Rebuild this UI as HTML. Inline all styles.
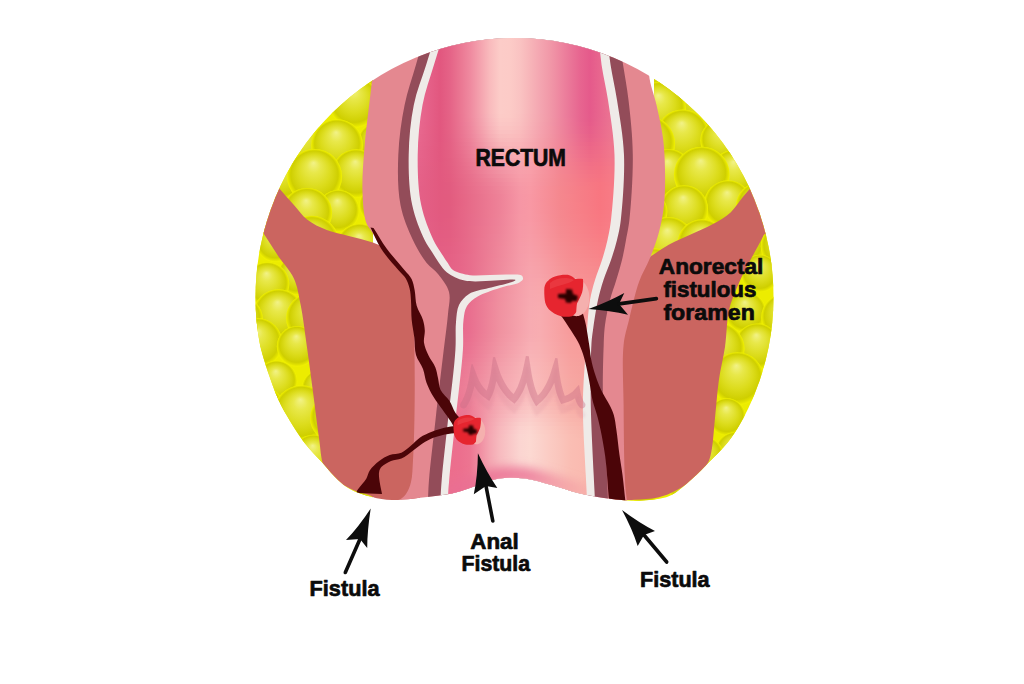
<!DOCTYPE html>
<html><head><meta charset="utf-8">
<style>
html,body{margin:0;padding:0;background:#fff;width:1024px;height:684px;overflow:hidden}
svg{display:block}
text{font-family:"Liberation Sans",sans-serif;font-weight:bold;fill:#0b0b0b;stroke:#0b0b0b;stroke-width:0.7px;stroke-linejoin:round}
</style></head><body>
<svg width="1024" height="684" viewBox="0 0 1024 684">
<defs>
  <clipPath id="circ"><circle cx="514.5" cy="297" r="259"/></clipPath>
  <clipPath id="wave"><path d="M -10,-10 L 1034,-10 L 1034,395 L 765,395 C 758.0,403.3 750.4,411.8 744.0,420.0 C 738.0,427.6 733.4,435.7 727.5,442.7 C 721.8,449.5 715.4,455.6 709.4,461.7 C 703.6,467.6 698.4,473.5 692.0,479.0 C 685.1,484.9 677.7,492.4 669.4,496.0 C 661.3,499.5 650.5,499.8 642.8,500.5 C 636.9,501.0 632.8,500.8 627.0,500.5 C 620.0,500.1 611.9,499.2 604.0,498.0 C 595.6,496.7 586.6,495.1 578.0,493.0 C 569.2,490.8 560.4,487.4 551.6,485.0 C 542.8,482.6 533.9,479.6 525.0,478.5 C 516.3,477.5 507.6,477.2 499.0,478.5 C 490.1,479.9 480.2,484.5 472.6,487.0 C 466.9,488.9 462.2,490.7 457.5,492.0 C 453.4,493.1 450.1,493.8 446.0,494.5 C 441.3,495.3 437.2,495.8 431.0,496.5 C 421.1,497.6 402.8,500.3 392.0,500.0 C 384.2,499.8 378.7,498.7 372.0,497.0 C 364.8,495.2 356.0,492.3 350.0,489.0 C 345.2,486.4 342.0,483.7 338.0,480.0 C 333.0,475.5 328.2,469.2 322.9,463.3 C 317.1,456.8 310.1,450.0 304.6,442.9 C 299.2,435.9 294.4,428.3 290.0,421.0 C 285.8,414.0 282.1,407.6 278.6,400.0 C 274.7,391.5 271.3,381.7 268.0,372.0 C 264.5,361.7 261.3,350.7 258.0,340.0 L -10,340 Z"/></clipPath>
  <radialGradient id="bub" cx="0.5" cy="0.5" r="0.5" fx="0.48" fy="0.25">
    <stop offset="0" stop-color="#f2f288"/>
    <stop offset="0.25" stop-color="#e8e84a"/>
    <stop offset="0.6" stop-color="#dcdc1c"/>
    <stop offset="0.86" stop-color="#cfcf00"/>
    <stop offset="0.95" stop-color="#e4e400"/>
    <stop offset="1" stop-color="#f2f200"/>
  </radialGradient>
  <linearGradient id="lum" gradientUnits="userSpaceOnUse" x1="420" y1="0" x2="615" y2="0">
    <stop offset="0" stop-color="#ea6a92"/>
    <stop offset="0.2" stop-color="#e25886"/>
    <stop offset="0.38" stop-color="#f295ab"/>
    <stop offset="0.52" stop-color="#fcc5c7"/>
    <stop offset="0.66" stop-color="#f5a4b2"/>
    <stop offset="0.82" stop-color="#e35b86"/>
    <stop offset="1" stop-color="#f08aa0"/>
  </linearGradient>
  <radialGradient id="lowlum" gradientUnits="userSpaceOnUse" cx="520" cy="440" r="110">
    <stop offset="0" stop-color="#fde3dc" stop-opacity="1"/>
    <stop offset="0.5" stop-color="#fbd0cc" stop-opacity="0.9"/>
    <stop offset="1" stop-color="#f6b0b4" stop-opacity="0"/>
  </radialGradient>
  <radialGradient id="red" cx="0.4" cy="0.45" r="0.6">
    <stop offset="0" stop-color="#e8303c"/>
    <stop offset="0.7" stop-color="#e42a36"/>
    <stop offset="1" stop-color="#d8202e"/>
  </radialGradient>
  <filter id="blur1" x="-50%" y="-50%" width="200%" height="200%"><feGaussianBlur stdDeviation="1.2"/></filter>
  <filter id="blur3" filterUnits="userSpaceOnUse" x="380" y="380" width="300" height="160"><feGaussianBlur stdDeviation="5"/></filter>
<clipPath id="lumclip"><path d="M 445.0,30.0 C 441.3,41.7 437.5,52.9 433.9,65.0 C 430.0,77.9 425.2,90.8 422.5,105.0 C 419.6,120.6 417.9,138.3 417.7,155.0 C 417.5,171.7 418.1,190.0 421.2,205.0 C 423.9,217.9 429.5,231.5 433.4,240.0 C 435.8,245.2 438.1,248.1 440.5,252.0 C 442.9,255.8 445.5,259.8 447.8,263.0 C 449.6,265.6 450.3,268.1 453.0,270.0 C 456.8,272.7 464.0,274.3 470.0,275.2 C 476.3,276.1 483.5,275.1 490.0,275.0 C 496.2,274.9 502.4,274.5 508.0,274.6 C 512.9,274.7 519.5,273.9 521.6,275.5 C 522.7,276.3 523.2,277.9 523.0,279.0 C 522.7,280.2 521.3,281.3 519.4,282.4 C 515.6,284.6 506.3,285.7 499.6,287.9 C 492.4,290.3 483.5,293.0 477.7,296.5 C 473.2,299.3 469.4,302.1 467.0,306.0 C 464.6,309.9 464.2,314.4 463.5,320.0 C 462.4,328.1 463.7,337.9 462.9,350.0 C 461.7,368.5 457.9,397.6 455.5,420.0 C 453.3,440.8 450.4,465.3 449.2,480.0 C 448.5,488.4 448.4,493.3 448.0,500.0 C 447.6,506.7 447.3,513.3 447.0,520.0 L 588.0,520.0 C 587.7,513.3 587.3,507.0 587.0,500.0 C 586.6,492.1 586.3,485.4 585.8,475.0 C 585.0,457.5 582.8,425.8 582.9,405.0 C 582.9,388.3 584.2,373.5 585.0,360.0 C 585.6,349.0 586.2,340.0 587.0,330.0 C 587.8,320.0 588.4,308.9 590.0,300.0 C 591.3,292.6 593.0,286.6 595.0,280.0 C 597.0,273.3 599.9,266.7 602.0,260.0 C 604.1,253.4 606.0,246.7 607.5,240.0 C 609.0,233.4 610.0,228.6 611.0,220.0 C 612.8,204.6 615.2,175.7 614.5,155.0 C 613.9,135.9 610.4,116.2 608.0,100.0 C 606.0,87.0 603.3,76.7 601.6,65.0 C 599.9,53.4 599.2,41.7 598.0,30.0 Z"/></clipPath>
<linearGradient id="s0" gradientUnits="userSpaceOnUse" x1="420" y1="0" x2="615" y2="0"><stop offset="0.000" stop-color="#e8688f"/><stop offset="0.051" stop-color="#e55f87"/><stop offset="0.103" stop-color="#e2577f"/><stop offset="0.154" stop-color="#e56387"/><stop offset="0.205" stop-color="#ea7692"/><stop offset="0.256" stop-color="#ef899f"/><stop offset="0.308" stop-color="#f4a2ae"/><stop offset="0.359" stop-color="#f9bbbd"/><stop offset="0.410" stop-color="#fcccc8"/><stop offset="0.462" stop-color="#fccbc7"/><stop offset="0.513" stop-color="#fac3c2"/><stop offset="0.564" stop-color="#f7b5b9"/><stop offset="0.615" stop-color="#f4a6b1"/><stop offset="0.667" stop-color="#f198a8"/><stop offset="0.718" stop-color="#ee87a0"/><stop offset="0.769" stop-color="#ea7698"/><stop offset="0.821" stop-color="#e76590"/><stop offset="0.872" stop-color="#e55a8b"/><stop offset="0.923" stop-color="#e8668e"/><stop offset="0.974" stop-color="#eb7292"/></linearGradient>
<linearGradient id="s1" gradientUnits="userSpaceOnUse" x1="420" y1="0" x2="615" y2="0"><stop offset="0.000" stop-color="#e8688f"/><stop offset="0.051" stop-color="#e55f87"/><stop offset="0.103" stop-color="#e2577f"/><stop offset="0.154" stop-color="#e56387"/><stop offset="0.205" stop-color="#ea7692"/><stop offset="0.256" stop-color="#ef899f"/><stop offset="0.308" stop-color="#f4a2ae"/><stop offset="0.359" stop-color="#f9bbbd"/><stop offset="0.410" stop-color="#fcccc8"/><stop offset="0.462" stop-color="#fccbc7"/><stop offset="0.513" stop-color="#fac3c2"/><stop offset="0.564" stop-color="#f7b5b9"/><stop offset="0.615" stop-color="#f4a6b1"/><stop offset="0.667" stop-color="#f198a8"/><stop offset="0.718" stop-color="#ee87a0"/><stop offset="0.769" stop-color="#ea7698"/><stop offset="0.821" stop-color="#e76590"/><stop offset="0.872" stop-color="#e55a8b"/><stop offset="0.923" stop-color="#e8668e"/><stop offset="0.974" stop-color="#eb7292"/></linearGradient>
<linearGradient id="s2" gradientUnits="userSpaceOnUse" x1="420" y1="0" x2="615" y2="0"><stop offset="0.000" stop-color="#e8688f"/><stop offset="0.051" stop-color="#e55f87"/><stop offset="0.103" stop-color="#e2577f"/><stop offset="0.154" stop-color="#e56387"/><stop offset="0.205" stop-color="#ea7692"/><stop offset="0.256" stop-color="#ef899f"/><stop offset="0.308" stop-color="#f4a2ae"/><stop offset="0.359" stop-color="#f9bbbd"/><stop offset="0.410" stop-color="#fcccc8"/><stop offset="0.462" stop-color="#fccbc7"/><stop offset="0.513" stop-color="#fac3c2"/><stop offset="0.564" stop-color="#f7b5b9"/><stop offset="0.615" stop-color="#f4a6b1"/><stop offset="0.667" stop-color="#f198a8"/><stop offset="0.718" stop-color="#ee87a0"/><stop offset="0.769" stop-color="#ea7698"/><stop offset="0.821" stop-color="#e76590"/><stop offset="0.872" stop-color="#e55a8b"/><stop offset="0.923" stop-color="#e8668e"/><stop offset="0.974" stop-color="#eb7292"/></linearGradient>
<linearGradient id="s3" gradientUnits="userSpaceOnUse" x1="420" y1="0" x2="615" y2="0"><stop offset="0.000" stop-color="#e8688f"/><stop offset="0.051" stop-color="#e55f87"/><stop offset="0.103" stop-color="#e2577f"/><stop offset="0.154" stop-color="#e56387"/><stop offset="0.205" stop-color="#ea7692"/><stop offset="0.256" stop-color="#ef899f"/><stop offset="0.308" stop-color="#f4a2ae"/><stop offset="0.359" stop-color="#f9bbbd"/><stop offset="0.410" stop-color="#fcccc8"/><stop offset="0.462" stop-color="#fccbc7"/><stop offset="0.513" stop-color="#fac3c2"/><stop offset="0.564" stop-color="#f7b5b9"/><stop offset="0.615" stop-color="#f4a6b1"/><stop offset="0.667" stop-color="#f198a8"/><stop offset="0.718" stop-color="#ee87a0"/><stop offset="0.769" stop-color="#ea7698"/><stop offset="0.821" stop-color="#e76590"/><stop offset="0.872" stop-color="#e55a8b"/><stop offset="0.923" stop-color="#e8668e"/><stop offset="0.974" stop-color="#eb7292"/></linearGradient>
<linearGradient id="s4" gradientUnits="userSpaceOnUse" x1="420" y1="0" x2="615" y2="0"><stop offset="0.000" stop-color="#e8688f"/><stop offset="0.051" stop-color="#e55f87"/><stop offset="0.103" stop-color="#e2577f"/><stop offset="0.154" stop-color="#e56387"/><stop offset="0.205" stop-color="#ea7692"/><stop offset="0.256" stop-color="#ef899f"/><stop offset="0.308" stop-color="#f4a2ae"/><stop offset="0.359" stop-color="#f9bbbd"/><stop offset="0.410" stop-color="#fcccc8"/><stop offset="0.462" stop-color="#fccbc7"/><stop offset="0.513" stop-color="#fac3c2"/><stop offset="0.564" stop-color="#f7b5b9"/><stop offset="0.615" stop-color="#f4a6b1"/><stop offset="0.667" stop-color="#f198a8"/><stop offset="0.718" stop-color="#ee87a0"/><stop offset="0.769" stop-color="#ea7698"/><stop offset="0.821" stop-color="#e76590"/><stop offset="0.872" stop-color="#e55a8b"/><stop offset="0.923" stop-color="#e8668e"/><stop offset="0.974" stop-color="#eb7292"/></linearGradient>
<linearGradient id="s5" gradientUnits="userSpaceOnUse" x1="420" y1="0" x2="615" y2="0"><stop offset="0.000" stop-color="#e8688f"/><stop offset="0.051" stop-color="#e55f87"/><stop offset="0.103" stop-color="#e2577f"/><stop offset="0.154" stop-color="#e56387"/><stop offset="0.205" stop-color="#ea7692"/><stop offset="0.256" stop-color="#ef899f"/><stop offset="0.308" stop-color="#f4a2ae"/><stop offset="0.359" stop-color="#f9bbbd"/><stop offset="0.410" stop-color="#fcccc8"/><stop offset="0.462" stop-color="#fccbc7"/><stop offset="0.513" stop-color="#fac3c2"/><stop offset="0.564" stop-color="#f7b5b9"/><stop offset="0.615" stop-color="#f4a6b1"/><stop offset="0.667" stop-color="#f198a8"/><stop offset="0.718" stop-color="#ee87a0"/><stop offset="0.769" stop-color="#ea7698"/><stop offset="0.821" stop-color="#e76590"/><stop offset="0.872" stop-color="#e55a8b"/><stop offset="0.923" stop-color="#e8668e"/><stop offset="0.974" stop-color="#eb7292"/></linearGradient>
<linearGradient id="s6" gradientUnits="userSpaceOnUse" x1="420" y1="0" x2="615" y2="0"><stop offset="0.000" stop-color="#e8688f"/><stop offset="0.051" stop-color="#e55f87"/><stop offset="0.103" stop-color="#e2577f"/><stop offset="0.154" stop-color="#e56387"/><stop offset="0.205" stop-color="#ea7692"/><stop offset="0.256" stop-color="#ef899f"/><stop offset="0.308" stop-color="#f4a2ae"/><stop offset="0.359" stop-color="#f9bbbd"/><stop offset="0.410" stop-color="#fcccc8"/><stop offset="0.462" stop-color="#fccbc7"/><stop offset="0.513" stop-color="#fac3c2"/><stop offset="0.564" stop-color="#f7b5b9"/><stop offset="0.615" stop-color="#f4a6b1"/><stop offset="0.667" stop-color="#f198a8"/><stop offset="0.718" stop-color="#ee87a0"/><stop offset="0.769" stop-color="#ea7698"/><stop offset="0.821" stop-color="#e76590"/><stop offset="0.872" stop-color="#e55a8b"/><stop offset="0.923" stop-color="#e8668e"/><stop offset="0.974" stop-color="#eb7292"/></linearGradient>
<linearGradient id="s7" gradientUnits="userSpaceOnUse" x1="420" y1="0" x2="615" y2="0"><stop offset="0.000" stop-color="#e8688f"/><stop offset="0.051" stop-color="#e55f87"/><stop offset="0.103" stop-color="#e2577f"/><stop offset="0.154" stop-color="#e56387"/><stop offset="0.205" stop-color="#ea7692"/><stop offset="0.256" stop-color="#ef899f"/><stop offset="0.308" stop-color="#f4a2ae"/><stop offset="0.359" stop-color="#f9bbbd"/><stop offset="0.410" stop-color="#fcccc8"/><stop offset="0.462" stop-color="#fccbc7"/><stop offset="0.513" stop-color="#fac3c2"/><stop offset="0.564" stop-color="#f7b5b9"/><stop offset="0.615" stop-color="#f4a6b1"/><stop offset="0.667" stop-color="#f198a8"/><stop offset="0.718" stop-color="#ee87a0"/><stop offset="0.769" stop-color="#ea7698"/><stop offset="0.821" stop-color="#e76590"/><stop offset="0.872" stop-color="#e55a8b"/><stop offset="0.923" stop-color="#e8668e"/><stop offset="0.974" stop-color="#eb7292"/></linearGradient>
<linearGradient id="s8" gradientUnits="userSpaceOnUse" x1="420" y1="0" x2="615" y2="0"><stop offset="0.000" stop-color="#e8688f"/><stop offset="0.051" stop-color="#e55f87"/><stop offset="0.103" stop-color="#e2577f"/><stop offset="0.154" stop-color="#e56387"/><stop offset="0.205" stop-color="#ea7692"/><stop offset="0.256" stop-color="#ef899f"/><stop offset="0.308" stop-color="#f4a2ae"/><stop offset="0.359" stop-color="#f9bbbd"/><stop offset="0.410" stop-color="#fcccc8"/><stop offset="0.462" stop-color="#fccbc7"/><stop offset="0.513" stop-color="#fac3c2"/><stop offset="0.564" stop-color="#f7b5b9"/><stop offset="0.615" stop-color="#f4a6b1"/><stop offset="0.667" stop-color="#f198a8"/><stop offset="0.718" stop-color="#ee87a0"/><stop offset="0.769" stop-color="#ea7698"/><stop offset="0.821" stop-color="#e76590"/><stop offset="0.872" stop-color="#e55a8b"/><stop offset="0.923" stop-color="#e8668e"/><stop offset="0.974" stop-color="#eb7292"/></linearGradient>
<linearGradient id="s9" gradientUnits="userSpaceOnUse" x1="420" y1="0" x2="615" y2="0"><stop offset="0.000" stop-color="#e8688f"/><stop offset="0.051" stop-color="#e55f87"/><stop offset="0.103" stop-color="#e2577f"/><stop offset="0.154" stop-color="#e56387"/><stop offset="0.205" stop-color="#ea7692"/><stop offset="0.256" stop-color="#ef899f"/><stop offset="0.308" stop-color="#f4a2ae"/><stop offset="0.359" stop-color="#f9bbbd"/><stop offset="0.410" stop-color="#fcccc8"/><stop offset="0.462" stop-color="#fccbc7"/><stop offset="0.513" stop-color="#fac3c2"/><stop offset="0.564" stop-color="#f7b5b9"/><stop offset="0.615" stop-color="#f4a6b1"/><stop offset="0.667" stop-color="#f198a8"/><stop offset="0.718" stop-color="#ee87a0"/><stop offset="0.769" stop-color="#ea7698"/><stop offset="0.821" stop-color="#e76590"/><stop offset="0.872" stop-color="#e55a8b"/><stop offset="0.923" stop-color="#e8668e"/><stop offset="0.974" stop-color="#eb7292"/></linearGradient>
<linearGradient id="s10" gradientUnits="userSpaceOnUse" x1="420" y1="0" x2="615" y2="0"><stop offset="0.000" stop-color="#e8688f"/><stop offset="0.051" stop-color="#e55f87"/><stop offset="0.103" stop-color="#e2577f"/><stop offset="0.154" stop-color="#e56387"/><stop offset="0.205" stop-color="#ea7692"/><stop offset="0.256" stop-color="#ef899f"/><stop offset="0.308" stop-color="#f4a2ae"/><stop offset="0.359" stop-color="#f9bbbd"/><stop offset="0.410" stop-color="#fcccc8"/><stop offset="0.462" stop-color="#fccbc7"/><stop offset="0.513" stop-color="#fac3c2"/><stop offset="0.564" stop-color="#f7b5b9"/><stop offset="0.615" stop-color="#f4a6b1"/><stop offset="0.667" stop-color="#f198a8"/><stop offset="0.718" stop-color="#ee87a0"/><stop offset="0.769" stop-color="#ea7698"/><stop offset="0.821" stop-color="#e76590"/><stop offset="0.872" stop-color="#e55a8b"/><stop offset="0.923" stop-color="#e8668e"/><stop offset="0.974" stop-color="#eb7292"/></linearGradient>
<linearGradient id="s11" gradientUnits="userSpaceOnUse" x1="420" y1="0" x2="615" y2="0"><stop offset="0.000" stop-color="#e8688f"/><stop offset="0.051" stop-color="#e55f87"/><stop offset="0.103" stop-color="#e2577f"/><stop offset="0.154" stop-color="#e56387"/><stop offset="0.205" stop-color="#ea7692"/><stop offset="0.256" stop-color="#ef899f"/><stop offset="0.308" stop-color="#f4a2ae"/><stop offset="0.359" stop-color="#f9bbbd"/><stop offset="0.410" stop-color="#fcccc8"/><stop offset="0.462" stop-color="#fccbc7"/><stop offset="0.513" stop-color="#fac3c2"/><stop offset="0.564" stop-color="#f7b5b9"/><stop offset="0.615" stop-color="#f4a6b1"/><stop offset="0.667" stop-color="#f198a8"/><stop offset="0.718" stop-color="#ee87a0"/><stop offset="0.769" stop-color="#ea7698"/><stop offset="0.821" stop-color="#e76590"/><stop offset="0.872" stop-color="#e55a8b"/><stop offset="0.923" stop-color="#e8668e"/><stop offset="0.974" stop-color="#eb7292"/></linearGradient>
<linearGradient id="s12" gradientUnits="userSpaceOnUse" x1="420" y1="0" x2="615" y2="0"><stop offset="0.000" stop-color="#e8688f"/><stop offset="0.051" stop-color="#e55f87"/><stop offset="0.103" stop-color="#e2577f"/><stop offset="0.154" stop-color="#e56387"/><stop offset="0.205" stop-color="#ea7692"/><stop offset="0.256" stop-color="#ef899f"/><stop offset="0.308" stop-color="#f4a2ae"/><stop offset="0.359" stop-color="#f9bbbd"/><stop offset="0.410" stop-color="#fcccc8"/><stop offset="0.462" stop-color="#fccbc7"/><stop offset="0.513" stop-color="#fac3c2"/><stop offset="0.564" stop-color="#f7b5b9"/><stop offset="0.615" stop-color="#f4a6b1"/><stop offset="0.667" stop-color="#f198a8"/><stop offset="0.718" stop-color="#ee87a0"/><stop offset="0.769" stop-color="#ea7698"/><stop offset="0.821" stop-color="#e76590"/><stop offset="0.872" stop-color="#e55a8b"/><stop offset="0.923" stop-color="#e8668e"/><stop offset="0.974" stop-color="#eb7292"/></linearGradient>
<linearGradient id="s13" gradientUnits="userSpaceOnUse" x1="420" y1="0" x2="615" y2="0"><stop offset="0.000" stop-color="#e8688f"/><stop offset="0.051" stop-color="#e55f87"/><stop offset="0.103" stop-color="#e2577f"/><stop offset="0.154" stop-color="#e56387"/><stop offset="0.205" stop-color="#ea7692"/><stop offset="0.256" stop-color="#ef899f"/><stop offset="0.308" stop-color="#f4a2ae"/><stop offset="0.359" stop-color="#f9bbbd"/><stop offset="0.410" stop-color="#fcccc8"/><stop offset="0.462" stop-color="#fccbc7"/><stop offset="0.513" stop-color="#fac3c2"/><stop offset="0.564" stop-color="#f7b5b9"/><stop offset="0.615" stop-color="#f4a6b1"/><stop offset="0.667" stop-color="#f198a8"/><stop offset="0.718" stop-color="#ee87a0"/><stop offset="0.769" stop-color="#ea7698"/><stop offset="0.821" stop-color="#e76590"/><stop offset="0.872" stop-color="#e55a8b"/><stop offset="0.923" stop-color="#e8668e"/><stop offset="0.974" stop-color="#eb7292"/></linearGradient>
<linearGradient id="s14" gradientUnits="userSpaceOnUse" x1="420" y1="0" x2="615" y2="0"><stop offset="0.000" stop-color="#e8688f"/><stop offset="0.051" stop-color="#e55f87"/><stop offset="0.103" stop-color="#e2577f"/><stop offset="0.154" stop-color="#e56387"/><stop offset="0.205" stop-color="#ea7692"/><stop offset="0.256" stop-color="#ef899f"/><stop offset="0.308" stop-color="#f4a2ae"/><stop offset="0.359" stop-color="#f9bbbd"/><stop offset="0.410" stop-color="#fcccc8"/><stop offset="0.462" stop-color="#fccbc7"/><stop offset="0.513" stop-color="#fac3c2"/><stop offset="0.564" stop-color="#f7b5b9"/><stop offset="0.615" stop-color="#f4a6b1"/><stop offset="0.667" stop-color="#f198a8"/><stop offset="0.718" stop-color="#ee87a0"/><stop offset="0.769" stop-color="#ea7698"/><stop offset="0.821" stop-color="#e76590"/><stop offset="0.872" stop-color="#e55a8b"/><stop offset="0.923" stop-color="#e8668e"/><stop offset="0.974" stop-color="#eb7292"/></linearGradient>
<linearGradient id="s15" gradientUnits="userSpaceOnUse" x1="420" y1="0" x2="615" y2="0"><stop offset="0.000" stop-color="#e8688f"/><stop offset="0.051" stop-color="#e55f87"/><stop offset="0.103" stop-color="#e2577f"/><stop offset="0.154" stop-color="#e56387"/><stop offset="0.205" stop-color="#ea7692"/><stop offset="0.256" stop-color="#ef899f"/><stop offset="0.308" stop-color="#f4a2ae"/><stop offset="0.359" stop-color="#f9bbbd"/><stop offset="0.410" stop-color="#fcccc8"/><stop offset="0.462" stop-color="#fccbc7"/><stop offset="0.513" stop-color="#fac3c2"/><stop offset="0.564" stop-color="#f7b5b9"/><stop offset="0.615" stop-color="#f4a6b1"/><stop offset="0.667" stop-color="#f198a8"/><stop offset="0.718" stop-color="#ee87a0"/><stop offset="0.769" stop-color="#ea7698"/><stop offset="0.821" stop-color="#e76590"/><stop offset="0.872" stop-color="#e55a8b"/><stop offset="0.923" stop-color="#e8668e"/><stop offset="0.974" stop-color="#eb7292"/></linearGradient>
<linearGradient id="s16" gradientUnits="userSpaceOnUse" x1="420" y1="0" x2="615" y2="0"><stop offset="0.000" stop-color="#e8688f"/><stop offset="0.051" stop-color="#e55f87"/><stop offset="0.103" stop-color="#e2577f"/><stop offset="0.154" stop-color="#e56387"/><stop offset="0.205" stop-color="#ea7692"/><stop offset="0.256" stop-color="#ef899f"/><stop offset="0.308" stop-color="#f4a2ae"/><stop offset="0.359" stop-color="#f9bbbd"/><stop offset="0.410" stop-color="#fcccc8"/><stop offset="0.462" stop-color="#fccbc7"/><stop offset="0.513" stop-color="#fac3c2"/><stop offset="0.564" stop-color="#f7b5b9"/><stop offset="0.615" stop-color="#f4a6b1"/><stop offset="0.667" stop-color="#f198a8"/><stop offset="0.718" stop-color="#ee87a0"/><stop offset="0.769" stop-color="#ea7698"/><stop offset="0.821" stop-color="#e76590"/><stop offset="0.872" stop-color="#e55a8b"/><stop offset="0.923" stop-color="#e8668e"/><stop offset="0.974" stop-color="#eb7292"/></linearGradient>
<linearGradient id="s17" gradientUnits="userSpaceOnUse" x1="420" y1="0" x2="615" y2="0"><stop offset="0.000" stop-color="#e8688f"/><stop offset="0.051" stop-color="#e55f87"/><stop offset="0.103" stop-color="#e2577f"/><stop offset="0.154" stop-color="#e56387"/><stop offset="0.205" stop-color="#ea7692"/><stop offset="0.256" stop-color="#ef899f"/><stop offset="0.308" stop-color="#f4a2ae"/><stop offset="0.359" stop-color="#f9bbbd"/><stop offset="0.410" stop-color="#fcccc8"/><stop offset="0.462" stop-color="#fccbc7"/><stop offset="0.513" stop-color="#fac3c2"/><stop offset="0.564" stop-color="#f7b5b9"/><stop offset="0.615" stop-color="#f4a6b1"/><stop offset="0.667" stop-color="#f198a8"/><stop offset="0.718" stop-color="#ee87a0"/><stop offset="0.769" stop-color="#ea7698"/><stop offset="0.821" stop-color="#e76590"/><stop offset="0.872" stop-color="#e55a8b"/><stop offset="0.923" stop-color="#e8668e"/><stop offset="0.974" stop-color="#eb7292"/></linearGradient>
<linearGradient id="s18" gradientUnits="userSpaceOnUse" x1="420" y1="0" x2="615" y2="0"><stop offset="0.000" stop-color="#e8688f"/><stop offset="0.051" stop-color="#e55f87"/><stop offset="0.103" stop-color="#e2577f"/><stop offset="0.154" stop-color="#e56387"/><stop offset="0.205" stop-color="#ea7692"/><stop offset="0.256" stop-color="#ef899f"/><stop offset="0.308" stop-color="#f4a2ae"/><stop offset="0.359" stop-color="#f9bbbd"/><stop offset="0.410" stop-color="#fcccc8"/><stop offset="0.462" stop-color="#fccbc7"/><stop offset="0.513" stop-color="#fac3c2"/><stop offset="0.564" stop-color="#f7b5b9"/><stop offset="0.615" stop-color="#f4a6b1"/><stop offset="0.667" stop-color="#f198a8"/><stop offset="0.718" stop-color="#ee87a0"/><stop offset="0.769" stop-color="#ea7698"/><stop offset="0.821" stop-color="#e76590"/><stop offset="0.872" stop-color="#e55a8b"/><stop offset="0.923" stop-color="#e8668e"/><stop offset="0.974" stop-color="#eb7292"/></linearGradient>
<linearGradient id="s19" gradientUnits="userSpaceOnUse" x1="420" y1="0" x2="615" y2="0"><stop offset="0.000" stop-color="#e8688f"/><stop offset="0.051" stop-color="#e55f87"/><stop offset="0.103" stop-color="#e2577f"/><stop offset="0.154" stop-color="#e56387"/><stop offset="0.205" stop-color="#ea7692"/><stop offset="0.256" stop-color="#ef899f"/><stop offset="0.308" stop-color="#f4a2ae"/><stop offset="0.359" stop-color="#f9bbbd"/><stop offset="0.410" stop-color="#fcccc8"/><stop offset="0.462" stop-color="#fccbc7"/><stop offset="0.513" stop-color="#fac3c2"/><stop offset="0.564" stop-color="#f7b5b9"/><stop offset="0.615" stop-color="#f4a6b1"/><stop offset="0.667" stop-color="#f198a8"/><stop offset="0.718" stop-color="#ee87a0"/><stop offset="0.769" stop-color="#ea7698"/><stop offset="0.821" stop-color="#e76590"/><stop offset="0.872" stop-color="#e55a8b"/><stop offset="0.923" stop-color="#e8668e"/><stop offset="0.974" stop-color="#eb7292"/></linearGradient>
<linearGradient id="s20" gradientUnits="userSpaceOnUse" x1="420" y1="0" x2="615" y2="0"><stop offset="0.000" stop-color="#e8688f"/><stop offset="0.051" stop-color="#e55f87"/><stop offset="0.103" stop-color="#e2577f"/><stop offset="0.154" stop-color="#e56387"/><stop offset="0.205" stop-color="#ea7692"/><stop offset="0.256" stop-color="#ef899f"/><stop offset="0.308" stop-color="#f4a2ae"/><stop offset="0.359" stop-color="#f9bbbd"/><stop offset="0.410" stop-color="#fcccc8"/><stop offset="0.462" stop-color="#fccac6"/><stop offset="0.513" stop-color="#fac3c2"/><stop offset="0.564" stop-color="#f7b5b9"/><stop offset="0.615" stop-color="#f4a6b1"/><stop offset="0.667" stop-color="#f198a8"/><stop offset="0.718" stop-color="#ee87a0"/><stop offset="0.769" stop-color="#ea7698"/><stop offset="0.821" stop-color="#e76690"/><stop offset="0.872" stop-color="#e55a8b"/><stop offset="0.923" stop-color="#e8668e"/><stop offset="0.974" stop-color="#eb7292"/></linearGradient>
<linearGradient id="s21" gradientUnits="userSpaceOnUse" x1="420" y1="0" x2="615" y2="0"><stop offset="0.000" stop-color="#e8688f"/><stop offset="0.051" stop-color="#e55f87"/><stop offset="0.103" stop-color="#e2577f"/><stop offset="0.154" stop-color="#e56386"/><stop offset="0.205" stop-color="#ea7592"/><stop offset="0.256" stop-color="#ef899f"/><stop offset="0.308" stop-color="#f4a1ae"/><stop offset="0.359" stop-color="#f8babd"/><stop offset="0.410" stop-color="#fccbc7"/><stop offset="0.462" stop-color="#fccac6"/><stop offset="0.513" stop-color="#fac2c1"/><stop offset="0.564" stop-color="#f7b4b9"/><stop offset="0.615" stop-color="#f4a6b0"/><stop offset="0.667" stop-color="#f198a8"/><stop offset="0.718" stop-color="#ee87a0"/><stop offset="0.769" stop-color="#ea7698"/><stop offset="0.821" stop-color="#e76690"/><stop offset="0.872" stop-color="#e55b8b"/><stop offset="0.923" stop-color="#e8668e"/><stop offset="0.974" stop-color="#eb7292"/></linearGradient>
<linearGradient id="s22" gradientUnits="userSpaceOnUse" x1="420" y1="0" x2="615" y2="0"><stop offset="0.000" stop-color="#e8688f"/><stop offset="0.051" stop-color="#e55f87"/><stop offset="0.103" stop-color="#e2577f"/><stop offset="0.154" stop-color="#e56386"/><stop offset="0.205" stop-color="#ea7592"/><stop offset="0.256" stop-color="#ef889e"/><stop offset="0.308" stop-color="#f3a0ad"/><stop offset="0.359" stop-color="#f8b8bc"/><stop offset="0.410" stop-color="#fcc9c6"/><stop offset="0.462" stop-color="#fcc8c5"/><stop offset="0.513" stop-color="#fac1c1"/><stop offset="0.564" stop-color="#f7b4b8"/><stop offset="0.615" stop-color="#f4a6b0"/><stop offset="0.667" stop-color="#f198a7"/><stop offset="0.718" stop-color="#ee879f"/><stop offset="0.769" stop-color="#eb7798"/><stop offset="0.821" stop-color="#e76690"/><stop offset="0.872" stop-color="#e55b8a"/><stop offset="0.923" stop-color="#e8678e"/><stop offset="0.974" stop-color="#eb7292"/></linearGradient>
<linearGradient id="s23" gradientUnits="userSpaceOnUse" x1="420" y1="0" x2="615" y2="0"><stop offset="0.000" stop-color="#e8678e"/><stop offset="0.051" stop-color="#e55f87"/><stop offset="0.103" stop-color="#e2577f"/><stop offset="0.154" stop-color="#e56386"/><stop offset="0.205" stop-color="#ea7492"/><stop offset="0.256" stop-color="#ee879e"/><stop offset="0.308" stop-color="#f39fac"/><stop offset="0.359" stop-color="#f8b6bb"/><stop offset="0.410" stop-color="#fbc7c5"/><stop offset="0.462" stop-color="#fbc6c4"/><stop offset="0.513" stop-color="#fac0c0"/><stop offset="0.564" stop-color="#f7b3b8"/><stop offset="0.615" stop-color="#f4a5af"/><stop offset="0.667" stop-color="#f197a7"/><stop offset="0.718" stop-color="#ee879f"/><stop offset="0.769" stop-color="#eb7797"/><stop offset="0.821" stop-color="#e86790"/><stop offset="0.872" stop-color="#e65c8a"/><stop offset="0.923" stop-color="#e9678e"/><stop offset="0.974" stop-color="#eb7391"/></linearGradient>
<linearGradient id="s24" gradientUnits="userSpaceOnUse" x1="420" y1="0" x2="615" y2="0"><stop offset="0.000" stop-color="#e8678e"/><stop offset="0.051" stop-color="#e55f86"/><stop offset="0.103" stop-color="#e2577f"/><stop offset="0.154" stop-color="#e56386"/><stop offset="0.205" stop-color="#e97491"/><stop offset="0.256" stop-color="#ee869d"/><stop offset="0.308" stop-color="#f39dab"/><stop offset="0.359" stop-color="#f7b4b9"/><stop offset="0.410" stop-color="#fbc4c3"/><stop offset="0.462" stop-color="#fbc4c2"/><stop offset="0.513" stop-color="#fabebf"/><stop offset="0.564" stop-color="#f7b2b7"/><stop offset="0.615" stop-color="#f4a4af"/><stop offset="0.667" stop-color="#f297a6"/><stop offset="0.718" stop-color="#ee879e"/><stop offset="0.769" stop-color="#eb7897"/><stop offset="0.821" stop-color="#e8688f"/><stop offset="0.872" stop-color="#e75e8a"/><stop offset="0.923" stop-color="#e9688d"/><stop offset="0.974" stop-color="#ec7391"/></linearGradient>
<linearGradient id="s25" gradientUnits="userSpaceOnUse" x1="420" y1="0" x2="615" y2="0"><stop offset="0.000" stop-color="#e7678e"/><stop offset="0.051" stop-color="#e55f86"/><stop offset="0.103" stop-color="#e2577f"/><stop offset="0.154" stop-color="#e56285"/><stop offset="0.205" stop-color="#e97390"/><stop offset="0.256" stop-color="#ee849c"/><stop offset="0.308" stop-color="#f29ba9"/><stop offset="0.359" stop-color="#f7b1b7"/><stop offset="0.410" stop-color="#fac1c1"/><stop offset="0.462" stop-color="#fac1c1"/><stop offset="0.513" stop-color="#fabcbd"/><stop offset="0.564" stop-color="#f7b0b6"/><stop offset="0.615" stop-color="#f5a3ae"/><stop offset="0.667" stop-color="#f296a5"/><stop offset="0.718" stop-color="#ef879d"/><stop offset="0.769" stop-color="#ec7896"/><stop offset="0.821" stop-color="#e9698f"/><stop offset="0.872" stop-color="#e75f8a"/><stop offset="0.923" stop-color="#ea698c"/><stop offset="0.974" stop-color="#ed7390"/></linearGradient>
<linearGradient id="s26" gradientUnits="userSpaceOnUse" x1="420" y1="0" x2="615" y2="0"><stop offset="0.000" stop-color="#e7668d"/><stop offset="0.051" stop-color="#e45f86"/><stop offset="0.103" stop-color="#e2577f"/><stop offset="0.154" stop-color="#e46285"/><stop offset="0.205" stop-color="#e97290"/><stop offset="0.256" stop-color="#ed839b"/><stop offset="0.308" stop-color="#f298a8"/><stop offset="0.359" stop-color="#f6aeb5"/><stop offset="0.410" stop-color="#f9bdbe"/><stop offset="0.462" stop-color="#fabebe"/><stop offset="0.513" stop-color="#fababc"/><stop offset="0.564" stop-color="#f7afb5"/><stop offset="0.615" stop-color="#f5a2ad"/><stop offset="0.667" stop-color="#f296a4"/><stop offset="0.718" stop-color="#ef879c"/><stop offset="0.769" stop-color="#ed7995"/><stop offset="0.821" stop-color="#ea6b8e"/><stop offset="0.872" stop-color="#e86189"/><stop offset="0.923" stop-color="#eb698c"/><stop offset="0.974" stop-color="#ed748f"/></linearGradient>
<linearGradient id="s27" gradientUnits="userSpaceOnUse" x1="420" y1="0" x2="615" y2="0"><stop offset="0.000" stop-color="#e7668d"/><stop offset="0.051" stop-color="#e45f86"/><stop offset="0.103" stop-color="#e2577f"/><stop offset="0.154" stop-color="#e46185"/><stop offset="0.205" stop-color="#e9718f"/><stop offset="0.256" stop-color="#ed8199"/><stop offset="0.308" stop-color="#f196a6"/><stop offset="0.359" stop-color="#f5aab2"/><stop offset="0.410" stop-color="#f8b9bb"/><stop offset="0.462" stop-color="#f9babc"/><stop offset="0.513" stop-color="#f9b7ba"/><stop offset="0.564" stop-color="#f7adb4"/><stop offset="0.615" stop-color="#f5a1ab"/><stop offset="0.667" stop-color="#f295a3"/><stop offset="0.718" stop-color="#f0879b"/><stop offset="0.769" stop-color="#ed7a95"/><stop offset="0.821" stop-color="#eb6c8e"/><stop offset="0.872" stop-color="#e96389"/><stop offset="0.923" stop-color="#ec6a8b"/><stop offset="0.974" stop-color="#ee748e"/></linearGradient>
<linearGradient id="s28" gradientUnits="userSpaceOnUse" x1="420" y1="0" x2="615" y2="0"><stop offset="0.000" stop-color="#e7658c"/><stop offset="0.051" stop-color="#e45f86"/><stop offset="0.103" stop-color="#e2587f"/><stop offset="0.154" stop-color="#e46184"/><stop offset="0.205" stop-color="#e8708e"/><stop offset="0.256" stop-color="#ec7f98"/><stop offset="0.308" stop-color="#f093a4"/><stop offset="0.359" stop-color="#f4a6b0"/><stop offset="0.410" stop-color="#f8b4b8"/><stop offset="0.462" stop-color="#f9b7ba"/><stop offset="0.513" stop-color="#f9b4b8"/><stop offset="0.564" stop-color="#f7abb2"/><stop offset="0.615" stop-color="#f5a0aa"/><stop offset="0.667" stop-color="#f394a2"/><stop offset="0.718" stop-color="#f0879a"/><stop offset="0.769" stop-color="#ee7a94"/><stop offset="0.821" stop-color="#ec6d8d"/><stop offset="0.872" stop-color="#eb6588"/><stop offset="0.923" stop-color="#ed6b8a"/><stop offset="0.974" stop-color="#ef758e"/></linearGradient>
<linearGradient id="s29" gradientUnits="userSpaceOnUse" x1="420" y1="0" x2="615" y2="0"><stop offset="0.000" stop-color="#e6658c"/><stop offset="0.051" stop-color="#e45e85"/><stop offset="0.103" stop-color="#e2587f"/><stop offset="0.154" stop-color="#e46184"/><stop offset="0.205" stop-color="#e86f8d"/><stop offset="0.256" stop-color="#ec7d97"/><stop offset="0.308" stop-color="#f090a2"/><stop offset="0.359" stop-color="#f4a2ad"/><stop offset="0.410" stop-color="#f7afb5"/><stop offset="0.462" stop-color="#f8b3b7"/><stop offset="0.513" stop-color="#f9b2b7"/><stop offset="0.564" stop-color="#f7aab1"/><stop offset="0.615" stop-color="#f59fa9"/><stop offset="0.667" stop-color="#f394a1"/><stop offset="0.718" stop-color="#f08799"/><stop offset="0.769" stop-color="#ef7b93"/><stop offset="0.821" stop-color="#ed6f8d"/><stop offset="0.872" stop-color="#ec6788"/><stop offset="0.923" stop-color="#ee6c89"/><stop offset="0.974" stop-color="#f0758d"/></linearGradient>
<linearGradient id="s30" gradientUnits="userSpaceOnUse" x1="420" y1="0" x2="615" y2="0"><stop offset="0.000" stop-color="#e6648b"/><stop offset="0.051" stop-color="#e45e85"/><stop offset="0.103" stop-color="#e2587f"/><stop offset="0.154" stop-color="#e46083"/><stop offset="0.205" stop-color="#e86d8c"/><stop offset="0.256" stop-color="#eb7c95"/><stop offset="0.308" stop-color="#ef8da0"/><stop offset="0.359" stop-color="#f39eaa"/><stop offset="0.410" stop-color="#f6abb2"/><stop offset="0.462" stop-color="#f7aeb4"/><stop offset="0.513" stop-color="#f8afb5"/><stop offset="0.564" stop-color="#f7a8b0"/><stop offset="0.615" stop-color="#f59da8"/><stop offset="0.667" stop-color="#f393a0"/><stop offset="0.718" stop-color="#f18798"/><stop offset="0.769" stop-color="#ef7c92"/><stop offset="0.821" stop-color="#ee718c"/><stop offset="0.872" stop-color="#ed6987"/><stop offset="0.923" stop-color="#ef6d88"/><stop offset="0.974" stop-color="#f1768c"/></linearGradient>
<linearGradient id="s31" gradientUnits="userSpaceOnUse" x1="420" y1="0" x2="615" y2="0"><stop offset="0.000" stop-color="#e6648b"/><stop offset="0.051" stop-color="#e45e85"/><stop offset="0.103" stop-color="#e2587f"/><stop offset="0.154" stop-color="#e46083"/><stop offset="0.205" stop-color="#e76c8b"/><stop offset="0.256" stop-color="#eb7a94"/><stop offset="0.308" stop-color="#ee899e"/><stop offset="0.359" stop-color="#f299a8"/><stop offset="0.410" stop-color="#f5a6af"/><stop offset="0.462" stop-color="#f7aab2"/><stop offset="0.513" stop-color="#f8acb3"/><stop offset="0.564" stop-color="#f7a6ae"/><stop offset="0.615" stop-color="#f59ca6"/><stop offset="0.667" stop-color="#f4929e"/><stop offset="0.718" stop-color="#f18797"/><stop offset="0.769" stop-color="#f07d91"/><stop offset="0.821" stop-color="#ef728c"/><stop offset="0.872" stop-color="#ee6b87"/><stop offset="0.923" stop-color="#f06e87"/><stop offset="0.974" stop-color="#f1768b"/></linearGradient>
<linearGradient id="s32" gradientUnits="userSpaceOnUse" x1="420" y1="0" x2="615" y2="0"><stop offset="0.000" stop-color="#e6638a"/><stop offset="0.051" stop-color="#e45e85"/><stop offset="0.103" stop-color="#e2587f"/><stop offset="0.154" stop-color="#e35f82"/><stop offset="0.205" stop-color="#e76b8a"/><stop offset="0.256" stop-color="#ea7892"/><stop offset="0.308" stop-color="#ee869c"/><stop offset="0.359" stop-color="#f195a5"/><stop offset="0.410" stop-color="#f4a1ac"/><stop offset="0.462" stop-color="#f6a6af"/><stop offset="0.513" stop-color="#f8a9b1"/><stop offset="0.564" stop-color="#f7a4ad"/><stop offset="0.615" stop-color="#f69ba5"/><stop offset="0.667" stop-color="#f4919d"/><stop offset="0.718" stop-color="#f28796"/><stop offset="0.769" stop-color="#f17e90"/><stop offset="0.821" stop-color="#f0748b"/><stop offset="0.872" stop-color="#ef6d87"/><stop offset="0.923" stop-color="#f16f86"/><stop offset="0.974" stop-color="#f2778a"/></linearGradient>
<linearGradient id="s33" gradientUnits="userSpaceOnUse" x1="420" y1="0" x2="615" y2="0"><stop offset="0.000" stop-color="#e5638a"/><stop offset="0.051" stop-color="#e45e84"/><stop offset="0.103" stop-color="#e2597f"/><stop offset="0.154" stop-color="#e35f82"/><stop offset="0.205" stop-color="#e66a89"/><stop offset="0.256" stop-color="#ea7691"/><stop offset="0.308" stop-color="#ed8399"/><stop offset="0.359" stop-color="#f091a2"/><stop offset="0.410" stop-color="#f39ca9"/><stop offset="0.462" stop-color="#f6a2ad"/><stop offset="0.513" stop-color="#f8a6af"/><stop offset="0.564" stop-color="#f7a2ac"/><stop offset="0.615" stop-color="#f699a4"/><stop offset="0.667" stop-color="#f4919c"/><stop offset="0.718" stop-color="#f28794"/><stop offset="0.769" stop-color="#f27e8f"/><stop offset="0.821" stop-color="#f1768a"/><stop offset="0.872" stop-color="#f16f86"/><stop offset="0.923" stop-color="#f27085"/><stop offset="0.974" stop-color="#f37789"/></linearGradient>
<linearGradient id="s34" gradientUnits="userSpaceOnUse" x1="420" y1="0" x2="615" y2="0"><stop offset="0.000" stop-color="#e56289"/><stop offset="0.051" stop-color="#e35e84"/><stop offset="0.103" stop-color="#e2597f"/><stop offset="0.154" stop-color="#e35e82"/><stop offset="0.205" stop-color="#e66988"/><stop offset="0.256" stop-color="#e97490"/><stop offset="0.308" stop-color="#ec8097"/><stop offset="0.359" stop-color="#ef8d9f"/><stop offset="0.410" stop-color="#f297a6"/><stop offset="0.462" stop-color="#f59eaa"/><stop offset="0.513" stop-color="#f7a3ad"/><stop offset="0.564" stop-color="#f7a0aa"/><stop offset="0.615" stop-color="#f698a3"/><stop offset="0.667" stop-color="#f4909b"/><stop offset="0.718" stop-color="#f38793"/><stop offset="0.769" stop-color="#f27f8e"/><stop offset="0.821" stop-color="#f2778a"/><stop offset="0.872" stop-color="#f27186"/><stop offset="0.923" stop-color="#f37184"/><stop offset="0.974" stop-color="#f47888"/></linearGradient>
<linearGradient id="s35" gradientUnits="userSpaceOnUse" x1="420" y1="0" x2="615" y2="0"><stop offset="0.000" stop-color="#e56289"/><stop offset="0.051" stop-color="#e35d84"/><stop offset="0.103" stop-color="#e2597f"/><stop offset="0.154" stop-color="#e35e81"/><stop offset="0.205" stop-color="#e66888"/><stop offset="0.256" stop-color="#e9728e"/><stop offset="0.308" stop-color="#ec7e96"/><stop offset="0.359" stop-color="#ef899d"/><stop offset="0.410" stop-color="#f193a3"/><stop offset="0.462" stop-color="#f49aa8"/><stop offset="0.513" stop-color="#f7a0ab"/><stop offset="0.564" stop-color="#f89fa9"/><stop offset="0.615" stop-color="#f697a1"/><stop offset="0.667" stop-color="#f58f9a"/><stop offset="0.718" stop-color="#f38792"/><stop offset="0.769" stop-color="#f3808e"/><stop offset="0.821" stop-color="#f37989"/><stop offset="0.872" stop-color="#f37385"/><stop offset="0.923" stop-color="#f47283"/><stop offset="0.974" stop-color="#f57887"/></linearGradient>
<linearGradient id="s36" gradientUnits="userSpaceOnUse" x1="420" y1="0" x2="615" y2="0"><stop offset="0.000" stop-color="#e56188"/><stop offset="0.051" stop-color="#e35d84"/><stop offset="0.103" stop-color="#e2597f"/><stop offset="0.154" stop-color="#e35d81"/><stop offset="0.205" stop-color="#e66787"/><stop offset="0.256" stop-color="#e8708d"/><stop offset="0.308" stop-color="#eb7b94"/><stop offset="0.359" stop-color="#ee869b"/><stop offset="0.410" stop-color="#f08fa0"/><stop offset="0.462" stop-color="#f497a5"/><stop offset="0.513" stop-color="#f79eaa"/><stop offset="0.564" stop-color="#f89da8"/><stop offset="0.615" stop-color="#f696a0"/><stop offset="0.667" stop-color="#f58f99"/><stop offset="0.718" stop-color="#f48791"/><stop offset="0.769" stop-color="#f4818d"/><stop offset="0.821" stop-color="#f47a89"/><stop offset="0.872" stop-color="#f47585"/><stop offset="0.923" stop-color="#f57383"/><stop offset="0.974" stop-color="#f67986"/></linearGradient>
<linearGradient id="s37" gradientUnits="userSpaceOnUse" x1="420" y1="0" x2="615" y2="0"><stop offset="0.000" stop-color="#e56188"/><stop offset="0.051" stop-color="#e35d83"/><stop offset="0.103" stop-color="#e2597f"/><stop offset="0.154" stop-color="#e35d80"/><stop offset="0.205" stop-color="#e56686"/><stop offset="0.256" stop-color="#e86f8c"/><stop offset="0.308" stop-color="#eb7992"/><stop offset="0.359" stop-color="#ed8298"/><stop offset="0.410" stop-color="#f08b9e"/><stop offset="0.462" stop-color="#f394a3"/><stop offset="0.513" stop-color="#f79ca8"/><stop offset="0.564" stop-color="#f89ca7"/><stop offset="0.615" stop-color="#f6959f"/><stop offset="0.667" stop-color="#f58e98"/><stop offset="0.718" stop-color="#f48790"/><stop offset="0.769" stop-color="#f4818c"/><stop offset="0.821" stop-color="#f57b88"/><stop offset="0.872" stop-color="#f57684"/><stop offset="0.923" stop-color="#f67482"/><stop offset="0.974" stop-color="#f67986"/></linearGradient>
<linearGradient id="s38" gradientUnits="userSpaceOnUse" x1="420" y1="0" x2="615" y2="0"><stop offset="0.000" stop-color="#e46188"/><stop offset="0.051" stop-color="#e35d83"/><stop offset="0.103" stop-color="#e2597f"/><stop offset="0.154" stop-color="#e25c80"/><stop offset="0.205" stop-color="#e56586"/><stop offset="0.256" stop-color="#e86e8b"/><stop offset="0.308" stop-color="#ea7791"/><stop offset="0.359" stop-color="#ed8097"/><stop offset="0.410" stop-color="#ef889c"/><stop offset="0.462" stop-color="#f391a2"/><stop offset="0.513" stop-color="#f69aa7"/><stop offset="0.564" stop-color="#f89ba6"/><stop offset="0.615" stop-color="#f6949f"/><stop offset="0.667" stop-color="#f58e97"/><stop offset="0.718" stop-color="#f48790"/><stop offset="0.769" stop-color="#f5828c"/><stop offset="0.821" stop-color="#f57c88"/><stop offset="0.872" stop-color="#f67884"/><stop offset="0.923" stop-color="#f77581"/><stop offset="0.974" stop-color="#f77985"/></linearGradient>
<linearGradient id="s39" gradientUnits="userSpaceOnUse" x1="420" y1="0" x2="615" y2="0"><stop offset="0.000" stop-color="#e46087"/><stop offset="0.051" stop-color="#e35d83"/><stop offset="0.103" stop-color="#e2597f"/><stop offset="0.154" stop-color="#e25c80"/><stop offset="0.205" stop-color="#e56485"/><stop offset="0.256" stop-color="#e76d8a"/><stop offset="0.308" stop-color="#ea7590"/><stop offset="0.359" stop-color="#ec7d95"/><stop offset="0.410" stop-color="#ef869a"/><stop offset="0.462" stop-color="#f28fa0"/><stop offset="0.513" stop-color="#f698a6"/><stop offset="0.564" stop-color="#f89aa5"/><stop offset="0.615" stop-color="#f7939e"/><stop offset="0.667" stop-color="#f68d96"/><stop offset="0.718" stop-color="#f5878f"/><stop offset="0.769" stop-color="#f5828b"/><stop offset="0.821" stop-color="#f67d87"/><stop offset="0.872" stop-color="#f67984"/><stop offset="0.923" stop-color="#f77581"/><stop offset="0.974" stop-color="#f77a85"/></linearGradient>
<linearGradient id="s40" gradientUnits="userSpaceOnUse" x1="420" y1="0" x2="615" y2="0"><stop offset="0.000" stop-color="#e46087"/><stop offset="0.051" stop-color="#e35d83"/><stop offset="0.103" stop-color="#e25a7f"/><stop offset="0.154" stop-color="#e25c80"/><stop offset="0.205" stop-color="#e56485"/><stop offset="0.256" stop-color="#e76c8a"/><stop offset="0.308" stop-color="#ea748f"/><stop offset="0.359" stop-color="#ec7c94"/><stop offset="0.410" stop-color="#ee8499"/><stop offset="0.462" stop-color="#f28d9f"/><stop offset="0.513" stop-color="#f697a5"/><stop offset="0.564" stop-color="#f899a5"/><stop offset="0.615" stop-color="#f7939d"/><stop offset="0.667" stop-color="#f68d96"/><stop offset="0.718" stop-color="#f5878e"/><stop offset="0.769" stop-color="#f5828b"/><stop offset="0.821" stop-color="#f67e87"/><stop offset="0.872" stop-color="#f77a84"/><stop offset="0.923" stop-color="#f87680"/><stop offset="0.974" stop-color="#f87a84"/></linearGradient>
<linearGradient id="s41" gradientUnits="userSpaceOnUse" x1="420" y1="0" x2="615" y2="0"><stop offset="0.000" stop-color="#e46087"/><stop offset="0.051" stop-color="#e35d83"/><stop offset="0.103" stop-color="#e25a7f"/><stop offset="0.154" stop-color="#e25c7f"/><stop offset="0.205" stop-color="#e56484"/><stop offset="0.256" stop-color="#e76b89"/><stop offset="0.308" stop-color="#e9738e"/><stop offset="0.359" stop-color="#ec7b93"/><stop offset="0.410" stop-color="#ee8298"/><stop offset="0.462" stop-color="#f28c9f"/><stop offset="0.513" stop-color="#f696a5"/><stop offset="0.564" stop-color="#f898a4"/><stop offset="0.615" stop-color="#f7939d"/><stop offset="0.667" stop-color="#f68d96"/><stop offset="0.718" stop-color="#f5878e"/><stop offset="0.769" stop-color="#f6838b"/><stop offset="0.821" stop-color="#f67e87"/><stop offset="0.872" stop-color="#f77a84"/><stop offset="0.923" stop-color="#f87680"/><stop offset="0.974" stop-color="#f87a84"/></linearGradient>
<linearGradient id="s42" gradientUnits="userSpaceOnUse" x1="420" y1="0" x2="615" y2="0"><stop offset="0.000" stop-color="#e46087"/><stop offset="0.051" stop-color="#e35d83"/><stop offset="0.103" stop-color="#e25a7f"/><stop offset="0.154" stop-color="#e25c7f"/><stop offset="0.205" stop-color="#e56384"/><stop offset="0.256" stop-color="#e76b89"/><stop offset="0.308" stop-color="#e9738e"/><stop offset="0.359" stop-color="#ec7a93"/><stop offset="0.410" stop-color="#ee8298"/><stop offset="0.462" stop-color="#f28c9e"/><stop offset="0.513" stop-color="#f696a5"/><stop offset="0.564" stop-color="#f898a4"/><stop offset="0.615" stop-color="#f7929d"/><stop offset="0.667" stop-color="#f68d95"/><stop offset="0.718" stop-color="#f5878e"/><stop offset="0.769" stop-color="#f6838a"/><stop offset="0.821" stop-color="#f67e87"/><stop offset="0.872" stop-color="#f77a84"/><stop offset="0.923" stop-color="#f87680"/><stop offset="0.974" stop-color="#f87a84"/></linearGradient>
<linearGradient id="s43" gradientUnits="userSpaceOnUse" x1="420" y1="0" x2="615" y2="0"><stop offset="0.000" stop-color="#e46087"/><stop offset="0.051" stop-color="#e35d83"/><stop offset="0.103" stop-color="#e25a7f"/><stop offset="0.154" stop-color="#e25c7f"/><stop offset="0.205" stop-color="#e56384"/><stop offset="0.256" stop-color="#e76b89"/><stop offset="0.308" stop-color="#e9738e"/><stop offset="0.359" stop-color="#ec7a93"/><stop offset="0.410" stop-color="#ee8298"/><stop offset="0.462" stop-color="#f28c9e"/><stop offset="0.513" stop-color="#f696a5"/><stop offset="0.564" stop-color="#f898a4"/><stop offset="0.615" stop-color="#f7939d"/><stop offset="0.667" stop-color="#f68d95"/><stop offset="0.718" stop-color="#f5878e"/><stop offset="0.769" stop-color="#f6838b"/><stop offset="0.821" stop-color="#f77f87"/><stop offset="0.872" stop-color="#f77a84"/><stop offset="0.923" stop-color="#f87680"/><stop offset="0.974" stop-color="#f87a84"/></linearGradient>
<linearGradient id="s44" gradientUnits="userSpaceOnUse" x1="420" y1="0" x2="615" y2="0"><stop offset="0.000" stop-color="#e46087"/><stop offset="0.051" stop-color="#e35d83"/><stop offset="0.103" stop-color="#e25a7f"/><stop offset="0.154" stop-color="#e25c80"/><stop offset="0.205" stop-color="#e56484"/><stop offset="0.256" stop-color="#e76b89"/><stop offset="0.308" stop-color="#e9738e"/><stop offset="0.359" stop-color="#ec7a93"/><stop offset="0.410" stop-color="#ee8298"/><stop offset="0.462" stop-color="#f28c9e"/><stop offset="0.513" stop-color="#f696a5"/><stop offset="0.564" stop-color="#f898a4"/><stop offset="0.615" stop-color="#f7939d"/><stop offset="0.667" stop-color="#f68d96"/><stop offset="0.718" stop-color="#f5878e"/><stop offset="0.769" stop-color="#f6838b"/><stop offset="0.821" stop-color="#f77f87"/><stop offset="0.872" stop-color="#f77b84"/><stop offset="0.923" stop-color="#f87680"/><stop offset="0.974" stop-color="#f87a84"/></linearGradient>
<linearGradient id="s45" gradientUnits="userSpaceOnUse" x1="420" y1="0" x2="615" y2="0"><stop offset="0.000" stop-color="#e46087"/><stop offset="0.051" stop-color="#e35d83"/><stop offset="0.103" stop-color="#e25a7f"/><stop offset="0.154" stop-color="#e25c80"/><stop offset="0.205" stop-color="#e56485"/><stop offset="0.256" stop-color="#e76b89"/><stop offset="0.308" stop-color="#e9738e"/><stop offset="0.359" stop-color="#ec7b93"/><stop offset="0.410" stop-color="#ee8298"/><stop offset="0.462" stop-color="#f28c9f"/><stop offset="0.513" stop-color="#f696a5"/><stop offset="0.564" stop-color="#f899a5"/><stop offset="0.615" stop-color="#f7939d"/><stop offset="0.667" stop-color="#f68d96"/><stop offset="0.718" stop-color="#f5888f"/><stop offset="0.769" stop-color="#f6838b"/><stop offset="0.821" stop-color="#f77f87"/><stop offset="0.872" stop-color="#f77b84"/><stop offset="0.923" stop-color="#f87781"/><stop offset="0.974" stop-color="#f87b84"/></linearGradient>
<linearGradient id="s46" gradientUnits="userSpaceOnUse" x1="420" y1="0" x2="615" y2="0"><stop offset="0.000" stop-color="#e46087"/><stop offset="0.051" stop-color="#e35d83"/><stop offset="0.103" stop-color="#e25a80"/><stop offset="0.154" stop-color="#e25c80"/><stop offset="0.205" stop-color="#e56485"/><stop offset="0.256" stop-color="#e76b8a"/><stop offset="0.308" stop-color="#e9738e"/><stop offset="0.359" stop-color="#ec7b93"/><stop offset="0.410" stop-color="#ee8398"/><stop offset="0.462" stop-color="#f28d9f"/><stop offset="0.513" stop-color="#f697a5"/><stop offset="0.564" stop-color="#f899a5"/><stop offset="0.615" stop-color="#f7949e"/><stop offset="0.667" stop-color="#f68e96"/><stop offset="0.718" stop-color="#f5888f"/><stop offset="0.769" stop-color="#f6848b"/><stop offset="0.821" stop-color="#f78088"/><stop offset="0.872" stop-color="#f77c84"/><stop offset="0.923" stop-color="#f87881"/><stop offset="0.974" stop-color="#f87b85"/></linearGradient>
<linearGradient id="s47" gradientUnits="userSpaceOnUse" x1="420" y1="0" x2="615" y2="0"><stop offset="0.000" stop-color="#e46087"/><stop offset="0.051" stop-color="#e35d84"/><stop offset="0.103" stop-color="#e25a80"/><stop offset="0.154" stop-color="#e35d80"/><stop offset="0.205" stop-color="#e56485"/><stop offset="0.256" stop-color="#e76b8a"/><stop offset="0.308" stop-color="#e9738f"/><stop offset="0.359" stop-color="#ec7b94"/><stop offset="0.410" stop-color="#ee8399"/><stop offset="0.462" stop-color="#f28d9f"/><stop offset="0.513" stop-color="#f697a5"/><stop offset="0.564" stop-color="#f899a5"/><stop offset="0.615" stop-color="#f7949e"/><stop offset="0.667" stop-color="#f68e97"/><stop offset="0.718" stop-color="#f5898f"/><stop offset="0.769" stop-color="#f6848c"/><stop offset="0.821" stop-color="#f78088"/><stop offset="0.872" stop-color="#f77c85"/><stop offset="0.923" stop-color="#f87882"/><stop offset="0.974" stop-color="#f87c85"/></linearGradient>
<linearGradient id="s48" gradientUnits="userSpaceOnUse" x1="420" y1="0" x2="615" y2="0"><stop offset="0.000" stop-color="#e46087"/><stop offset="0.051" stop-color="#e35e84"/><stop offset="0.103" stop-color="#e25b80"/><stop offset="0.154" stop-color="#e35d81"/><stop offset="0.205" stop-color="#e56485"/><stop offset="0.256" stop-color="#e76b8a"/><stop offset="0.308" stop-color="#e9738f"/><stop offset="0.359" stop-color="#ec7b94"/><stop offset="0.410" stop-color="#ee8399"/><stop offset="0.462" stop-color="#f28d9f"/><stop offset="0.513" stop-color="#f697a5"/><stop offset="0.564" stop-color="#f89aa6"/><stop offset="0.615" stop-color="#f7959f"/><stop offset="0.667" stop-color="#f68f97"/><stop offset="0.718" stop-color="#f58990"/><stop offset="0.769" stop-color="#f6858c"/><stop offset="0.821" stop-color="#f78189"/><stop offset="0.872" stop-color="#f77d85"/><stop offset="0.923" stop-color="#f87982"/><stop offset="0.974" stop-color="#f87d86"/></linearGradient>
<linearGradient id="s49" gradientUnits="userSpaceOnUse" x1="420" y1="0" x2="615" y2="0"><stop offset="0.000" stop-color="#e56188"/><stop offset="0.051" stop-color="#e35e84"/><stop offset="0.103" stop-color="#e25b81"/><stop offset="0.154" stop-color="#e35d81"/><stop offset="0.205" stop-color="#e56485"/><stop offset="0.256" stop-color="#e76c8a"/><stop offset="0.308" stop-color="#ea748f"/><stop offset="0.359" stop-color="#ec7c94"/><stop offset="0.410" stop-color="#ee8499"/><stop offset="0.462" stop-color="#f28e9f"/><stop offset="0.513" stop-color="#f698a6"/><stop offset="0.564" stop-color="#f79ba6"/><stop offset="0.615" stop-color="#f7969f"/><stop offset="0.667" stop-color="#f69098"/><stop offset="0.718" stop-color="#f58a91"/><stop offset="0.769" stop-color="#f6868d"/><stop offset="0.821" stop-color="#f78289"/><stop offset="0.872" stop-color="#f77e86"/><stop offset="0.923" stop-color="#f87a83"/><stop offset="0.974" stop-color="#f87e86"/></linearGradient>
<linearGradient id="s50" gradientUnits="userSpaceOnUse" x1="420" y1="0" x2="615" y2="0"><stop offset="0.000" stop-color="#e56188"/><stop offset="0.051" stop-color="#e45e84"/><stop offset="0.103" stop-color="#e35c81"/><stop offset="0.154" stop-color="#e35e82"/><stop offset="0.205" stop-color="#e56486"/><stop offset="0.256" stop-color="#e76c8a"/><stop offset="0.308" stop-color="#ea748f"/><stop offset="0.359" stop-color="#ec7c94"/><stop offset="0.410" stop-color="#ee8499"/><stop offset="0.462" stop-color="#f28ea0"/><stop offset="0.513" stop-color="#f698a6"/><stop offset="0.564" stop-color="#f79ba6"/><stop offset="0.615" stop-color="#f797a0"/><stop offset="0.667" stop-color="#f69199"/><stop offset="0.718" stop-color="#f58b91"/><stop offset="0.769" stop-color="#f6878d"/><stop offset="0.821" stop-color="#f7838a"/><stop offset="0.872" stop-color="#f77f87"/><stop offset="0.923" stop-color="#f87b84"/><stop offset="0.974" stop-color="#f87f87"/></linearGradient>
<linearGradient id="s51" gradientUnits="userSpaceOnUse" x1="420" y1="0" x2="615" y2="0"><stop offset="0.000" stop-color="#e56188"/><stop offset="0.051" stop-color="#e45e85"/><stop offset="0.103" stop-color="#e35c82"/><stop offset="0.154" stop-color="#e35e82"/><stop offset="0.205" stop-color="#e56486"/><stop offset="0.256" stop-color="#e76c8a"/><stop offset="0.308" stop-color="#ea748f"/><stop offset="0.359" stop-color="#ec7d95"/><stop offset="0.410" stop-color="#ee859a"/><stop offset="0.462" stop-color="#f28fa0"/><stop offset="0.513" stop-color="#f698a6"/><stop offset="0.564" stop-color="#f79ca7"/><stop offset="0.615" stop-color="#f798a1"/><stop offset="0.667" stop-color="#f69299"/><stop offset="0.718" stop-color="#f58c92"/><stop offset="0.769" stop-color="#f6888e"/><stop offset="0.821" stop-color="#f7848b"/><stop offset="0.872" stop-color="#f78088"/><stop offset="0.923" stop-color="#f87d84"/><stop offset="0.974" stop-color="#f88087"/></linearGradient>
<linearGradient id="s52" gradientUnits="userSpaceOnUse" x1="420" y1="0" x2="615" y2="0"><stop offset="0.000" stop-color="#e56188"/><stop offset="0.051" stop-color="#e45f85"/><stop offset="0.103" stop-color="#e35d82"/><stop offset="0.154" stop-color="#e45f82"/><stop offset="0.205" stop-color="#e56586"/><stop offset="0.256" stop-color="#e76c8b"/><stop offset="0.308" stop-color="#ea7590"/><stop offset="0.359" stop-color="#ec7d95"/><stop offset="0.410" stop-color="#ee869a"/><stop offset="0.462" stop-color="#f28fa0"/><stop offset="0.513" stop-color="#f699a6"/><stop offset="0.564" stop-color="#f79da7"/><stop offset="0.615" stop-color="#f799a2"/><stop offset="0.667" stop-color="#f6939a"/><stop offset="0.718" stop-color="#f68d93"/><stop offset="0.769" stop-color="#f6898e"/><stop offset="0.821" stop-color="#f7858b"/><stop offset="0.872" stop-color="#f78288"/><stop offset="0.923" stop-color="#f87e85"/><stop offset="0.974" stop-color="#f88188"/></linearGradient>
<linearGradient id="s53" gradientUnits="userSpaceOnUse" x1="420" y1="0" x2="615" y2="0"><stop offset="0.000" stop-color="#e56188"/><stop offset="0.051" stop-color="#e45f86"/><stop offset="0.103" stop-color="#e35d83"/><stop offset="0.154" stop-color="#e45f83"/><stop offset="0.205" stop-color="#e66587"/><stop offset="0.256" stop-color="#e86c8b"/><stop offset="0.308" stop-color="#ea7590"/><stop offset="0.359" stop-color="#ec7e95"/><stop offset="0.410" stop-color="#ef869a"/><stop offset="0.462" stop-color="#f290a0"/><stop offset="0.513" stop-color="#f699a7"/><stop offset="0.564" stop-color="#f79da8"/><stop offset="0.615" stop-color="#f79aa2"/><stop offset="0.667" stop-color="#f6949b"/><stop offset="0.718" stop-color="#f68e94"/><stop offset="0.769" stop-color="#f68a8f"/><stop offset="0.821" stop-color="#f7868c"/><stop offset="0.872" stop-color="#f78389"/><stop offset="0.923" stop-color="#f88086"/><stop offset="0.974" stop-color="#f88289"/></linearGradient>
<linearGradient id="s54" gradientUnits="userSpaceOnUse" x1="420" y1="0" x2="615" y2="0"><stop offset="0.000" stop-color="#e56189"/><stop offset="0.051" stop-color="#e56086"/><stop offset="0.103" stop-color="#e45e83"/><stop offset="0.154" stop-color="#e46084"/><stop offset="0.205" stop-color="#e66587"/><stop offset="0.256" stop-color="#e86c8b"/><stop offset="0.308" stop-color="#ea7590"/><stop offset="0.359" stop-color="#ec7e95"/><stop offset="0.410" stop-color="#ef879b"/><stop offset="0.462" stop-color="#f290a1"/><stop offset="0.513" stop-color="#f69aa7"/><stop offset="0.564" stop-color="#f79ea9"/><stop offset="0.615" stop-color="#f79ba3"/><stop offset="0.667" stop-color="#f6959c"/><stop offset="0.718" stop-color="#f68f95"/><stop offset="0.769" stop-color="#f68b90"/><stop offset="0.821" stop-color="#f7888d"/><stop offset="0.872" stop-color="#f7848a"/><stop offset="0.923" stop-color="#f88187"/><stop offset="0.974" stop-color="#f8838a"/></linearGradient>
<linearGradient id="s55" gradientUnits="userSpaceOnUse" x1="420" y1="0" x2="615" y2="0"><stop offset="0.000" stop-color="#e66289"/><stop offset="0.051" stop-color="#e56086"/><stop offset="0.103" stop-color="#e45e84"/><stop offset="0.154" stop-color="#e46084"/><stop offset="0.205" stop-color="#e66587"/><stop offset="0.256" stop-color="#e86c8b"/><stop offset="0.308" stop-color="#ea7691"/><stop offset="0.359" stop-color="#ec7f96"/><stop offset="0.410" stop-color="#ef889b"/><stop offset="0.462" stop-color="#f291a1"/><stop offset="0.513" stop-color="#f59ba7"/><stop offset="0.564" stop-color="#f79fa9"/><stop offset="0.615" stop-color="#f79ca4"/><stop offset="0.667" stop-color="#f7969d"/><stop offset="0.718" stop-color="#f69196"/><stop offset="0.769" stop-color="#f68c91"/><stop offset="0.821" stop-color="#f7898e"/><stop offset="0.872" stop-color="#f7868b"/><stop offset="0.923" stop-color="#f88388"/><stop offset="0.974" stop-color="#f8858a"/></linearGradient>
<linearGradient id="s56" gradientUnits="userSpaceOnUse" x1="420" y1="0" x2="615" y2="0"><stop offset="0.000" stop-color="#e66289"/><stop offset="0.051" stop-color="#e56087"/><stop offset="0.103" stop-color="#e45f84"/><stop offset="0.154" stop-color="#e56185"/><stop offset="0.205" stop-color="#e66688"/><stop offset="0.256" stop-color="#e86d8c"/><stop offset="0.308" stop-color="#ea7691"/><stop offset="0.359" stop-color="#ed7f96"/><stop offset="0.410" stop-color="#ef889b"/><stop offset="0.462" stop-color="#f292a1"/><stop offset="0.513" stop-color="#f59ba8"/><stop offset="0.564" stop-color="#f7a0aa"/><stop offset="0.615" stop-color="#f79da5"/><stop offset="0.667" stop-color="#f7989e"/><stop offset="0.718" stop-color="#f69297"/><stop offset="0.769" stop-color="#f68d91"/><stop offset="0.821" stop-color="#f78a8f"/><stop offset="0.872" stop-color="#f7878c"/><stop offset="0.923" stop-color="#f88489"/><stop offset="0.974" stop-color="#f8868b"/></linearGradient>
<linearGradient id="s57" gradientUnits="userSpaceOnUse" x1="420" y1="0" x2="615" y2="0"><stop offset="0.000" stop-color="#e66289"/><stop offset="0.051" stop-color="#e56187"/><stop offset="0.103" stop-color="#e56085"/><stop offset="0.154" stop-color="#e56185"/><stop offset="0.205" stop-color="#e66688"/><stop offset="0.256" stop-color="#e86d8c"/><stop offset="0.308" stop-color="#ea7691"/><stop offset="0.359" stop-color="#ed8096"/><stop offset="0.410" stop-color="#ef899c"/><stop offset="0.462" stop-color="#f292a2"/><stop offset="0.513" stop-color="#f59ca8"/><stop offset="0.564" stop-color="#f7a1aa"/><stop offset="0.615" stop-color="#f79fa6"/><stop offset="0.667" stop-color="#f7999f"/><stop offset="0.718" stop-color="#f69397"/><stop offset="0.769" stop-color="#f68e92"/><stop offset="0.821" stop-color="#f78b90"/><stop offset="0.872" stop-color="#f7898d"/><stop offset="0.923" stop-color="#f8868a"/><stop offset="0.974" stop-color="#f8878c"/></linearGradient>
<linearGradient id="s58" gradientUnits="userSpaceOnUse" x1="420" y1="0" x2="615" y2="0"><stop offset="0.000" stop-color="#e6628a"/><stop offset="0.051" stop-color="#e56188"/><stop offset="0.103" stop-color="#e56086"/><stop offset="0.154" stop-color="#e56286"/><stop offset="0.205" stop-color="#e66688"/><stop offset="0.256" stop-color="#e86d8c"/><stop offset="0.308" stop-color="#ea7791"/><stop offset="0.359" stop-color="#ed8097"/><stop offset="0.410" stop-color="#ef8a9c"/><stop offset="0.462" stop-color="#f293a2"/><stop offset="0.513" stop-color="#f59ca8"/><stop offset="0.564" stop-color="#f7a2ab"/><stop offset="0.615" stop-color="#f7a0a7"/><stop offset="0.667" stop-color="#f79aa0"/><stop offset="0.718" stop-color="#f69498"/><stop offset="0.769" stop-color="#f68f93"/><stop offset="0.821" stop-color="#f78d91"/><stop offset="0.872" stop-color="#f78a8e"/><stop offset="0.923" stop-color="#f7878c"/><stop offset="0.974" stop-color="#f7898d"/></linearGradient>
<linearGradient id="s59" gradientUnits="userSpaceOnUse" x1="420" y1="0" x2="615" y2="0"><stop offset="0.000" stop-color="#e6628a"/><stop offset="0.051" stop-color="#e66288"/><stop offset="0.103" stop-color="#e56186"/><stop offset="0.154" stop-color="#e56287"/><stop offset="0.205" stop-color="#e76689"/><stop offset="0.256" stop-color="#e86d8c"/><stop offset="0.308" stop-color="#ea7792"/><stop offset="0.359" stop-color="#ed8197"/><stop offset="0.410" stop-color="#ef8a9d"/><stop offset="0.462" stop-color="#f294a3"/><stop offset="0.513" stop-color="#f59da9"/><stop offset="0.564" stop-color="#f7a3ac"/><stop offset="0.615" stop-color="#f7a1a8"/><stop offset="0.667" stop-color="#f79ba1"/><stop offset="0.718" stop-color="#f69699"/><stop offset="0.769" stop-color="#f69094"/><stop offset="0.821" stop-color="#f78e91"/><stop offset="0.872" stop-color="#f78c8f"/><stop offset="0.923" stop-color="#f7898d"/><stop offset="0.974" stop-color="#f78a8d"/></linearGradient>
<linearGradient id="s60" gradientUnits="userSpaceOnUse" x1="420" y1="0" x2="615" y2="0"><stop offset="0.000" stop-color="#e6628a"/><stop offset="0.051" stop-color="#e66289"/><stop offset="0.103" stop-color="#e66187"/><stop offset="0.154" stop-color="#e66387"/><stop offset="0.205" stop-color="#e76789"/><stop offset="0.256" stop-color="#e86d8d"/><stop offset="0.308" stop-color="#eb7792"/><stop offset="0.359" stop-color="#ed8198"/><stop offset="0.410" stop-color="#ef8b9d"/><stop offset="0.462" stop-color="#f294a3"/><stop offset="0.513" stop-color="#f59da9"/><stop offset="0.564" stop-color="#f7a4ac"/><stop offset="0.615" stop-color="#f7a2a9"/><stop offset="0.667" stop-color="#f79ca2"/><stop offset="0.718" stop-color="#f6979a"/><stop offset="0.769" stop-color="#f79295"/><stop offset="0.821" stop-color="#f78f92"/><stop offset="0.872" stop-color="#f78d90"/><stop offset="0.923" stop-color="#f78b8e"/><stop offset="0.974" stop-color="#f78c8e"/></linearGradient>
<linearGradient id="s61" gradientUnits="userSpaceOnUse" x1="420" y1="0" x2="615" y2="0"><stop offset="0.000" stop-color="#e7638a"/><stop offset="0.051" stop-color="#e66289"/><stop offset="0.103" stop-color="#e66288"/><stop offset="0.154" stop-color="#e66388"/><stop offset="0.205" stop-color="#e76789"/><stop offset="0.256" stop-color="#e86d8d"/><stop offset="0.308" stop-color="#eb7892"/><stop offset="0.359" stop-color="#ed8298"/><stop offset="0.410" stop-color="#ef8c9d"/><stop offset="0.462" stop-color="#f295a3"/><stop offset="0.513" stop-color="#f59ea9"/><stop offset="0.564" stop-color="#f7a4ad"/><stop offset="0.615" stop-color="#f7a3aa"/><stop offset="0.667" stop-color="#f79ea3"/><stop offset="0.718" stop-color="#f7989b"/><stop offset="0.769" stop-color="#f79395"/><stop offset="0.821" stop-color="#f79193"/><stop offset="0.872" stop-color="#f78e91"/><stop offset="0.923" stop-color="#f78c8f"/><stop offset="0.974" stop-color="#f78d8f"/></linearGradient>
<linearGradient id="s62" gradientUnits="userSpaceOnUse" x1="420" y1="0" x2="615" y2="0"><stop offset="0.000" stop-color="#e7638b"/><stop offset="0.051" stop-color="#e66389"/><stop offset="0.103" stop-color="#e66288"/><stop offset="0.154" stop-color="#e66488"/><stop offset="0.205" stop-color="#e7678a"/><stop offset="0.256" stop-color="#e86e8d"/><stop offset="0.308" stop-color="#eb7893"/><stop offset="0.359" stop-color="#ed8298"/><stop offset="0.410" stop-color="#ef8d9e"/><stop offset="0.462" stop-color="#f296a4"/><stop offset="0.513" stop-color="#f59fa9"/><stop offset="0.564" stop-color="#f7a5ad"/><stop offset="0.615" stop-color="#f8a5ab"/><stop offset="0.667" stop-color="#f79fa3"/><stop offset="0.718" stop-color="#f7999c"/><stop offset="0.769" stop-color="#f79496"/><stop offset="0.821" stop-color="#f79294"/><stop offset="0.872" stop-color="#f79092"/><stop offset="0.923" stop-color="#f78e90"/><stop offset="0.974" stop-color="#f78e90"/></linearGradient>
<linearGradient id="s63" gradientUnits="userSpaceOnUse" x1="420" y1="0" x2="615" y2="0"><stop offset="0.000" stop-color="#e7638b"/><stop offset="0.051" stop-color="#e7638a"/><stop offset="0.103" stop-color="#e66389"/><stop offset="0.154" stop-color="#e76489"/><stop offset="0.205" stop-color="#e7678a"/><stop offset="0.256" stop-color="#e96e8d"/><stop offset="0.308" stop-color="#eb7893"/><stop offset="0.359" stop-color="#ed8398"/><stop offset="0.410" stop-color="#ef8d9e"/><stop offset="0.462" stop-color="#f296a4"/><stop offset="0.513" stop-color="#f59faa"/><stop offset="0.564" stop-color="#f7a6ae"/><stop offset="0.615" stop-color="#f8a6ab"/><stop offset="0.667" stop-color="#f7a0a4"/><stop offset="0.718" stop-color="#f79a9d"/><stop offset="0.769" stop-color="#f79597"/><stop offset="0.821" stop-color="#f79395"/><stop offset="0.872" stop-color="#f79193"/><stop offset="0.923" stop-color="#f78f91"/><stop offset="0.974" stop-color="#f78f91"/></linearGradient>
<linearGradient id="s64" gradientUnits="userSpaceOnUse" x1="420" y1="0" x2="615" y2="0"><stop offset="0.000" stop-color="#e7638b"/><stop offset="0.051" stop-color="#e7638a"/><stop offset="0.103" stop-color="#e76489"/><stop offset="0.154" stop-color="#e76589"/><stop offset="0.205" stop-color="#e7678a"/><stop offset="0.256" stop-color="#e96e8e"/><stop offset="0.308" stop-color="#eb7993"/><stop offset="0.359" stop-color="#ed8399"/><stop offset="0.410" stop-color="#f08e9e"/><stop offset="0.462" stop-color="#f297a4"/><stop offset="0.513" stop-color="#f5a0aa"/><stop offset="0.564" stop-color="#f7a7ae"/><stop offset="0.615" stop-color="#f8a7ac"/><stop offset="0.667" stop-color="#f7a1a5"/><stop offset="0.718" stop-color="#f79b9e"/><stop offset="0.769" stop-color="#f79698"/><stop offset="0.821" stop-color="#f79496"/><stop offset="0.872" stop-color="#f79294"/><stop offset="0.923" stop-color="#f79192"/><stop offset="0.974" stop-color="#f79191"/></linearGradient>
<linearGradient id="s65" gradientUnits="userSpaceOnUse" x1="420" y1="0" x2="615" y2="0"><stop offset="0.000" stop-color="#e7638b"/><stop offset="0.051" stop-color="#e7648a"/><stop offset="0.103" stop-color="#e7648a"/><stop offset="0.154" stop-color="#e7658a"/><stop offset="0.205" stop-color="#e7688b"/><stop offset="0.256" stop-color="#e96e8e"/><stop offset="0.308" stop-color="#eb7993"/><stop offset="0.359" stop-color="#ed8499"/><stop offset="0.410" stop-color="#f08e9f"/><stop offset="0.462" stop-color="#f297a4"/><stop offset="0.513" stop-color="#f5a0aa"/><stop offset="0.564" stop-color="#f7a8af"/><stop offset="0.615" stop-color="#f8a8ad"/><stop offset="0.667" stop-color="#f7a2a6"/><stop offset="0.718" stop-color="#f79c9f"/><stop offset="0.769" stop-color="#f79798"/><stop offset="0.821" stop-color="#f79596"/><stop offset="0.872" stop-color="#f79494"/><stop offset="0.923" stop-color="#f79292"/><stop offset="0.974" stop-color="#f79292"/></linearGradient>
<linearGradient id="s66" gradientUnits="userSpaceOnUse" x1="420" y1="0" x2="615" y2="0"><stop offset="0.000" stop-color="#e7638b"/><stop offset="0.051" stop-color="#e7648b"/><stop offset="0.103" stop-color="#e7648a"/><stop offset="0.154" stop-color="#e7668a"/><stop offset="0.205" stop-color="#e8688b"/><stop offset="0.256" stop-color="#e96e8e"/><stop offset="0.308" stop-color="#eb7994"/><stop offset="0.359" stop-color="#ed8499"/><stop offset="0.410" stop-color="#f08f9f"/><stop offset="0.462" stop-color="#f298a5"/><stop offset="0.513" stop-color="#f5a0ab"/><stop offset="0.564" stop-color="#f7a8af"/><stop offset="0.615" stop-color="#f8a9ae"/><stop offset="0.667" stop-color="#f7a3a7"/><stop offset="0.718" stop-color="#f79d9f"/><stop offset="0.769" stop-color="#f79899"/><stop offset="0.821" stop-color="#f79697"/><stop offset="0.872" stop-color="#f79595"/><stop offset="0.923" stop-color="#f79393"/><stop offset="0.974" stop-color="#f79392"/></linearGradient>
<linearGradient id="s67" gradientUnits="userSpaceOnUse" x1="420" y1="0" x2="615" y2="0"><stop offset="0.000" stop-color="#e8648b"/><stop offset="0.051" stop-color="#e7648b"/><stop offset="0.103" stop-color="#e7658b"/><stop offset="0.154" stop-color="#e7668b"/><stop offset="0.205" stop-color="#e8688b"/><stop offset="0.256" stop-color="#e96e8e"/><stop offset="0.308" stop-color="#eb7994"/><stop offset="0.359" stop-color="#ed849a"/><stop offset="0.410" stop-color="#f08f9f"/><stop offset="0.462" stop-color="#f298a5"/><stop offset="0.513" stop-color="#f5a1ab"/><stop offset="0.564" stop-color="#f7a9b0"/><stop offset="0.615" stop-color="#f8a9ae"/><stop offset="0.667" stop-color="#f7a4a7"/><stop offset="0.718" stop-color="#f79ea0"/><stop offset="0.769" stop-color="#f79899"/><stop offset="0.821" stop-color="#f79798"/><stop offset="0.872" stop-color="#f79696"/><stop offset="0.923" stop-color="#f79494"/><stop offset="0.974" stop-color="#f79493"/></linearGradient>
<linearGradient id="s68" gradientUnits="userSpaceOnUse" x1="420" y1="0" x2="615" y2="0"><stop offset="0.000" stop-color="#e8648c"/><stop offset="0.051" stop-color="#e8648b"/><stop offset="0.103" stop-color="#e8658b"/><stop offset="0.154" stop-color="#e8668b"/><stop offset="0.205" stop-color="#e8688b"/><stop offset="0.256" stop-color="#e96e8e"/><stop offset="0.308" stop-color="#eb7a94"/><stop offset="0.359" stop-color="#ee859a"/><stop offset="0.410" stop-color="#f0909f"/><stop offset="0.462" stop-color="#f299a5"/><stop offset="0.513" stop-color="#f5a1ab"/><stop offset="0.564" stop-color="#f7a9b0"/><stop offset="0.615" stop-color="#f8aaaf"/><stop offset="0.667" stop-color="#f7a4a8"/><stop offset="0.718" stop-color="#f79fa1"/><stop offset="0.769" stop-color="#f7999a"/><stop offset="0.821" stop-color="#f79898"/><stop offset="0.872" stop-color="#f79696"/><stop offset="0.923" stop-color="#f79595"/><stop offset="0.974" stop-color="#f79494"/></linearGradient>
<linearGradient id="s69" gradientUnits="userSpaceOnUse" x1="420" y1="0" x2="615" y2="0"><stop offset="0.000" stop-color="#e8648c"/><stop offset="0.051" stop-color="#e8658c"/><stop offset="0.103" stop-color="#e8668b"/><stop offset="0.154" stop-color="#e8678b"/><stop offset="0.205" stop-color="#e8688c"/><stop offset="0.256" stop-color="#e96f8f"/><stop offset="0.308" stop-color="#eb7a94"/><stop offset="0.359" stop-color="#ee859a"/><stop offset="0.410" stop-color="#f090a0"/><stop offset="0.462" stop-color="#f299a5"/><stop offset="0.513" stop-color="#f5a2ab"/><stop offset="0.564" stop-color="#f7aab0"/><stop offset="0.615" stop-color="#f8abaf"/><stop offset="0.667" stop-color="#f7a5a8"/><stop offset="0.718" stop-color="#f79fa1"/><stop offset="0.769" stop-color="#f79a9a"/><stop offset="0.821" stop-color="#f79999"/><stop offset="0.872" stop-color="#f79797"/><stop offset="0.923" stop-color="#f79695"/><stop offset="0.974" stop-color="#f79594"/></linearGradient>
<linearGradient id="s70" gradientUnits="userSpaceOnUse" x1="420" y1="0" x2="615" y2="0"><stop offset="0.000" stop-color="#e8648c"/><stop offset="0.051" stop-color="#e8658c"/><stop offset="0.103" stop-color="#e8668c"/><stop offset="0.154" stop-color="#e8678c"/><stop offset="0.205" stop-color="#e8688c"/><stop offset="0.256" stop-color="#e96f8f"/><stop offset="0.308" stop-color="#eb7a94"/><stop offset="0.359" stop-color="#ee859a"/><stop offset="0.410" stop-color="#f091a0"/><stop offset="0.462" stop-color="#f299a5"/><stop offset="0.513" stop-color="#f5a2ab"/><stop offset="0.564" stop-color="#f7aab1"/><stop offset="0.615" stop-color="#f8abb0"/><stop offset="0.667" stop-color="#f8a6a9"/><stop offset="0.718" stop-color="#f7a0a2"/><stop offset="0.769" stop-color="#f79a9b"/><stop offset="0.821" stop-color="#f79999"/><stop offset="0.872" stop-color="#f79897"/><stop offset="0.923" stop-color="#f79796"/><stop offset="0.974" stop-color="#f79694"/></linearGradient>
<linearGradient id="s71" gradientUnits="userSpaceOnUse" x1="420" y1="0" x2="615" y2="0"><stop offset="0.000" stop-color="#e8648c"/><stop offset="0.051" stop-color="#e8658c"/><stop offset="0.103" stop-color="#e8668c"/><stop offset="0.154" stop-color="#e8678c"/><stop offset="0.205" stop-color="#e8688c"/><stop offset="0.256" stop-color="#e96f8f"/><stop offset="0.308" stop-color="#eb7a94"/><stop offset="0.359" stop-color="#ee859a"/><stop offset="0.410" stop-color="#f091a0"/><stop offset="0.462" stop-color="#f299a6"/><stop offset="0.513" stop-color="#f5a2ab"/><stop offset="0.564" stop-color="#f7aab1"/><stop offset="0.615" stop-color="#f8acb0"/><stop offset="0.667" stop-color="#f8a6a9"/><stop offset="0.718" stop-color="#f7a0a2"/><stop offset="0.769" stop-color="#f79b9b"/><stop offset="0.821" stop-color="#f79999"/><stop offset="0.872" stop-color="#f79898"/><stop offset="0.923" stop-color="#f79796"/><stop offset="0.974" stop-color="#f79695"/></linearGradient>
<linearGradient id="s72" gradientUnits="userSpaceOnUse" x1="420" y1="0" x2="615" y2="0"><stop offset="0.000" stop-color="#e8648c"/><stop offset="0.051" stop-color="#e8658c"/><stop offset="0.103" stop-color="#e8668c"/><stop offset="0.154" stop-color="#e8678c"/><stop offset="0.205" stop-color="#e8688c"/><stop offset="0.256" stop-color="#e96f8f"/><stop offset="0.308" stop-color="#eb7a95"/><stop offset="0.359" stop-color="#ee869a"/><stop offset="0.410" stop-color="#f091a0"/><stop offset="0.462" stop-color="#f29aa6"/><stop offset="0.513" stop-color="#f5a2ab"/><stop offset="0.564" stop-color="#f7abb1"/><stop offset="0.615" stop-color="#f8acb0"/><stop offset="0.667" stop-color="#f8a6a9"/><stop offset="0.718" stop-color="#f7a1a2"/><stop offset="0.769" stop-color="#f79b9b"/><stop offset="0.821" stop-color="#f79a99"/><stop offset="0.872" stop-color="#f79998"/><stop offset="0.923" stop-color="#f79896"/><stop offset="0.974" stop-color="#f79695"/></linearGradient>
<linearGradient id="s73" gradientUnits="userSpaceOnUse" x1="420" y1="0" x2="615" y2="0"><stop offset="0.000" stop-color="#e8648c"/><stop offset="0.051" stop-color="#e8658c"/><stop offset="0.103" stop-color="#e8668c"/><stop offset="0.154" stop-color="#e8678c"/><stop offset="0.205" stop-color="#e8688c"/><stop offset="0.256" stop-color="#e96f8f"/><stop offset="0.308" stop-color="#eb7a95"/><stop offset="0.359" stop-color="#ee869a"/><stop offset="0.410" stop-color="#f091a0"/><stop offset="0.462" stop-color="#f29aa6"/><stop offset="0.513" stop-color="#f5a2ab"/><stop offset="0.564" stop-color="#f7abb1"/><stop offset="0.615" stop-color="#f8acb0"/><stop offset="0.667" stop-color="#f8a6a9"/><stop offset="0.718" stop-color="#f7a1a2"/><stop offset="0.769" stop-color="#f79b9b"/><stop offset="0.821" stop-color="#f79a99"/><stop offset="0.872" stop-color="#f79998"/><stop offset="0.923" stop-color="#f79896"/><stop offset="0.974" stop-color="#f79795"/></linearGradient>
<linearGradient id="s74" gradientUnits="userSpaceOnUse" x1="420" y1="0" x2="615" y2="0"><stop offset="0.000" stop-color="#e8648c"/><stop offset="0.051" stop-color="#e8658c"/><stop offset="0.103" stop-color="#e8668c"/><stop offset="0.154" stop-color="#e8678c"/><stop offset="0.205" stop-color="#e8698c"/><stop offset="0.256" stop-color="#e96f8f"/><stop offset="0.308" stop-color="#eb7a95"/><stop offset="0.359" stop-color="#ee869a"/><stop offset="0.410" stop-color="#f091a0"/><stop offset="0.462" stop-color="#f29aa6"/><stop offset="0.513" stop-color="#f5a2ac"/><stop offset="0.564" stop-color="#f7abb1"/><stop offset="0.615" stop-color="#f8acb0"/><stop offset="0.667" stop-color="#f8a7a9"/><stop offset="0.718" stop-color="#f7a1a2"/><stop offset="0.769" stop-color="#f79b9b"/><stop offset="0.821" stop-color="#f79a99"/><stop offset="0.872" stop-color="#f79998"/><stop offset="0.923" stop-color="#f79896"/><stop offset="0.974" stop-color="#f79795"/></linearGradient>
<linearGradient id="s75" gradientUnits="userSpaceOnUse" x1="420" y1="0" x2="615" y2="0"><stop offset="0.000" stop-color="#e8648c"/><stop offset="0.051" stop-color="#e8658c"/><stop offset="0.103" stop-color="#e8678c"/><stop offset="0.154" stop-color="#e8688c"/><stop offset="0.205" stop-color="#e8698c"/><stop offset="0.256" stop-color="#e96f8f"/><stop offset="0.308" stop-color="#ec7b95"/><stop offset="0.359" stop-color="#ee869b"/><stop offset="0.410" stop-color="#f092a0"/><stop offset="0.462" stop-color="#f29aa6"/><stop offset="0.513" stop-color="#f5a3ac"/><stop offset="0.564" stop-color="#f7abb2"/><stop offset="0.615" stop-color="#f8adb1"/><stop offset="0.667" stop-color="#f8a7aa"/><stop offset="0.718" stop-color="#f7a1a2"/><stop offset="0.769" stop-color="#f79b9b"/><stop offset="0.821" stop-color="#f79a9a"/><stop offset="0.872" stop-color="#f79998"/><stop offset="0.923" stop-color="#f79897"/><stop offset="0.974" stop-color="#f79795"/></linearGradient>
<linearGradient id="s76" gradientUnits="userSpaceOnUse" x1="420" y1="0" x2="615" y2="0"><stop offset="0.000" stop-color="#e8648c"/><stop offset="0.051" stop-color="#e8668c"/><stop offset="0.103" stop-color="#e8678c"/><stop offset="0.154" stop-color="#e8688d"/><stop offset="0.205" stop-color="#e86a8d"/><stop offset="0.256" stop-color="#e97090"/><stop offset="0.308" stop-color="#ec7c95"/><stop offset="0.359" stop-color="#ee879b"/><stop offset="0.410" stop-color="#f093a1"/><stop offset="0.462" stop-color="#f39ba7"/><stop offset="0.513" stop-color="#f5a4ac"/><stop offset="0.564" stop-color="#f7acb2"/><stop offset="0.615" stop-color="#f8adb1"/><stop offset="0.667" stop-color="#f8a7aa"/><stop offset="0.718" stop-color="#f7a2a3"/><stop offset="0.769" stop-color="#f79c9c"/><stop offset="0.821" stop-color="#f79b9a"/><stop offset="0.872" stop-color="#f79a98"/><stop offset="0.923" stop-color="#f79897"/><stop offset="0.974" stop-color="#f79795"/></linearGradient>
<linearGradient id="s77" gradientUnits="userSpaceOnUse" x1="420" y1="0" x2="615" y2="0"><stop offset="0.000" stop-color="#e8658c"/><stop offset="0.051" stop-color="#e8668c"/><stop offset="0.103" stop-color="#e8688d"/><stop offset="0.154" stop-color="#e8698d"/><stop offset="0.205" stop-color="#e86b8d"/><stop offset="0.256" stop-color="#ea7190"/><stop offset="0.308" stop-color="#ec7d96"/><stop offset="0.359" stop-color="#ee889c"/><stop offset="0.410" stop-color="#f194a2"/><stop offset="0.462" stop-color="#f39ca8"/><stop offset="0.513" stop-color="#f5a5ad"/><stop offset="0.564" stop-color="#f7adb3"/><stop offset="0.615" stop-color="#f8aeb1"/><stop offset="0.667" stop-color="#f8a8aa"/><stop offset="0.718" stop-color="#f7a2a3"/><stop offset="0.769" stop-color="#f79d9c"/><stop offset="0.821" stop-color="#f79b9a"/><stop offset="0.872" stop-color="#f79a99"/><stop offset="0.923" stop-color="#f79997"/><stop offset="0.974" stop-color="#f79896"/></linearGradient>
<linearGradient id="s78" gradientUnits="userSpaceOnUse" x1="420" y1="0" x2="615" y2="0"><stop offset="0.000" stop-color="#e8658c"/><stop offset="0.051" stop-color="#e8678c"/><stop offset="0.103" stop-color="#e8698d"/><stop offset="0.154" stop-color="#e96a8d"/><stop offset="0.205" stop-color="#e96c8e"/><stop offset="0.256" stop-color="#ea7391"/><stop offset="0.308" stop-color="#ec7e97"/><stop offset="0.359" stop-color="#ef8a9d"/><stop offset="0.410" stop-color="#f195a3"/><stop offset="0.462" stop-color="#f39ea9"/><stop offset="0.513" stop-color="#f5a6ae"/><stop offset="0.564" stop-color="#f8afb4"/><stop offset="0.615" stop-color="#f8afb2"/><stop offset="0.667" stop-color="#f8a9ab"/><stop offset="0.718" stop-color="#f7a3a4"/><stop offset="0.769" stop-color="#f79e9d"/><stop offset="0.821" stop-color="#f79c9b"/><stop offset="0.872" stop-color="#f79b99"/><stop offset="0.923" stop-color="#f79a98"/><stop offset="0.974" stop-color="#f79996"/></linearGradient>
<linearGradient id="s79" gradientUnits="userSpaceOnUse" x1="420" y1="0" x2="615" y2="0"><stop offset="0.000" stop-color="#e8658c"/><stop offset="0.051" stop-color="#e8678d"/><stop offset="0.103" stop-color="#e9698d"/><stop offset="0.154" stop-color="#e96c8e"/><stop offset="0.205" stop-color="#e96e8f"/><stop offset="0.256" stop-color="#ea7492"/><stop offset="0.308" stop-color="#ed8098"/><stop offset="0.359" stop-color="#ef8b9e"/><stop offset="0.410" stop-color="#f197a4"/><stop offset="0.462" stop-color="#f39faa"/><stop offset="0.513" stop-color="#f6a8af"/><stop offset="0.564" stop-color="#f8b0b5"/><stop offset="0.615" stop-color="#f8b0b2"/><stop offset="0.667" stop-color="#f8aaab"/><stop offset="0.718" stop-color="#f7a4a4"/><stop offset="0.769" stop-color="#f79f9d"/><stop offset="0.821" stop-color="#f79d9b"/><stop offset="0.872" stop-color="#f79c9a"/><stop offset="0.923" stop-color="#f79b98"/><stop offset="0.974" stop-color="#f79997"/></linearGradient>
<linearGradient id="s80" gradientUnits="userSpaceOnUse" x1="420" y1="0" x2="615" y2="0"><stop offset="0.000" stop-color="#e8658c"/><stop offset="0.051" stop-color="#e8688d"/><stop offset="0.103" stop-color="#e96a8e"/><stop offset="0.154" stop-color="#e96d8e"/><stop offset="0.205" stop-color="#e96f8f"/><stop offset="0.256" stop-color="#eb7693"/><stop offset="0.308" stop-color="#ed8299"/><stop offset="0.359" stop-color="#ef8d9f"/><stop offset="0.410" stop-color="#f198a6"/><stop offset="0.462" stop-color="#f4a1ab"/><stop offset="0.513" stop-color="#f6a9b1"/><stop offset="0.564" stop-color="#f8b2b6"/><stop offset="0.615" stop-color="#f8b1b3"/><stop offset="0.667" stop-color="#f8abac"/><stop offset="0.718" stop-color="#f7a5a5"/><stop offset="0.769" stop-color="#f7a09e"/><stop offset="0.821" stop-color="#f79e9c"/><stop offset="0.872" stop-color="#f79d9a"/><stop offset="0.923" stop-color="#f79b99"/><stop offset="0.974" stop-color="#f79a97"/></linearGradient>
<linearGradient id="s81" gradientUnits="userSpaceOnUse" x1="420" y1="0" x2="615" y2="0"><stop offset="0.000" stop-color="#e8668c"/><stop offset="0.051" stop-color="#e8698d"/><stop offset="0.103" stop-color="#e96b8e"/><stop offset="0.154" stop-color="#e96e8f"/><stop offset="0.205" stop-color="#ea7190"/><stop offset="0.256" stop-color="#eb7894"/><stop offset="0.308" stop-color="#ed839a"/><stop offset="0.359" stop-color="#f08fa1"/><stop offset="0.410" stop-color="#f29aa7"/><stop offset="0.462" stop-color="#f4a3ac"/><stop offset="0.513" stop-color="#f6abb2"/><stop offset="0.564" stop-color="#f8b4b7"/><stop offset="0.615" stop-color="#f8b2b4"/><stop offset="0.667" stop-color="#f8acad"/><stop offset="0.718" stop-color="#f7a7a6"/><stop offset="0.769" stop-color="#f7a19f"/><stop offset="0.821" stop-color="#f79f9c"/><stop offset="0.872" stop-color="#f79e9b"/><stop offset="0.923" stop-color="#f79c99"/><stop offset="0.974" stop-color="#f79b98"/></linearGradient>
<linearGradient id="s82" gradientUnits="userSpaceOnUse" x1="420" y1="0" x2="615" y2="0"><stop offset="0.000" stop-color="#e8668c"/><stop offset="0.051" stop-color="#e8698d"/><stop offset="0.103" stop-color="#e96c8e"/><stop offset="0.154" stop-color="#e97090"/><stop offset="0.205" stop-color="#ea7391"/><stop offset="0.256" stop-color="#eb7a95"/><stop offset="0.308" stop-color="#ee859b"/><stop offset="0.359" stop-color="#f091a2"/><stop offset="0.410" stop-color="#f29ca8"/><stop offset="0.462" stop-color="#f4a5ae"/><stop offset="0.513" stop-color="#f6adb3"/><stop offset="0.564" stop-color="#f9b5b8"/><stop offset="0.615" stop-color="#f9b3b4"/><stop offset="0.667" stop-color="#f8adad"/><stop offset="0.718" stop-color="#f7a8a7"/><stop offset="0.769" stop-color="#f7a2a0"/><stop offset="0.821" stop-color="#f6a09d"/><stop offset="0.872" stop-color="#f69f9b"/><stop offset="0.923" stop-color="#f69d9a"/><stop offset="0.974" stop-color="#f69c99"/></linearGradient>
<linearGradient id="s83" gradientUnits="userSpaceOnUse" x1="420" y1="0" x2="615" y2="0"><stop offset="0.000" stop-color="#e8678c"/><stop offset="0.051" stop-color="#e96a8d"/><stop offset="0.103" stop-color="#e96d8f"/><stop offset="0.154" stop-color="#ea7190"/><stop offset="0.205" stop-color="#ea7492"/><stop offset="0.256" stop-color="#ec7c96"/><stop offset="0.308" stop-color="#ee879c"/><stop offset="0.359" stop-color="#f093a3"/><stop offset="0.410" stop-color="#f39eaa"/><stop offset="0.462" stop-color="#f5a6af"/><stop offset="0.513" stop-color="#f7afb4"/><stop offset="0.564" stop-color="#f9b7b9"/><stop offset="0.615" stop-color="#f9b4b5"/><stop offset="0.667" stop-color="#f8afae"/><stop offset="0.718" stop-color="#f7a9a7"/><stop offset="0.769" stop-color="#f7a3a0"/><stop offset="0.821" stop-color="#f6a19d"/><stop offset="0.872" stop-color="#f69f9c"/><stop offset="0.923" stop-color="#f69e9b"/><stop offset="0.974" stop-color="#f69d99"/></linearGradient>
<linearGradient id="s84" gradientUnits="userSpaceOnUse" x1="420" y1="0" x2="615" y2="0"><stop offset="0.000" stop-color="#e8678c"/><stop offset="0.051" stop-color="#e96b8e"/><stop offset="0.103" stop-color="#e96e8f"/><stop offset="0.154" stop-color="#ea7291"/><stop offset="0.205" stop-color="#eb7693"/><stop offset="0.256" stop-color="#ec7d97"/><stop offset="0.308" stop-color="#ee899d"/><stop offset="0.359" stop-color="#f194a4"/><stop offset="0.410" stop-color="#f3a0ab"/><stop offset="0.462" stop-color="#f5a8b0"/><stop offset="0.513" stop-color="#f7b0b5"/><stop offset="0.564" stop-color="#f9b9bb"/><stop offset="0.615" stop-color="#f9b5b5"/><stop offset="0.667" stop-color="#f8b0af"/><stop offset="0.718" stop-color="#f7aaa8"/><stop offset="0.769" stop-color="#f7a4a1"/><stop offset="0.821" stop-color="#f6a29e"/><stop offset="0.872" stop-color="#f6a09c"/><stop offset="0.923" stop-color="#f69f9b"/><stop offset="0.974" stop-color="#f69e9a"/></linearGradient>
<linearGradient id="s85" gradientUnits="userSpaceOnUse" x1="420" y1="0" x2="615" y2="0"><stop offset="0.000" stop-color="#e8678c"/><stop offset="0.051" stop-color="#e96b8e"/><stop offset="0.103" stop-color="#e96f90"/><stop offset="0.154" stop-color="#ea7391"/><stop offset="0.205" stop-color="#eb7793"/><stop offset="0.256" stop-color="#ec7f98"/><stop offset="0.308" stop-color="#ef8a9e"/><stop offset="0.359" stop-color="#f196a5"/><stop offset="0.410" stop-color="#f3a1ac"/><stop offset="0.462" stop-color="#f5aab1"/><stop offset="0.513" stop-color="#f7b2b6"/><stop offset="0.564" stop-color="#f9babc"/><stop offset="0.615" stop-color="#f9b6b6"/><stop offset="0.667" stop-color="#f8b1af"/><stop offset="0.718" stop-color="#f7aba9"/><stop offset="0.769" stop-color="#f7a5a2"/><stop offset="0.821" stop-color="#f6a29e"/><stop offset="0.872" stop-color="#f6a19d"/><stop offset="0.923" stop-color="#f6a09c"/><stop offset="0.974" stop-color="#f69f9a"/></linearGradient>
<linearGradient id="s86" gradientUnits="userSpaceOnUse" x1="420" y1="0" x2="615" y2="0"><stop offset="0.000" stop-color="#e8688c"/><stop offset="0.051" stop-color="#e96c8e"/><stop offset="0.103" stop-color="#ea7090"/><stop offset="0.154" stop-color="#ea7492"/><stop offset="0.205" stop-color="#eb7894"/><stop offset="0.256" stop-color="#ed8098"/><stop offset="0.308" stop-color="#ef8c9f"/><stop offset="0.359" stop-color="#f197a6"/><stop offset="0.410" stop-color="#f4a3ad"/><stop offset="0.462" stop-color="#f6abb2"/><stop offset="0.513" stop-color="#f8b3b7"/><stop offset="0.564" stop-color="#fabcbc"/><stop offset="0.615" stop-color="#f9b7b7"/><stop offset="0.667" stop-color="#f8b1b0"/><stop offset="0.718" stop-color="#f7aca9"/><stop offset="0.769" stop-color="#f7a6a2"/><stop offset="0.821" stop-color="#f6a39f"/><stop offset="0.872" stop-color="#f6a29d"/><stop offset="0.923" stop-color="#f6a19c"/><stop offset="0.974" stop-color="#f69f9b"/></linearGradient>
<linearGradient id="s87" gradientUnits="userSpaceOnUse" x1="420" y1="0" x2="615" y2="0"><stop offset="0.000" stop-color="#e8688c"/><stop offset="0.051" stop-color="#e96c8e"/><stop offset="0.103" stop-color="#ea7190"/><stop offset="0.154" stop-color="#ea7592"/><stop offset="0.205" stop-color="#eb7a94"/><stop offset="0.256" stop-color="#ed8199"/><stop offset="0.308" stop-color="#ef8da0"/><stop offset="0.359" stop-color="#f198a7"/><stop offset="0.410" stop-color="#f4a4ae"/><stop offset="0.462" stop-color="#f6acb3"/><stop offset="0.513" stop-color="#f8b4b8"/><stop offset="0.564" stop-color="#fabdbd"/><stop offset="0.615" stop-color="#f9b8b7"/><stop offset="0.667" stop-color="#f8b2b0"/><stop offset="0.718" stop-color="#f7ada9"/><stop offset="0.769" stop-color="#f6a7a3"/><stop offset="0.821" stop-color="#f6a49f"/><stop offset="0.872" stop-color="#f6a29e"/><stop offset="0.923" stop-color="#f6a19c"/><stop offset="0.974" stop-color="#f6a09b"/></linearGradient>
<linearGradient id="s88" gradientUnits="userSpaceOnUse" x1="420" y1="0" x2="615" y2="0"><stop offset="0.000" stop-color="#e8688c"/><stop offset="0.051" stop-color="#e96c8e"/><stop offset="0.103" stop-color="#ea7190"/><stop offset="0.154" stop-color="#eb7693"/><stop offset="0.205" stop-color="#eb7a95"/><stop offset="0.256" stop-color="#ed8299"/><stop offset="0.308" stop-color="#ef8ea0"/><stop offset="0.359" stop-color="#f299a8"/><stop offset="0.410" stop-color="#f4a5af"/><stop offset="0.462" stop-color="#f6adb4"/><stop offset="0.513" stop-color="#f8b5b9"/><stop offset="0.564" stop-color="#fabebe"/><stop offset="0.615" stop-color="#f9b8b7"/><stop offset="0.667" stop-color="#f8b3b0"/><stop offset="0.718" stop-color="#f7adaa"/><stop offset="0.769" stop-color="#f6a7a3"/><stop offset="0.821" stop-color="#f6a49f"/><stop offset="0.872" stop-color="#f6a39e"/><stop offset="0.923" stop-color="#f6a29d"/><stop offset="0.974" stop-color="#f6a09b"/></linearGradient>
<linearGradient id="s89" gradientUnits="userSpaceOnUse" x1="420" y1="0" x2="615" y2="0"><stop offset="0.000" stop-color="#e8688c"/><stop offset="0.051" stop-color="#e96d8e"/><stop offset="0.103" stop-color="#ea7190"/><stop offset="0.154" stop-color="#eb7693"/><stop offset="0.205" stop-color="#ec7b95"/><stop offset="0.256" stop-color="#ed839a"/><stop offset="0.308" stop-color="#ef8ea1"/><stop offset="0.359" stop-color="#f29aa8"/><stop offset="0.410" stop-color="#f4a5af"/><stop offset="0.462" stop-color="#f6adb4"/><stop offset="0.513" stop-color="#f8b6b9"/><stop offset="0.564" stop-color="#fabebe"/><stop offset="0.615" stop-color="#f9b8b7"/><stop offset="0.667" stop-color="#f8b3b1"/><stop offset="0.718" stop-color="#f7adaa"/><stop offset="0.769" stop-color="#f6a8a3"/><stop offset="0.821" stop-color="#f6a49f"/><stop offset="0.872" stop-color="#f6a39e"/><stop offset="0.923" stop-color="#f6a29d"/><stop offset="0.974" stop-color="#f6a19c"/></linearGradient>
<linearGradient id="s90" gradientUnits="userSpaceOnUse" x1="420" y1="0" x2="615" y2="0"><stop offset="0.000" stop-color="#e8688c"/><stop offset="0.051" stop-color="#e96d8e"/><stop offset="0.103" stop-color="#ea7190"/><stop offset="0.154" stop-color="#eb7693"/><stop offset="0.205" stop-color="#ec7b95"/><stop offset="0.256" stop-color="#ed839a"/><stop offset="0.308" stop-color="#ef8ea1"/><stop offset="0.359" stop-color="#f29aa8"/><stop offset="0.410" stop-color="#f4a5af"/><stop offset="0.462" stop-color="#f6adb4"/><stop offset="0.513" stop-color="#f8b6b9"/><stop offset="0.564" stop-color="#fabebe"/><stop offset="0.615" stop-color="#f9b9b7"/><stop offset="0.667" stop-color="#f8b3b1"/><stop offset="0.718" stop-color="#f7adaa"/><stop offset="0.769" stop-color="#f6a8a3"/><stop offset="0.821" stop-color="#f6a49f"/><stop offset="0.872" stop-color="#f6a39e"/><stop offset="0.923" stop-color="#f6a29d"/><stop offset="0.974" stop-color="#f6a19c"/></linearGradient>
<linearGradient id="s91" gradientUnits="userSpaceOnUse" x1="420" y1="0" x2="615" y2="0"><stop offset="0.000" stop-color="#e8688c"/><stop offset="0.051" stop-color="#e96d8e"/><stop offset="0.103" stop-color="#ea7190"/><stop offset="0.154" stop-color="#eb7692"/><stop offset="0.205" stop-color="#ec7a95"/><stop offset="0.256" stop-color="#ed8299"/><stop offset="0.308" stop-color="#ef8ea1"/><stop offset="0.359" stop-color="#f29aa8"/><stop offset="0.410" stop-color="#f4a6b0"/><stop offset="0.462" stop-color="#f6aeb5"/><stop offset="0.513" stop-color="#f8b7ba"/><stop offset="0.564" stop-color="#fabfbf"/><stop offset="0.615" stop-color="#f9b9b8"/><stop offset="0.667" stop-color="#f8b4b1"/><stop offset="0.718" stop-color="#f7aeab"/><stop offset="0.769" stop-color="#f7a9a4"/><stop offset="0.821" stop-color="#f6a5a0"/><stop offset="0.872" stop-color="#f6a49f"/><stop offset="0.923" stop-color="#f6a39d"/><stop offset="0.974" stop-color="#f6a19c"/></linearGradient>
<linearGradient id="s92" gradientUnits="userSpaceOnUse" x1="420" y1="0" x2="615" y2="0"><stop offset="0.000" stop-color="#e8688c"/><stop offset="0.051" stop-color="#e96d8e"/><stop offset="0.103" stop-color="#ea7190"/><stop offset="0.154" stop-color="#eb7592"/><stop offset="0.205" stop-color="#ec7994"/><stop offset="0.256" stop-color="#ed8199"/><stop offset="0.308" stop-color="#f08ea1"/><stop offset="0.359" stop-color="#f29ba9"/><stop offset="0.410" stop-color="#f4a7b1"/><stop offset="0.462" stop-color="#f6b0b6"/><stop offset="0.513" stop-color="#f8b9bc"/><stop offset="0.564" stop-color="#fac1c0"/><stop offset="0.615" stop-color="#f9bbb9"/><stop offset="0.667" stop-color="#f8b5b3"/><stop offset="0.718" stop-color="#f8b0ac"/><stop offset="0.769" stop-color="#f7aaa5"/><stop offset="0.821" stop-color="#f6a7a1"/><stop offset="0.872" stop-color="#f6a5a0"/><stop offset="0.923" stop-color="#f6a49e"/><stop offset="0.974" stop-color="#f6a29d"/></linearGradient>
<linearGradient id="s93" gradientUnits="userSpaceOnUse" x1="420" y1="0" x2="615" y2="0"><stop offset="0.000" stop-color="#e9698c"/><stop offset="0.051" stop-color="#e96d8e"/><stop offset="0.103" stop-color="#ea7190"/><stop offset="0.154" stop-color="#eb7592"/><stop offset="0.205" stop-color="#ec7894"/><stop offset="0.256" stop-color="#ed8098"/><stop offset="0.308" stop-color="#f08ea1"/><stop offset="0.359" stop-color="#f29caa"/><stop offset="0.410" stop-color="#f5a9b2"/><stop offset="0.462" stop-color="#f7b2b8"/><stop offset="0.513" stop-color="#f9bcbe"/><stop offset="0.564" stop-color="#fac3c2"/><stop offset="0.615" stop-color="#fabdbb"/><stop offset="0.667" stop-color="#f9b8b4"/><stop offset="0.718" stop-color="#f8b2ad"/><stop offset="0.769" stop-color="#f7aca7"/><stop offset="0.821" stop-color="#f7a9a3"/><stop offset="0.872" stop-color="#f7a7a1"/><stop offset="0.923" stop-color="#f7a59f"/><stop offset="0.974" stop-color="#f6a49e"/></linearGradient>
<linearGradient id="s94" gradientUnits="userSpaceOnUse" x1="420" y1="0" x2="615" y2="0"><stop offset="0.000" stop-color="#e9698c"/><stop offset="0.051" stop-color="#ea6d8e"/><stop offset="0.103" stop-color="#ea708f"/><stop offset="0.154" stop-color="#eb7491"/><stop offset="0.205" stop-color="#ec7793"/><stop offset="0.256" stop-color="#ed7f97"/><stop offset="0.308" stop-color="#f08ea1"/><stop offset="0.359" stop-color="#f29eab"/><stop offset="0.410" stop-color="#f5abb4"/><stop offset="0.462" stop-color="#f7b5ba"/><stop offset="0.513" stop-color="#f9bfc0"/><stop offset="0.564" stop-color="#fbc6c4"/><stop offset="0.615" stop-color="#fac0bd"/><stop offset="0.667" stop-color="#f9bab6"/><stop offset="0.718" stop-color="#f8b4af"/><stop offset="0.769" stop-color="#f7aea8"/><stop offset="0.821" stop-color="#f7aba4"/><stop offset="0.872" stop-color="#f7a9a3"/><stop offset="0.923" stop-color="#f7a7a1"/><stop offset="0.974" stop-color="#f7a59f"/></linearGradient>
<linearGradient id="s95" gradientUnits="userSpaceOnUse" x1="420" y1="0" x2="615" y2="0"><stop offset="0.000" stop-color="#e96a8c"/><stop offset="0.051" stop-color="#ea6d8d"/><stop offset="0.103" stop-color="#ea708f"/><stop offset="0.154" stop-color="#eb7390"/><stop offset="0.205" stop-color="#ec7692"/><stop offset="0.256" stop-color="#ed7d96"/><stop offset="0.308" stop-color="#f08ea1"/><stop offset="0.359" stop-color="#f39fac"/><stop offset="0.410" stop-color="#f5aeb5"/><stop offset="0.462" stop-color="#f7b8bc"/><stop offset="0.513" stop-color="#f9c3c3"/><stop offset="0.564" stop-color="#fbc9c6"/><stop offset="0.615" stop-color="#fac3bf"/><stop offset="0.667" stop-color="#f9bdb8"/><stop offset="0.718" stop-color="#f9b7b1"/><stop offset="0.769" stop-color="#f8b1aa"/><stop offset="0.821" stop-color="#f7aea6"/><stop offset="0.872" stop-color="#f7aba4"/><stop offset="0.923" stop-color="#f7a9a2"/><stop offset="0.974" stop-color="#f7a7a0"/></linearGradient>
<linearGradient id="s96" gradientUnits="userSpaceOnUse" x1="420" y1="0" x2="615" y2="0"><stop offset="0.000" stop-color="#ea6a8c"/><stop offset="0.051" stop-color="#ea6d8d"/><stop offset="0.103" stop-color="#eb6f8f"/><stop offset="0.154" stop-color="#eb7290"/><stop offset="0.205" stop-color="#ec7591"/><stop offset="0.256" stop-color="#ed7b95"/><stop offset="0.308" stop-color="#f08ea1"/><stop offset="0.359" stop-color="#f3a1ad"/><stop offset="0.410" stop-color="#f6b0b7"/><stop offset="0.462" stop-color="#f8bbbf"/><stop offset="0.513" stop-color="#fac6c6"/><stop offset="0.564" stop-color="#fbccc9"/><stop offset="0.615" stop-color="#fac6c2"/><stop offset="0.667" stop-color="#fac0ba"/><stop offset="0.718" stop-color="#f9bab3"/><stop offset="0.769" stop-color="#f8b4ac"/><stop offset="0.821" stop-color="#f8b0a9"/><stop offset="0.872" stop-color="#f8aea6"/><stop offset="0.923" stop-color="#f7aba4"/><stop offset="0.974" stop-color="#f7a9a1"/></linearGradient>
<linearGradient id="s97" gradientUnits="userSpaceOnUse" x1="420" y1="0" x2="615" y2="0"><stop offset="0.000" stop-color="#ea6b8c"/><stop offset="0.051" stop-color="#ea6d8d"/><stop offset="0.103" stop-color="#eb6f8e"/><stop offset="0.154" stop-color="#eb718f"/><stop offset="0.205" stop-color="#ec7390"/><stop offset="0.256" stop-color="#ed7a94"/><stop offset="0.308" stop-color="#f08ea1"/><stop offset="0.359" stop-color="#f3a3ae"/><stop offset="0.410" stop-color="#f6b3b9"/><stop offset="0.462" stop-color="#f8bfc1"/><stop offset="0.513" stop-color="#facac9"/><stop offset="0.564" stop-color="#fbcfcb"/><stop offset="0.615" stop-color="#fbc9c4"/><stop offset="0.667" stop-color="#fac3bd"/><stop offset="0.718" stop-color="#f9bcb5"/><stop offset="0.769" stop-color="#f9b6ae"/><stop offset="0.821" stop-color="#f8b3ab"/><stop offset="0.872" stop-color="#f8b0a8"/><stop offset="0.923" stop-color="#f8aea5"/><stop offset="0.974" stop-color="#f7aba3"/></linearGradient>
<linearGradient id="s98" gradientUnits="userSpaceOnUse" x1="420" y1="0" x2="615" y2="0"><stop offset="0.000" stop-color="#ea6b8c"/><stop offset="0.051" stop-color="#eb6d8d"/><stop offset="0.103" stop-color="#eb6f8e"/><stop offset="0.154" stop-color="#eb708f"/><stop offset="0.205" stop-color="#ec728f"/><stop offset="0.256" stop-color="#ed7893"/><stop offset="0.308" stop-color="#f08ea1"/><stop offset="0.359" stop-color="#f4a4af"/><stop offset="0.410" stop-color="#f6b5bb"/><stop offset="0.462" stop-color="#f8c2c3"/><stop offset="0.513" stop-color="#facecb"/><stop offset="0.564" stop-color="#fbd2cd"/><stop offset="0.615" stop-color="#fbccc6"/><stop offset="0.667" stop-color="#fac5bf"/><stop offset="0.718" stop-color="#fabfb7"/><stop offset="0.769" stop-color="#f9b9b0"/><stop offset="0.821" stop-color="#f9b5ac"/><stop offset="0.872" stop-color="#f8b2aa"/><stop offset="0.923" stop-color="#f8b0a7"/><stop offset="0.974" stop-color="#f8ada4"/></linearGradient>
<linearGradient id="s99" gradientUnits="userSpaceOnUse" x1="420" y1="0" x2="615" y2="0"><stop offset="0.000" stop-color="#eb6b8c"/><stop offset="0.051" stop-color="#eb6d8d"/><stop offset="0.103" stop-color="#eb6e8d"/><stop offset="0.154" stop-color="#eb708e"/><stop offset="0.205" stop-color="#ec718f"/><stop offset="0.256" stop-color="#ed7792"/><stop offset="0.308" stop-color="#f08ea1"/><stop offset="0.359" stop-color="#f4a5b0"/><stop offset="0.410" stop-color="#f7b8bc"/><stop offset="0.462" stop-color="#f9c4c5"/><stop offset="0.513" stop-color="#fbd1ce"/><stop offset="0.564" stop-color="#fcd5cf"/><stop offset="0.615" stop-color="#fbcec8"/><stop offset="0.667" stop-color="#fbc8c0"/><stop offset="0.718" stop-color="#fac1b9"/><stop offset="0.769" stop-color="#f9bbb2"/><stop offset="0.821" stop-color="#f9b7ae"/><stop offset="0.872" stop-color="#f9b4ab"/><stop offset="0.923" stop-color="#f8b1a8"/><stop offset="0.974" stop-color="#f8aea5"/></linearGradient>
<linearGradient id="s100" gradientUnits="userSpaceOnUse" x1="420" y1="0" x2="615" y2="0"><stop offset="0.000" stop-color="#eb6c8c"/><stop offset="0.051" stop-color="#eb6d8d"/><stop offset="0.103" stop-color="#eb6e8d"/><stop offset="0.154" stop-color="#ec6f8e"/><stop offset="0.205" stop-color="#ec708e"/><stop offset="0.256" stop-color="#ed7692"/><stop offset="0.308" stop-color="#f08ea1"/><stop offset="0.359" stop-color="#f4a6b1"/><stop offset="0.410" stop-color="#f7b9be"/><stop offset="0.462" stop-color="#f9c6c7"/><stop offset="0.513" stop-color="#fbd3d0"/><stop offset="0.564" stop-color="#fcd7d1"/><stop offset="0.615" stop-color="#fbd0c9"/><stop offset="0.667" stop-color="#fbcac2"/><stop offset="0.718" stop-color="#fac3ba"/><stop offset="0.769" stop-color="#fabcb3"/><stop offset="0.821" stop-color="#f9b9af"/><stop offset="0.872" stop-color="#f9b6ac"/><stop offset="0.923" stop-color="#f8b3a9"/><stop offset="0.974" stop-color="#f8b0a6"/></linearGradient>
<linearGradient id="s101" gradientUnits="userSpaceOnUse" x1="420" y1="0" x2="615" y2="0"><stop offset="0.000" stop-color="#eb6c8c"/><stop offset="0.051" stop-color="#eb6d8c"/><stop offset="0.103" stop-color="#eb6e8d"/><stop offset="0.154" stop-color="#ec6f8d"/><stop offset="0.205" stop-color="#ec708e"/><stop offset="0.256" stop-color="#ed7591"/><stop offset="0.308" stop-color="#f08ea2"/><stop offset="0.359" stop-color="#f4a7b2"/><stop offset="0.410" stop-color="#f7babe"/><stop offset="0.462" stop-color="#f9c8c8"/><stop offset="0.513" stop-color="#fbd5d1"/><stop offset="0.564" stop-color="#fcd8d2"/><stop offset="0.615" stop-color="#fbd2ca"/><stop offset="0.667" stop-color="#fbcbc3"/><stop offset="0.718" stop-color="#fac4bb"/><stop offset="0.769" stop-color="#fabeb4"/><stop offset="0.821" stop-color="#f9bab0"/><stop offset="0.872" stop-color="#f9b7ad"/><stop offset="0.923" stop-color="#f9b4aa"/><stop offset="0.974" stop-color="#f8b0a6"/></linearGradient>
<linearGradient id="s102" gradientUnits="userSpaceOnUse" x1="420" y1="0" x2="615" y2="0"><stop offset="0.000" stop-color="#eb6c8c"/><stop offset="0.051" stop-color="#eb6d8c"/><stop offset="0.103" stop-color="#eb6e8d"/><stop offset="0.154" stop-color="#ec6e8d"/><stop offset="0.205" stop-color="#ec6f8e"/><stop offset="0.256" stop-color="#ed7591"/><stop offset="0.308" stop-color="#f08ea2"/><stop offset="0.359" stop-color="#f4a7b2"/><stop offset="0.410" stop-color="#f7bbbf"/><stop offset="0.462" stop-color="#f9c8c8"/><stop offset="0.513" stop-color="#fbd5d1"/><stop offset="0.564" stop-color="#fcd9d2"/><stop offset="0.615" stop-color="#fbd2cb"/><stop offset="0.667" stop-color="#fbcbc3"/><stop offset="0.718" stop-color="#fac5bc"/><stop offset="0.769" stop-color="#fabeb4"/><stop offset="0.821" stop-color="#fabbb1"/><stop offset="0.872" stop-color="#f9b7ad"/><stop offset="0.923" stop-color="#f9b4aa"/><stop offset="0.974" stop-color="#f8b1a7"/></linearGradient>
<linearGradient id="s103" gradientUnits="userSpaceOnUse" x1="420" y1="0" x2="615" y2="0"><stop offset="0.000" stop-color="#eb6c8c"/><stop offset="0.051" stop-color="#eb6d8c"/><stop offset="0.103" stop-color="#eb6e8d"/><stop offset="0.154" stop-color="#ec6e8d"/><stop offset="0.205" stop-color="#ec6f8e"/><stop offset="0.256" stop-color="#ed7591"/><stop offset="0.308" stop-color="#f08ea2"/><stop offset="0.359" stop-color="#f4a7b2"/><stop offset="0.410" stop-color="#f7bbbf"/><stop offset="0.462" stop-color="#f9c8c8"/><stop offset="0.513" stop-color="#fbd5d1"/><stop offset="0.564" stop-color="#fcd9d2"/><stop offset="0.615" stop-color="#fbd2cb"/><stop offset="0.667" stop-color="#fbcbc3"/><stop offset="0.718" stop-color="#fac5bc"/><stop offset="0.769" stop-color="#fabeb4"/><stop offset="0.821" stop-color="#fabbb1"/><stop offset="0.872" stop-color="#f9b7ad"/><stop offset="0.923" stop-color="#f9b4aa"/><stop offset="0.974" stop-color="#f8b1a7"/></linearGradient>
<linearGradient id="s104" gradientUnits="userSpaceOnUse" x1="420" y1="0" x2="615" y2="0"><stop offset="0.000" stop-color="#eb6c8c"/><stop offset="0.051" stop-color="#eb6d8c"/><stop offset="0.103" stop-color="#eb6e8d"/><stop offset="0.154" stop-color="#ec6e8d"/><stop offset="0.205" stop-color="#ec6f8e"/><stop offset="0.256" stop-color="#ed7591"/><stop offset="0.308" stop-color="#f08ea2"/><stop offset="0.359" stop-color="#f4a7b2"/><stop offset="0.410" stop-color="#f7bbbf"/><stop offset="0.462" stop-color="#f9c8c8"/><stop offset="0.513" stop-color="#fbd5d1"/><stop offset="0.564" stop-color="#fcd9d2"/><stop offset="0.615" stop-color="#fbd2cb"/><stop offset="0.667" stop-color="#fbcbc3"/><stop offset="0.718" stop-color="#fac5bc"/><stop offset="0.769" stop-color="#fabeb4"/><stop offset="0.821" stop-color="#fabbb1"/><stop offset="0.872" stop-color="#f9b7ad"/><stop offset="0.923" stop-color="#f9b4aa"/><stop offset="0.974" stop-color="#f8b1a7"/></linearGradient>
<linearGradient id="s105" gradientUnits="userSpaceOnUse" x1="420" y1="0" x2="615" y2="0"><stop offset="0.000" stop-color="#eb6c8c"/><stop offset="0.051" stop-color="#eb6d8c"/><stop offset="0.103" stop-color="#eb6e8d"/><stop offset="0.154" stop-color="#ec6e8d"/><stop offset="0.205" stop-color="#ec6f8e"/><stop offset="0.256" stop-color="#ed7591"/><stop offset="0.308" stop-color="#f08ea2"/><stop offset="0.359" stop-color="#f4a7b2"/><stop offset="0.410" stop-color="#f7bbbf"/><stop offset="0.462" stop-color="#f9c8c8"/><stop offset="0.513" stop-color="#fbd5d1"/><stop offset="0.564" stop-color="#fcd9d2"/><stop offset="0.615" stop-color="#fbd2cb"/><stop offset="0.667" stop-color="#fbcbc3"/><stop offset="0.718" stop-color="#fac5bc"/><stop offset="0.769" stop-color="#fabeb4"/><stop offset="0.821" stop-color="#fabbb1"/><stop offset="0.872" stop-color="#f9b7ad"/><stop offset="0.923" stop-color="#f9b4aa"/><stop offset="0.974" stop-color="#f8b1a7"/></linearGradient>
<linearGradient id="s106" gradientUnits="userSpaceOnUse" x1="420" y1="0" x2="615" y2="0"><stop offset="0.000" stop-color="#eb6c8c"/><stop offset="0.051" stop-color="#eb6d8c"/><stop offset="0.103" stop-color="#eb6e8d"/><stop offset="0.154" stop-color="#ec6e8d"/><stop offset="0.205" stop-color="#ec6f8e"/><stop offset="0.256" stop-color="#ed7591"/><stop offset="0.308" stop-color="#f08ea2"/><stop offset="0.359" stop-color="#f4a7b2"/><stop offset="0.410" stop-color="#f7bbbf"/><stop offset="0.462" stop-color="#f9c8c8"/><stop offset="0.513" stop-color="#fbd5d1"/><stop offset="0.564" stop-color="#fcd9d2"/><stop offset="0.615" stop-color="#fbd2cb"/><stop offset="0.667" stop-color="#fbcbc3"/><stop offset="0.718" stop-color="#fac5bc"/><stop offset="0.769" stop-color="#fabeb4"/><stop offset="0.821" stop-color="#fabbb1"/><stop offset="0.872" stop-color="#f9b7ad"/><stop offset="0.923" stop-color="#f9b4aa"/><stop offset="0.974" stop-color="#f8b1a7"/></linearGradient>
<linearGradient id="s107" gradientUnits="userSpaceOnUse" x1="420" y1="0" x2="615" y2="0"><stop offset="0.000" stop-color="#eb6c8c"/><stop offset="0.051" stop-color="#eb6d8c"/><stop offset="0.103" stop-color="#eb6e8d"/><stop offset="0.154" stop-color="#ec6e8d"/><stop offset="0.205" stop-color="#ec6f8e"/><stop offset="0.256" stop-color="#ed7591"/><stop offset="0.308" stop-color="#f08ea2"/><stop offset="0.359" stop-color="#f4a7b2"/><stop offset="0.410" stop-color="#f7bbbf"/><stop offset="0.462" stop-color="#f9c8c8"/><stop offset="0.513" stop-color="#fbd5d1"/><stop offset="0.564" stop-color="#fcd9d2"/><stop offset="0.615" stop-color="#fbd2cb"/><stop offset="0.667" stop-color="#fbcbc3"/><stop offset="0.718" stop-color="#fac5bc"/><stop offset="0.769" stop-color="#fabeb4"/><stop offset="0.821" stop-color="#fabbb1"/><stop offset="0.872" stop-color="#f9b7ad"/><stop offset="0.923" stop-color="#f9b4aa"/><stop offset="0.974" stop-color="#f8b1a7"/></linearGradient>
<linearGradient id="s108" gradientUnits="userSpaceOnUse" x1="420" y1="0" x2="615" y2="0"><stop offset="0.000" stop-color="#eb6c8c"/><stop offset="0.051" stop-color="#eb6d8c"/><stop offset="0.103" stop-color="#eb6e8d"/><stop offset="0.154" stop-color="#ec6e8d"/><stop offset="0.205" stop-color="#ec6f8e"/><stop offset="0.256" stop-color="#ed7591"/><stop offset="0.308" stop-color="#f08ea2"/><stop offset="0.359" stop-color="#f4a7b2"/><stop offset="0.410" stop-color="#f7bbbf"/><stop offset="0.462" stop-color="#f9c8c8"/><stop offset="0.513" stop-color="#fbd5d1"/><stop offset="0.564" stop-color="#fcd9d2"/><stop offset="0.615" stop-color="#fbd2cb"/><stop offset="0.667" stop-color="#fbcbc3"/><stop offset="0.718" stop-color="#fac5bc"/><stop offset="0.769" stop-color="#fabeb4"/><stop offset="0.821" stop-color="#fabbb1"/><stop offset="0.872" stop-color="#f9b7ad"/><stop offset="0.923" stop-color="#f9b4aa"/><stop offset="0.974" stop-color="#f8b1a7"/></linearGradient>
<linearGradient id="s109" gradientUnits="userSpaceOnUse" x1="420" y1="0" x2="615" y2="0"><stop offset="0.000" stop-color="#eb6c8c"/><stop offset="0.051" stop-color="#eb6d8c"/><stop offset="0.103" stop-color="#eb6e8d"/><stop offset="0.154" stop-color="#ec6e8d"/><stop offset="0.205" stop-color="#ec6f8e"/><stop offset="0.256" stop-color="#ed7591"/><stop offset="0.308" stop-color="#f08ea2"/><stop offset="0.359" stop-color="#f4a7b2"/><stop offset="0.410" stop-color="#f7bbbf"/><stop offset="0.462" stop-color="#f9c8c8"/><stop offset="0.513" stop-color="#fbd5d1"/><stop offset="0.564" stop-color="#fcd9d2"/><stop offset="0.615" stop-color="#fbd2cb"/><stop offset="0.667" stop-color="#fbcbc3"/><stop offset="0.718" stop-color="#fac5bc"/><stop offset="0.769" stop-color="#fabeb4"/><stop offset="0.821" stop-color="#fabbb1"/><stop offset="0.872" stop-color="#f9b7ad"/><stop offset="0.923" stop-color="#f9b4aa"/><stop offset="0.974" stop-color="#f8b1a7"/></linearGradient>
<linearGradient id="s110" gradientUnits="userSpaceOnUse" x1="420" y1="0" x2="615" y2="0"><stop offset="0.000" stop-color="#eb6c8c"/><stop offset="0.051" stop-color="#eb6d8c"/><stop offset="0.103" stop-color="#eb6e8d"/><stop offset="0.154" stop-color="#ec6e8d"/><stop offset="0.205" stop-color="#ec6f8e"/><stop offset="0.256" stop-color="#ed7591"/><stop offset="0.308" stop-color="#f08ea2"/><stop offset="0.359" stop-color="#f4a7b2"/><stop offset="0.410" stop-color="#f7bbbf"/><stop offset="0.462" stop-color="#f9c8c8"/><stop offset="0.513" stop-color="#fbd5d1"/><stop offset="0.564" stop-color="#fcd9d2"/><stop offset="0.615" stop-color="#fbd2cb"/><stop offset="0.667" stop-color="#fbcbc3"/><stop offset="0.718" stop-color="#fac5bc"/><stop offset="0.769" stop-color="#fabeb4"/><stop offset="0.821" stop-color="#fabbb1"/><stop offset="0.872" stop-color="#f9b7ad"/><stop offset="0.923" stop-color="#f9b4aa"/><stop offset="0.974" stop-color="#f8b1a7"/></linearGradient>
<linearGradient id="s111" gradientUnits="userSpaceOnUse" x1="420" y1="0" x2="615" y2="0"><stop offset="0.000" stop-color="#eb6c8c"/><stop offset="0.051" stop-color="#eb6d8c"/><stop offset="0.103" stop-color="#eb6e8d"/><stop offset="0.154" stop-color="#ec6e8d"/><stop offset="0.205" stop-color="#ec6f8e"/><stop offset="0.256" stop-color="#ed7591"/><stop offset="0.308" stop-color="#f08ea2"/><stop offset="0.359" stop-color="#f4a7b2"/><stop offset="0.410" stop-color="#f7bbbf"/><stop offset="0.462" stop-color="#f9c8c8"/><stop offset="0.513" stop-color="#fbd5d1"/><stop offset="0.564" stop-color="#fcd9d2"/><stop offset="0.615" stop-color="#fbd2cb"/><stop offset="0.667" stop-color="#fbcbc3"/><stop offset="0.718" stop-color="#fac5bc"/><stop offset="0.769" stop-color="#fabeb4"/><stop offset="0.821" stop-color="#fabbb1"/><stop offset="0.872" stop-color="#f9b7ad"/><stop offset="0.923" stop-color="#f9b4aa"/><stop offset="0.974" stop-color="#f8b1a7"/></linearGradient>
<linearGradient id="s112" gradientUnits="userSpaceOnUse" x1="420" y1="0" x2="615" y2="0"><stop offset="0.000" stop-color="#eb6c8c"/><stop offset="0.051" stop-color="#eb6d8c"/><stop offset="0.103" stop-color="#eb6e8d"/><stop offset="0.154" stop-color="#ec6e8d"/><stop offset="0.205" stop-color="#ec6f8e"/><stop offset="0.256" stop-color="#ed7591"/><stop offset="0.308" stop-color="#f08ea2"/><stop offset="0.359" stop-color="#f4a7b2"/><stop offset="0.410" stop-color="#f7bbbf"/><stop offset="0.462" stop-color="#f9c8c8"/><stop offset="0.513" stop-color="#fbd5d1"/><stop offset="0.564" stop-color="#fcd9d2"/><stop offset="0.615" stop-color="#fbd2cb"/><stop offset="0.667" stop-color="#fbcbc3"/><stop offset="0.718" stop-color="#fac5bc"/><stop offset="0.769" stop-color="#fabeb4"/><stop offset="0.821" stop-color="#fabbb1"/><stop offset="0.872" stop-color="#f9b7ad"/><stop offset="0.923" stop-color="#f9b4aa"/><stop offset="0.974" stop-color="#f8b1a7"/></linearGradient>
<linearGradient id="s113" gradientUnits="userSpaceOnUse" x1="420" y1="0" x2="615" y2="0"><stop offset="0.000" stop-color="#eb6c8c"/><stop offset="0.051" stop-color="#eb6d8c"/><stop offset="0.103" stop-color="#eb6e8d"/><stop offset="0.154" stop-color="#ec6e8d"/><stop offset="0.205" stop-color="#ec6f8e"/><stop offset="0.256" stop-color="#ed7591"/><stop offset="0.308" stop-color="#f08ea2"/><stop offset="0.359" stop-color="#f4a7b2"/><stop offset="0.410" stop-color="#f7bbbf"/><stop offset="0.462" stop-color="#f9c8c8"/><stop offset="0.513" stop-color="#fbd5d1"/><stop offset="0.564" stop-color="#fcd9d2"/><stop offset="0.615" stop-color="#fbd2cb"/><stop offset="0.667" stop-color="#fbcbc3"/><stop offset="0.718" stop-color="#fac5bc"/><stop offset="0.769" stop-color="#fabeb4"/><stop offset="0.821" stop-color="#fabbb1"/><stop offset="0.872" stop-color="#f9b7ad"/><stop offset="0.923" stop-color="#f9b4aa"/><stop offset="0.974" stop-color="#f8b1a7"/></linearGradient>
<linearGradient id="s114" gradientUnits="userSpaceOnUse" x1="420" y1="0" x2="615" y2="0"><stop offset="0.000" stop-color="#eb6c8c"/><stop offset="0.051" stop-color="#eb6d8c"/><stop offset="0.103" stop-color="#eb6e8d"/><stop offset="0.154" stop-color="#ec6e8d"/><stop offset="0.205" stop-color="#ec6f8e"/><stop offset="0.256" stop-color="#ed7591"/><stop offset="0.308" stop-color="#f08ea2"/><stop offset="0.359" stop-color="#f4a7b2"/><stop offset="0.410" stop-color="#f7bbbf"/><stop offset="0.462" stop-color="#f9c8c8"/><stop offset="0.513" stop-color="#fbd5d1"/><stop offset="0.564" stop-color="#fcd9d2"/><stop offset="0.615" stop-color="#fbd2cb"/><stop offset="0.667" stop-color="#fbcbc3"/><stop offset="0.718" stop-color="#fac5bc"/><stop offset="0.769" stop-color="#fabeb4"/><stop offset="0.821" stop-color="#fabbb1"/><stop offset="0.872" stop-color="#f9b7ad"/><stop offset="0.923" stop-color="#f9b4aa"/><stop offset="0.974" stop-color="#f8b1a7"/></linearGradient>
<linearGradient id="s115" gradientUnits="userSpaceOnUse" x1="420" y1="0" x2="615" y2="0"><stop offset="0.000" stop-color="#eb6c8c"/><stop offset="0.051" stop-color="#eb6d8c"/><stop offset="0.103" stop-color="#eb6e8d"/><stop offset="0.154" stop-color="#ec6e8d"/><stop offset="0.205" stop-color="#ec6f8e"/><stop offset="0.256" stop-color="#ed7591"/><stop offset="0.308" stop-color="#f08ea2"/><stop offset="0.359" stop-color="#f4a7b2"/><stop offset="0.410" stop-color="#f7bbbf"/><stop offset="0.462" stop-color="#f9c8c8"/><stop offset="0.513" stop-color="#fbd5d1"/><stop offset="0.564" stop-color="#fcd9d2"/><stop offset="0.615" stop-color="#fbd2cb"/><stop offset="0.667" stop-color="#fbcbc3"/><stop offset="0.718" stop-color="#fac5bc"/><stop offset="0.769" stop-color="#fabeb4"/><stop offset="0.821" stop-color="#fabbb1"/><stop offset="0.872" stop-color="#f9b7ad"/><stop offset="0.923" stop-color="#f9b4aa"/><stop offset="0.974" stop-color="#f8b1a7"/></linearGradient>
<linearGradient id="s116" gradientUnits="userSpaceOnUse" x1="420" y1="0" x2="615" y2="0"><stop offset="0.000" stop-color="#eb6c8c"/><stop offset="0.051" stop-color="#eb6d8c"/><stop offset="0.103" stop-color="#eb6e8d"/><stop offset="0.154" stop-color="#ec6e8d"/><stop offset="0.205" stop-color="#ec6f8e"/><stop offset="0.256" stop-color="#ed7591"/><stop offset="0.308" stop-color="#f08ea2"/><stop offset="0.359" stop-color="#f4a7b2"/><stop offset="0.410" stop-color="#f7bbbf"/><stop offset="0.462" stop-color="#f9c8c8"/><stop offset="0.513" stop-color="#fbd5d1"/><stop offset="0.564" stop-color="#fcd9d2"/><stop offset="0.615" stop-color="#fbd2cb"/><stop offset="0.667" stop-color="#fbcbc3"/><stop offset="0.718" stop-color="#fac5bc"/><stop offset="0.769" stop-color="#fabeb4"/><stop offset="0.821" stop-color="#fabbb1"/><stop offset="0.872" stop-color="#f9b7ad"/><stop offset="0.923" stop-color="#f9b4aa"/><stop offset="0.974" stop-color="#f8b1a7"/></linearGradient>
<linearGradient id="s117" gradientUnits="userSpaceOnUse" x1="420" y1="0" x2="615" y2="0"><stop offset="0.000" stop-color="#eb6c8c"/><stop offset="0.051" stop-color="#eb6d8c"/><stop offset="0.103" stop-color="#eb6e8d"/><stop offset="0.154" stop-color="#ec6e8d"/><stop offset="0.205" stop-color="#ec6f8e"/><stop offset="0.256" stop-color="#ed7591"/><stop offset="0.308" stop-color="#f08ea2"/><stop offset="0.359" stop-color="#f4a7b2"/><stop offset="0.410" stop-color="#f7bbbf"/><stop offset="0.462" stop-color="#f9c8c8"/><stop offset="0.513" stop-color="#fbd5d1"/><stop offset="0.564" stop-color="#fcd9d2"/><stop offset="0.615" stop-color="#fbd2cb"/><stop offset="0.667" stop-color="#fbcbc3"/><stop offset="0.718" stop-color="#fac5bc"/><stop offset="0.769" stop-color="#fabeb4"/><stop offset="0.821" stop-color="#fabbb1"/><stop offset="0.872" stop-color="#f9b7ad"/><stop offset="0.923" stop-color="#f9b4aa"/><stop offset="0.974" stop-color="#f8b1a7"/></linearGradient>
<linearGradient id="s118" gradientUnits="userSpaceOnUse" x1="420" y1="0" x2="615" y2="0"><stop offset="0.000" stop-color="#eb6c8c"/><stop offset="0.051" stop-color="#eb6d8c"/><stop offset="0.103" stop-color="#eb6e8d"/><stop offset="0.154" stop-color="#ec6e8d"/><stop offset="0.205" stop-color="#ec6f8e"/><stop offset="0.256" stop-color="#ed7591"/><stop offset="0.308" stop-color="#f08ea2"/><stop offset="0.359" stop-color="#f4a7b2"/><stop offset="0.410" stop-color="#f7bbbf"/><stop offset="0.462" stop-color="#f9c8c8"/><stop offset="0.513" stop-color="#fbd5d1"/><stop offset="0.564" stop-color="#fcd9d2"/><stop offset="0.615" stop-color="#fbd2cb"/><stop offset="0.667" stop-color="#fbcbc3"/><stop offset="0.718" stop-color="#fac5bc"/><stop offset="0.769" stop-color="#fabeb4"/><stop offset="0.821" stop-color="#fabbb1"/><stop offset="0.872" stop-color="#f9b7ad"/><stop offset="0.923" stop-color="#f9b4aa"/><stop offset="0.974" stop-color="#f8b1a7"/></linearGradient>
<linearGradient id="s119" gradientUnits="userSpaceOnUse" x1="420" y1="0" x2="615" y2="0"><stop offset="0.000" stop-color="#eb6c8c"/><stop offset="0.051" stop-color="#eb6d8c"/><stop offset="0.103" stop-color="#eb6e8d"/><stop offset="0.154" stop-color="#ec6e8d"/><stop offset="0.205" stop-color="#ec6f8e"/><stop offset="0.256" stop-color="#ed7591"/><stop offset="0.308" stop-color="#f08ea2"/><stop offset="0.359" stop-color="#f4a7b2"/><stop offset="0.410" stop-color="#f7bbbf"/><stop offset="0.462" stop-color="#f9c8c8"/><stop offset="0.513" stop-color="#fbd5d1"/><stop offset="0.564" stop-color="#fcd9d2"/><stop offset="0.615" stop-color="#fbd2cb"/><stop offset="0.667" stop-color="#fbcbc3"/><stop offset="0.718" stop-color="#fac5bc"/><stop offset="0.769" stop-color="#fabeb4"/><stop offset="0.821" stop-color="#fabbb1"/><stop offset="0.872" stop-color="#f9b7ad"/><stop offset="0.923" stop-color="#f9b4aa"/><stop offset="0.974" stop-color="#f8b1a7"/></linearGradient>
<linearGradient id="s120" gradientUnits="userSpaceOnUse" x1="420" y1="0" x2="615" y2="0"><stop offset="0.000" stop-color="#eb6c8c"/><stop offset="0.051" stop-color="#eb6d8c"/><stop offset="0.103" stop-color="#eb6e8d"/><stop offset="0.154" stop-color="#ec6e8d"/><stop offset="0.205" stop-color="#ec6f8e"/><stop offset="0.256" stop-color="#ed7591"/><stop offset="0.308" stop-color="#f08ea2"/><stop offset="0.359" stop-color="#f4a7b2"/><stop offset="0.410" stop-color="#f7bbbf"/><stop offset="0.462" stop-color="#f9c8c8"/><stop offset="0.513" stop-color="#fbd5d1"/><stop offset="0.564" stop-color="#fcd9d2"/><stop offset="0.615" stop-color="#fbd2cb"/><stop offset="0.667" stop-color="#fbcbc3"/><stop offset="0.718" stop-color="#fac5bc"/><stop offset="0.769" stop-color="#fabeb4"/><stop offset="0.821" stop-color="#fabbb1"/><stop offset="0.872" stop-color="#f9b7ad"/><stop offset="0.923" stop-color="#f9b4aa"/><stop offset="0.974" stop-color="#f8b1a7"/></linearGradient>
<linearGradient id="s121" gradientUnits="userSpaceOnUse" x1="420" y1="0" x2="615" y2="0"><stop offset="0.000" stop-color="#eb6c8c"/><stop offset="0.051" stop-color="#eb6d8c"/><stop offset="0.103" stop-color="#eb6e8d"/><stop offset="0.154" stop-color="#ec6e8d"/><stop offset="0.205" stop-color="#ec6f8e"/><stop offset="0.256" stop-color="#ed7591"/><stop offset="0.308" stop-color="#f08ea2"/><stop offset="0.359" stop-color="#f4a7b2"/><stop offset="0.410" stop-color="#f7bbbf"/><stop offset="0.462" stop-color="#f9c8c8"/><stop offset="0.513" stop-color="#fbd5d1"/><stop offset="0.564" stop-color="#fcd9d2"/><stop offset="0.615" stop-color="#fbd2cb"/><stop offset="0.667" stop-color="#fbcbc3"/><stop offset="0.718" stop-color="#fac5bc"/><stop offset="0.769" stop-color="#fabeb4"/><stop offset="0.821" stop-color="#fabbb1"/><stop offset="0.872" stop-color="#f9b7ad"/><stop offset="0.923" stop-color="#f9b4aa"/><stop offset="0.974" stop-color="#f8b1a7"/></linearGradient>
<linearGradient id="s122" gradientUnits="userSpaceOnUse" x1="420" y1="0" x2="615" y2="0"><stop offset="0.000" stop-color="#eb6c8c"/><stop offset="0.051" stop-color="#eb6d8c"/><stop offset="0.103" stop-color="#eb6e8d"/><stop offset="0.154" stop-color="#ec6e8d"/><stop offset="0.205" stop-color="#ec6f8e"/><stop offset="0.256" stop-color="#ed7591"/><stop offset="0.308" stop-color="#f08ea2"/><stop offset="0.359" stop-color="#f4a7b2"/><stop offset="0.410" stop-color="#f7bbbf"/><stop offset="0.462" stop-color="#f9c8c8"/><stop offset="0.513" stop-color="#fbd5d1"/><stop offset="0.564" stop-color="#fcd9d2"/><stop offset="0.615" stop-color="#fbd2cb"/><stop offset="0.667" stop-color="#fbcbc3"/><stop offset="0.718" stop-color="#fac5bc"/><stop offset="0.769" stop-color="#fabeb4"/><stop offset="0.821" stop-color="#fabbb1"/><stop offset="0.872" stop-color="#f9b7ad"/><stop offset="0.923" stop-color="#f9b4aa"/><stop offset="0.974" stop-color="#f8b1a7"/></linearGradient>
<linearGradient id="bband" gradientUnits="userSpaceOnUse" x1="450" y1="0" x2="595" y2="0">
    <stop offset="0" stop-color="#ea6e92" stop-opacity="0.9"/>
    <stop offset="0.55" stop-color="#ec7898" stop-opacity="0.85"/>
    <stop offset="1" stop-color="#f29a9c" stop-opacity="0.2"/>
  </linearGradient>
<clipPath id="yclip"><rect x="0" y="0" width="373" height="684"/><path d="M 654,0 L 1024,0 L 1024,684 L 615,684 L 615,300 L 638,262 L 654,215 Z"/></clipPath>
</defs>

<g clip-path="url(#circ)"><g clip-path="url(#wave)">
  <g clip-path="url(#yclip)"><rect x="0" y="0" width="1024" height="684" fill="#ecec00"/>
  <g><circle cx="316.9" cy="29.4" r="18.6" fill="url(#bub)"/>
<circle cx="743.8" cy="30.0" r="25.1" fill="url(#bub)"/>
<circle cx="350.0" cy="30.1" r="22.7" fill="url(#bub)"/>
<circle cx="397.5" cy="30.5" r="22.6" fill="url(#bub)"/>
<circle cx="621.6" cy="31.7" r="21.9" fill="url(#bub)"/>
<circle cx="278.8" cy="33.4" r="18.8" fill="url(#bub)"/>
<circle cx="705.9" cy="34.8" r="27.7" fill="url(#bub)"/>
<circle cx="659.9" cy="36.5" r="20.1" fill="url(#bub)"/>
<circle cx="235.8" cy="36.8" r="21.5" fill="url(#bub)"/>
<circle cx="783.5" cy="38.4" r="25.1" fill="url(#bub)"/>
<circle cx="765.7" cy="65.8" r="28.2" fill="url(#bub)"/>
<circle cx="647.5" cy="65.9" r="26.1" fill="url(#bub)"/>
<circle cx="343.9" cy="67.3" r="18.5" fill="url(#bub)"/>
<circle cx="373.4" cy="67.5" r="19.6" fill="url(#bub)"/>
<circle cx="723.4" cy="68.6" r="28.5" fill="url(#bub)"/>
<circle cx="684.2" cy="73.4" r="26.5" fill="url(#bub)"/>
<circle cx="264.3" cy="75.2" r="20.4" fill="url(#bub)"/>
<circle cx="300.0" cy="75.5" r="24.2" fill="url(#bub)"/>
<circle cx="735.8" cy="98.8" r="23.9" fill="url(#bub)"/>
<circle cx="311.5" cy="101.1" r="18.7" fill="url(#bub)"/>
<circle cx="393.0" cy="102.2" r="24.3" fill="url(#bub)"/>
<circle cx="354.3" cy="102.4" r="25.3" fill="url(#bub)"/>
<circle cx="703.7" cy="102.8" r="28.6" fill="url(#bub)"/>
<circle cx="780.4" cy="104.9" r="28.5" fill="url(#bub)"/>
<circle cx="276.9" cy="105.2" r="24.9" fill="url(#bub)"/>
<circle cx="236.2" cy="105.6" r="26.8" fill="url(#bub)"/>
<circle cx="659.2" cy="108.5" r="26.7" fill="url(#bub)"/>
<circle cx="620.8" cy="109.5" r="19.4" fill="url(#bub)"/>
<circle cx="762.0" cy="135.0" r="20.8" fill="url(#bub)"/>
<circle cx="265.2" cy="136.3" r="26.6" fill="url(#bub)"/>
<circle cx="682.7" cy="136.4" r="26.9" fill="url(#bub)"/>
<circle cx="721.5" cy="140.4" r="21.2" fill="url(#bub)"/>
<circle cx="377.0" cy="142.5" r="19.3" fill="url(#bub)"/>
<circle cx="647.0" cy="143.9" r="28.1" fill="url(#bub)"/>
<circle cx="301.5" cy="143.9" r="24.2" fill="url(#bub)"/>
<circle cx="337.1" cy="145.2" r="25.9" fill="url(#bub)"/>
<circle cx="239.9" cy="168.7" r="19.6" fill="url(#bub)"/>
<circle cx="668.3" cy="173.2" r="24.3" fill="url(#bub)"/>
<circle cx="734.4" cy="173.5" r="23.7" fill="url(#bub)"/>
<circle cx="356.2" cy="173.7" r="24.4" fill="url(#bub)"/>
<circle cx="623.2" cy="173.7" r="27.8" fill="url(#bub)"/>
<circle cx="398.9" cy="173.9" r="27.1" fill="url(#bub)"/>
<circle cx="701.8" cy="174.6" r="27.9" fill="url(#bub)"/>
<circle cx="281.6" cy="175.1" r="25.2" fill="url(#bub)"/>
<circle cx="314.6" cy="176.5" r="27.5" fill="url(#bub)"/>
<circle cx="772.6" cy="177.8" r="20.0" fill="url(#bub)"/>
<circle cx="728.0" cy="204.3" r="24.0" fill="url(#bub)"/>
<circle cx="377.5" cy="205.0" r="18.2" fill="url(#bub)"/>
<circle cx="760.0" cy="206.3" r="24.1" fill="url(#bub)"/>
<circle cx="684.1" cy="209.2" r="24.0" fill="url(#bub)"/>
<circle cx="338.2" cy="211.0" r="21.1" fill="url(#bub)"/>
<circle cx="257.5" cy="211.4" r="25.2" fill="url(#bub)"/>
<circle cx="647.5" cy="211.7" r="19.9" fill="url(#bub)"/>
<circle cx="307.1" cy="212.9" r="25.0" fill="url(#bub)"/>
<circle cx="275.4" cy="242.5" r="19.4" fill="url(#bub)"/>
<circle cx="390.9" cy="242.8" r="27.3" fill="url(#bub)"/>
<circle cx="668.3" cy="243.1" r="26.2" fill="url(#bub)"/>
<circle cx="311.8" cy="243.2" r="27.4" fill="url(#bub)"/>
<circle cx="701.9" cy="243.9" r="24.6" fill="url(#bub)"/>
<circle cx="739.6" cy="244.2" r="25.5" fill="url(#bub)"/>
<circle cx="625.1" cy="244.5" r="26.3" fill="url(#bub)"/>
<circle cx="783.9" cy="246.2" r="23.2" fill="url(#bub)"/>
<circle cx="234.7" cy="247.0" r="19.3" fill="url(#bub)"/>
<circle cx="359.8" cy="247.6" r="23.9" fill="url(#bub)"/>
<circle cx="759.9" cy="273.5" r="18.8" fill="url(#bub)"/>
<circle cx="297.3" cy="275.4" r="19.6" fill="url(#bub)"/>
<circle cx="653.1" cy="275.7" r="27.5" fill="url(#bub)"/>
<circle cx="372.0" cy="277.6" r="20.8" fill="url(#bub)"/>
<circle cx="720.1" cy="277.9" r="19.5" fill="url(#bub)"/>
<circle cx="339.4" cy="279.7" r="20.5" fill="url(#bub)"/>
<circle cx="691.5" cy="282.7" r="24.0" fill="url(#bub)"/>
<circle cx="267.4" cy="284.1" r="21.9" fill="url(#bub)"/>
<circle cx="392.4" cy="308.6" r="22.2" fill="url(#bub)"/>
<circle cx="745.6" cy="312.2" r="20.4" fill="url(#bub)"/>
<circle cx="278.6" cy="314.8" r="25.5" fill="url(#bub)"/>
<circle cx="666.0" cy="315.3" r="19.7" fill="url(#bub)"/>
<circle cx="359.7" cy="317.0" r="26.4" fill="url(#bub)"/>
<circle cx="784.5" cy="317.4" r="23.3" fill="url(#bub)"/>
<circle cx="628.4" cy="318.2" r="25.2" fill="url(#bub)"/>
<circle cx="311.4" cy="318.2" r="25.3" fill="url(#bub)"/>
<circle cx="240.8" cy="318.8" r="22.0" fill="url(#bub)"/>
<circle cx="706.4" cy="319.0" r="19.5" fill="url(#bub)"/>
<circle cx="376.4" cy="342.5" r="19.1" fill="url(#bub)"/>
<circle cx="257.5" cy="343.0" r="24.9" fill="url(#bub)"/>
<circle cx="333.6" cy="344.0" r="18.6" fill="url(#bub)"/>
<circle cx="682.5" cy="346.0" r="21.7" fill="url(#bub)"/>
<circle cx="757.2" cy="346.2" r="22.8" fill="url(#bub)"/>
<circle cx="297.1" cy="346.3" r="20.3" fill="url(#bub)"/>
<circle cx="647.0" cy="348.4" r="19.7" fill="url(#bub)"/>
<circle cx="718.8" cy="348.8" r="25.8" fill="url(#bub)"/>
<circle cx="699.0" cy="377.5" r="19.1" fill="url(#bub)"/>
<circle cx="625.1" cy="377.8" r="24.7" fill="url(#bub)"/>
<circle cx="355.0" cy="378.0" r="23.0" fill="url(#bub)"/>
<circle cx="737.4" cy="378.6" r="26.4" fill="url(#bub)"/>
<circle cx="241.4" cy="378.8" r="27.4" fill="url(#bub)"/>
<circle cx="391.7" cy="380.2" r="19.1" fill="url(#bub)"/>
<circle cx="276.6" cy="381.4" r="20.7" fill="url(#bub)"/>
<circle cx="783.5" cy="386.8" r="22.6" fill="url(#bub)"/>
<circle cx="666.9" cy="388.7" r="28.6" fill="url(#bub)"/>
<circle cx="321.0" cy="388.9" r="19.3" fill="url(#bub)"/>
<circle cx="258.7" cy="412.1" r="27.0" fill="url(#bub)"/>
<circle cx="688.6" cy="412.9" r="24.2" fill="url(#bub)"/>
<circle cx="301.5" cy="413.6" r="28.3" fill="url(#bub)"/>
<circle cx="726.9" cy="416.9" r="18.6" fill="url(#bub)"/>
<circle cx="333.9" cy="418.1" r="23.9" fill="url(#bub)"/>
<circle cx="768.3" cy="419.4" r="18.8" fill="url(#bub)"/>
<circle cx="382.4" cy="420.2" r="28.6" fill="url(#bub)"/>
<circle cx="643.6" cy="422.8" r="20.8" fill="url(#bub)"/>
<circle cx="773.9" cy="448.5" r="20.6" fill="url(#bub)"/>
<circle cx="238.4" cy="448.6" r="20.8" fill="url(#bub)"/>
<circle cx="396.5" cy="449.3" r="26.8" fill="url(#bub)"/>
<circle cx="667.8" cy="452.0" r="18.7" fill="url(#bub)"/>
<circle cx="735.8" cy="452.9" r="20.9" fill="url(#bub)"/>
<circle cx="278.8" cy="455.9" r="26.3" fill="url(#bub)"/>
<circle cx="359.4" cy="456.3" r="28.6" fill="url(#bub)"/>
<circle cx="313.5" cy="456.3" r="21.6" fill="url(#bub)"/>
<circle cx="620.0" cy="456.9" r="26.7" fill="url(#bub)"/>
<circle cx="702.4" cy="457.7" r="21.7" fill="url(#bub)"/>
<circle cx="760.0" cy="481.6" r="18.2" fill="url(#bub)"/>
<circle cx="261.1" cy="481.7" r="23.6" fill="url(#bub)"/>
<circle cx="298.6" cy="484.5" r="18.3" fill="url(#bub)"/>
<circle cx="689.3" cy="484.9" r="21.3" fill="url(#bub)"/>
<circle cx="644.2" cy="485.1" r="18.5" fill="url(#bub)"/>
<circle cx="720.7" cy="485.6" r="23.4" fill="url(#bub)"/>
<circle cx="345.1" cy="486.8" r="25.5" fill="url(#bub)"/>
<circle cx="383.9" cy="492.9" r="28.1" fill="url(#bub)"/></g></g>

  <!-- left salmon muscle -->
  <path fill="#cb6560" d="M 235,160 L 278.5,187.4 C 283.6,193.3 289.0,199.4 293.9,205.0 C 298.4,210.1 301.8,215.4 307.0,219.5 C 312.6,223.9 319.9,227.3 326.8,230.0 C 333.8,232.8 341.2,234.0 348.7,236.0 C 356.5,238.1 365.0,239.8 372.8,242.5 C 380.4,245.2 387.6,248.8 395.0,252.0 L 420,260 L 420,520 L 380,505 C 377.6,502.3 376.2,499.3 372.8,497.0 C 367.8,493.6 357.8,492.3 351.0,489.0 C 344.5,485.9 337.7,482.3 333.0,478.0 C 329.0,474.4 326.0,471.0 323.7,465.8 C 320.6,458.7 320.6,448.4 319.0,438.0 C 317.0,424.6 315.0,407.3 313.0,392.0 C 311.0,376.7 308.9,360.9 306.8,346.0 C 304.8,331.9 303.1,317.1 300.7,305.0 C 298.7,295.1 297.6,286.5 293.9,278.4 C 290.2,270.4 283.6,264.0 278.5,256.5 C 273.3,248.7 268.2,240.4 263.0,232.4 L 230,200 Z"/>
  <!-- right salmon muscle -->
  <path fill="#cb6560" d="M 610,262 L 648.8,257.7 C 655.6,253.3 662.1,248.4 669.2,244.5 C 676.3,240.6 683.9,237.7 691.2,234.3 C 698.5,230.9 706.2,227.8 713.0,224.0 C 719.3,220.5 725.6,216.9 730.6,212.4 C 735.3,208.1 738.7,202.2 742.3,197.8 C 745.4,194.0 748.1,190.9 751.0,187.5 L 800,160 L 800,234 L 764.2,234.3 C 760.3,241.6 756.0,249.7 752.5,256.2 C 749.7,261.3 747.5,264.9 745.0,270.0 C 742.0,276.0 738.7,283.3 736.0,290.0 C 733.4,296.6 730.8,302.2 729.0,310.0 C 726.7,320.3 726.7,335.1 725.0,347.0 C 723.3,358.3 720.5,368.6 718.9,380.0 C 717.2,392.2 716.3,405.7 715.0,418.0 C 713.8,429.7 713.1,443.7 711.3,452.0 C 710.2,457.0 709.6,459.8 707.5,463.6 C 704.9,468.2 700.6,472.8 696.0,477.0 C 690.7,481.7 683.5,486.5 677.0,490.0 C 670.8,493.3 664.8,495.9 658.0,497.5 C 650.8,499.2 641.6,499.3 635.0,499.8 C 630.1,500.1 626.3,500.1 622.0,500.3 L 610,510 Z"/>

  <!-- pink wall -->
  <path fill="#e48890" d="M 376.0,30.0 C 374.7,46.7 373.7,62.1 372.0,80.0 C 370.0,100.7 366.1,126.9 364.5,147.0 C 363.2,163.5 362.0,178.5 362.5,192.0 C 362.9,203.0 363.6,214.9 366.0,222.0 C 367.5,226.4 369.6,228.3 372.0,232.0 C 375.2,237.0 379.5,243.4 384.0,249.0 C 388.8,255.0 395.8,261.3 400.0,267.0 C 403.4,271.5 406.0,275.0 408.0,280.0 C 410.3,285.8 411.0,291.8 412.0,300.0 C 413.6,312.9 414.0,331.9 414.4,350.0 C 414.9,371.4 414.8,399.9 414.4,420.0 C 414.1,435.2 413.7,448.7 413.0,460.0 C 412.5,468.4 412.5,475.9 411.0,482.0 C 409.8,486.7 408.4,490.6 406.0,494.0 C 403.7,497.2 400.3,499.4 397.0,502.0 C 393.4,504.8 389.0,507.3 385.0,510.0 L 630.0,520.0 C 628.7,511.0 626.9,501.1 626.0,493.0 C 625.3,486.4 625.1,483.0 624.8,475.0 C 624.1,459.3 623.8,427.4 623.6,405.0 C 623.4,384.2 621.9,360.6 623.6,345.0 C 624.7,334.8 626.8,329.2 629.0,320.0 C 631.7,308.6 635.0,293.1 639.0,282.0 C 642.2,272.9 646.7,266.2 650.0,258.0 C 653.4,249.6 656.7,240.8 659.0,232.0 C 661.3,223.2 663.0,214.6 664.0,205.0 C 665.2,194.1 665.2,181.4 665.0,170.0 C 664.8,159.1 664.4,148.7 663.0,138.0 C 661.6,127.0 658.9,115.8 656.5,105.0 C 654.2,94.5 650.0,85.3 649.0,74.0 C 647.9,60.7 651.0,44.7 652.0,30.0 Z"/>

  <!-- mauve band -->
  <path fill="#934c59" d="M 426.0,30.0 C 422.6,41.7 419.3,52.9 415.9,65.0 C 412.2,77.9 407.5,90.8 404.6,105.0 C 401.4,120.6 399.0,138.3 398.3,155.0 C 397.6,171.6 397.6,190.0 400.5,205.0 C 403.0,217.9 408.1,229.8 412.9,240.0 C 417.0,248.7 421.9,257.0 426.7,263.0 C 430.4,267.6 434.5,269.6 438.0,274.0 C 442.0,279.1 447.3,285.4 449.0,292.0 C 450.7,298.7 448.7,305.8 448.0,314.0 C 447.1,324.5 445.4,336.0 443.7,350.0 C 441.4,369.5 438.0,397.6 435.5,420.0 C 433.2,440.8 430.2,465.3 429.0,480.0 C 428.3,488.4 428.3,493.3 428.0,500.0 C 427.7,506.7 427.3,513.3 427.0,520.0 L 608.0,520.0 C 608.0,513.3 608.1,507.0 608.0,500.0 C 607.8,492.1 607.5,485.4 607.0,475.0 C 606.2,457.5 603.5,427.4 603.0,405.0 C 602.5,384.2 603.1,359.6 603.7,345.0 C 604.0,336.5 604.1,332.0 605.0,325.0 C 606.0,317.1 608.0,307.8 610.0,300.0 C 611.8,292.9 614.3,286.7 616.3,280.0 C 618.3,273.3 620.4,266.7 622.0,260.0 C 623.6,253.4 624.8,246.7 626.0,240.0 C 627.2,233.3 628.4,228.6 629.4,220.0 C 631.1,204.6 633.1,175.8 632.8,155.0 C 632.6,135.9 630.4,116.2 628.5,100.0 C 627.0,87.0 624.9,76.7 623.1,65.0 C 621.4,53.3 619.7,41.7 618.0,30.0 Z"/>

  <!-- white line -->
  <path fill="#efebe8" d="M 437.0,30.0 C 433.4,41.7 429.8,52.9 426.1,65.0 C 422.1,77.9 416.6,90.8 413.8,105.0 C 410.6,120.6 409.0,138.3 408.7,155.0 C 408.4,171.7 409.1,190.0 412.2,205.0 C 414.9,217.9 420.5,231.5 424.6,240.0 C 427.1,245.2 429.6,248.1 432.0,252.0 C 434.4,255.8 436.5,259.6 439.0,263.0 C 441.5,266.3 443.4,269.7 447.0,272.4 C 451.5,275.8 457.7,279.0 464.6,280.5 C 473.2,282.4 486.3,280.8 495.0,280.5 C 501.5,280.3 508.5,279.4 512.0,279.5 C 513.6,279.6 515.4,279.6 515.5,280.0 C 515.6,280.4 513.8,281.3 512.0,282.0 C 507.7,283.7 496.1,285.9 488.7,288.0 C 481.8,289.9 474.1,290.7 469.0,294.0 C 464.6,296.8 461.2,300.6 459.0,305.0 C 456.7,309.8 456.6,315.6 456.0,322.0 C 455.2,330.1 456.1,338.6 455.4,350.0 C 454.3,368.1 450.4,397.6 448.0,420.0 C 445.8,440.8 442.9,465.3 441.7,480.0 C 441.0,488.4 440.8,493.3 440.5,500.0 C 440.2,506.7 440.2,513.3 440.0,520.0 L 596.0,520.0 C 595.7,513.3 595.4,507.0 595.0,500.0 C 594.6,492.1 594.2,485.4 593.7,475.0 C 592.9,457.5 591.2,427.4 590.8,405.0 C 590.5,384.2 590.6,358.3 591.4,345.0 C 591.8,338.3 592.2,335.8 593.0,330.0 C 594.1,321.7 596.0,308.9 598.0,300.0 C 599.6,292.6 601.4,286.6 603.5,280.0 C 605.7,273.3 608.7,266.7 611.0,260.0 C 613.2,253.4 615.4,246.7 617.0,240.0 C 618.6,233.4 619.8,228.6 620.8,220.0 C 622.6,204.6 624.8,175.7 624.0,155.0 C 623.3,135.9 619.5,116.2 617.0,100.0 C 615.0,87.0 612.4,76.7 610.6,65.0 C 608.8,53.4 607.5,41.7 606.0,30.0 Z"/>

  <!-- lumen -->
  <g clip-path="url(#lumclip)"><rect x="415" y="30" width="205" height="4" fill="url(#s0)" shape-rendering="crispEdges"/>
<rect x="415" y="34" width="205" height="4" fill="url(#s1)" shape-rendering="crispEdges"/>
<rect x="415" y="38" width="205" height="4" fill="url(#s2)" shape-rendering="crispEdges"/>
<rect x="415" y="42" width="205" height="4" fill="url(#s3)" shape-rendering="crispEdges"/>
<rect x="415" y="46" width="205" height="4" fill="url(#s4)" shape-rendering="crispEdges"/>
<rect x="415" y="50" width="205" height="4" fill="url(#s5)" shape-rendering="crispEdges"/>
<rect x="415" y="54" width="205" height="4" fill="url(#s6)" shape-rendering="crispEdges"/>
<rect x="415" y="58" width="205" height="4" fill="url(#s7)" shape-rendering="crispEdges"/>
<rect x="415" y="62" width="205" height="4" fill="url(#s8)" shape-rendering="crispEdges"/>
<rect x="415" y="66" width="205" height="4" fill="url(#s9)" shape-rendering="crispEdges"/>
<rect x="415" y="70" width="205" height="4" fill="url(#s10)" shape-rendering="crispEdges"/>
<rect x="415" y="74" width="205" height="4" fill="url(#s11)" shape-rendering="crispEdges"/>
<rect x="415" y="78" width="205" height="4" fill="url(#s12)" shape-rendering="crispEdges"/>
<rect x="415" y="82" width="205" height="4" fill="url(#s13)" shape-rendering="crispEdges"/>
<rect x="415" y="86" width="205" height="4" fill="url(#s14)" shape-rendering="crispEdges"/>
<rect x="415" y="90" width="205" height="4" fill="url(#s15)" shape-rendering="crispEdges"/>
<rect x="415" y="94" width="205" height="4" fill="url(#s16)" shape-rendering="crispEdges"/>
<rect x="415" y="98" width="205" height="4" fill="url(#s17)" shape-rendering="crispEdges"/>
<rect x="415" y="102" width="205" height="4" fill="url(#s18)" shape-rendering="crispEdges"/>
<rect x="415" y="106" width="205" height="4" fill="url(#s19)" shape-rendering="crispEdges"/>
<rect x="415" y="110" width="205" height="4" fill="url(#s20)" shape-rendering="crispEdges"/>
<rect x="415" y="114" width="205" height="4" fill="url(#s21)" shape-rendering="crispEdges"/>
<rect x="415" y="118" width="205" height="4" fill="url(#s22)" shape-rendering="crispEdges"/>
<rect x="415" y="122" width="205" height="4" fill="url(#s23)" shape-rendering="crispEdges"/>
<rect x="415" y="126" width="205" height="4" fill="url(#s24)" shape-rendering="crispEdges"/>
<rect x="415" y="130" width="205" height="4" fill="url(#s25)" shape-rendering="crispEdges"/>
<rect x="415" y="134" width="205" height="4" fill="url(#s26)" shape-rendering="crispEdges"/>
<rect x="415" y="138" width="205" height="4" fill="url(#s27)" shape-rendering="crispEdges"/>
<rect x="415" y="142" width="205" height="4" fill="url(#s28)" shape-rendering="crispEdges"/>
<rect x="415" y="146" width="205" height="4" fill="url(#s29)" shape-rendering="crispEdges"/>
<rect x="415" y="150" width="205" height="4" fill="url(#s30)" shape-rendering="crispEdges"/>
<rect x="415" y="154" width="205" height="4" fill="url(#s31)" shape-rendering="crispEdges"/>
<rect x="415" y="158" width="205" height="4" fill="url(#s32)" shape-rendering="crispEdges"/>
<rect x="415" y="162" width="205" height="4" fill="url(#s33)" shape-rendering="crispEdges"/>
<rect x="415" y="166" width="205" height="4" fill="url(#s34)" shape-rendering="crispEdges"/>
<rect x="415" y="170" width="205" height="4" fill="url(#s35)" shape-rendering="crispEdges"/>
<rect x="415" y="174" width="205" height="4" fill="url(#s36)" shape-rendering="crispEdges"/>
<rect x="415" y="178" width="205" height="4" fill="url(#s37)" shape-rendering="crispEdges"/>
<rect x="415" y="182" width="205" height="4" fill="url(#s38)" shape-rendering="crispEdges"/>
<rect x="415" y="186" width="205" height="4" fill="url(#s39)" shape-rendering="crispEdges"/>
<rect x="415" y="190" width="205" height="4" fill="url(#s40)" shape-rendering="crispEdges"/>
<rect x="415" y="194" width="205" height="4" fill="url(#s41)" shape-rendering="crispEdges"/>
<rect x="415" y="198" width="205" height="4" fill="url(#s42)" shape-rendering="crispEdges"/>
<rect x="415" y="202" width="205" height="4" fill="url(#s43)" shape-rendering="crispEdges"/>
<rect x="415" y="206" width="205" height="4" fill="url(#s44)" shape-rendering="crispEdges"/>
<rect x="415" y="210" width="205" height="4" fill="url(#s45)" shape-rendering="crispEdges"/>
<rect x="415" y="214" width="205" height="4" fill="url(#s46)" shape-rendering="crispEdges"/>
<rect x="415" y="218" width="205" height="4" fill="url(#s47)" shape-rendering="crispEdges"/>
<rect x="415" y="222" width="205" height="4" fill="url(#s48)" shape-rendering="crispEdges"/>
<rect x="415" y="226" width="205" height="4" fill="url(#s49)" shape-rendering="crispEdges"/>
<rect x="415" y="230" width="205" height="4" fill="url(#s50)" shape-rendering="crispEdges"/>
<rect x="415" y="234" width="205" height="4" fill="url(#s51)" shape-rendering="crispEdges"/>
<rect x="415" y="238" width="205" height="4" fill="url(#s52)" shape-rendering="crispEdges"/>
<rect x="415" y="242" width="205" height="4" fill="url(#s53)" shape-rendering="crispEdges"/>
<rect x="415" y="246" width="205" height="4" fill="url(#s54)" shape-rendering="crispEdges"/>
<rect x="415" y="250" width="205" height="4" fill="url(#s55)" shape-rendering="crispEdges"/>
<rect x="415" y="254" width="205" height="4" fill="url(#s56)" shape-rendering="crispEdges"/>
<rect x="415" y="258" width="205" height="4" fill="url(#s57)" shape-rendering="crispEdges"/>
<rect x="415" y="262" width="205" height="4" fill="url(#s58)" shape-rendering="crispEdges"/>
<rect x="415" y="266" width="205" height="4" fill="url(#s59)" shape-rendering="crispEdges"/>
<rect x="415" y="270" width="205" height="4" fill="url(#s60)" shape-rendering="crispEdges"/>
<rect x="415" y="274" width="205" height="4" fill="url(#s61)" shape-rendering="crispEdges"/>
<rect x="415" y="278" width="205" height="4" fill="url(#s62)" shape-rendering="crispEdges"/>
<rect x="415" y="282" width="205" height="4" fill="url(#s63)" shape-rendering="crispEdges"/>
<rect x="415" y="286" width="205" height="4" fill="url(#s64)" shape-rendering="crispEdges"/>
<rect x="415" y="290" width="205" height="4" fill="url(#s65)" shape-rendering="crispEdges"/>
<rect x="415" y="294" width="205" height="4" fill="url(#s66)" shape-rendering="crispEdges"/>
<rect x="415" y="298" width="205" height="4" fill="url(#s67)" shape-rendering="crispEdges"/>
<rect x="415" y="302" width="205" height="4" fill="url(#s68)" shape-rendering="crispEdges"/>
<rect x="415" y="306" width="205" height="4" fill="url(#s69)" shape-rendering="crispEdges"/>
<rect x="415" y="310" width="205" height="4" fill="url(#s70)" shape-rendering="crispEdges"/>
<rect x="415" y="314" width="205" height="4" fill="url(#s71)" shape-rendering="crispEdges"/>
<rect x="415" y="318" width="205" height="4" fill="url(#s72)" shape-rendering="crispEdges"/>
<rect x="415" y="322" width="205" height="4" fill="url(#s73)" shape-rendering="crispEdges"/>
<rect x="415" y="326" width="205" height="4" fill="url(#s74)" shape-rendering="crispEdges"/>
<rect x="415" y="330" width="205" height="4" fill="url(#s75)" shape-rendering="crispEdges"/>
<rect x="415" y="334" width="205" height="4" fill="url(#s76)" shape-rendering="crispEdges"/>
<rect x="415" y="338" width="205" height="4" fill="url(#s77)" shape-rendering="crispEdges"/>
<rect x="415" y="342" width="205" height="4" fill="url(#s78)" shape-rendering="crispEdges"/>
<rect x="415" y="346" width="205" height="4" fill="url(#s79)" shape-rendering="crispEdges"/>
<rect x="415" y="350" width="205" height="4" fill="url(#s80)" shape-rendering="crispEdges"/>
<rect x="415" y="354" width="205" height="4" fill="url(#s81)" shape-rendering="crispEdges"/>
<rect x="415" y="358" width="205" height="4" fill="url(#s82)" shape-rendering="crispEdges"/>
<rect x="415" y="362" width="205" height="4" fill="url(#s83)" shape-rendering="crispEdges"/>
<rect x="415" y="366" width="205" height="4" fill="url(#s84)" shape-rendering="crispEdges"/>
<rect x="415" y="370" width="205" height="4" fill="url(#s85)" shape-rendering="crispEdges"/>
<rect x="415" y="374" width="205" height="4" fill="url(#s86)" shape-rendering="crispEdges"/>
<rect x="415" y="378" width="205" height="4" fill="url(#s87)" shape-rendering="crispEdges"/>
<rect x="415" y="382" width="205" height="4" fill="url(#s88)" shape-rendering="crispEdges"/>
<rect x="415" y="386" width="205" height="4" fill="url(#s89)" shape-rendering="crispEdges"/>
<rect x="415" y="390" width="205" height="4" fill="url(#s90)" shape-rendering="crispEdges"/>
<rect x="415" y="394" width="205" height="4" fill="url(#s91)" shape-rendering="crispEdges"/>
<rect x="415" y="398" width="205" height="4" fill="url(#s92)" shape-rendering="crispEdges"/>
<rect x="415" y="402" width="205" height="4" fill="url(#s93)" shape-rendering="crispEdges"/>
<rect x="415" y="406" width="205" height="4" fill="url(#s94)" shape-rendering="crispEdges"/>
<rect x="415" y="410" width="205" height="4" fill="url(#s95)" shape-rendering="crispEdges"/>
<rect x="415" y="414" width="205" height="4" fill="url(#s96)" shape-rendering="crispEdges"/>
<rect x="415" y="418" width="205" height="4" fill="url(#s97)" shape-rendering="crispEdges"/>
<rect x="415" y="422" width="205" height="4" fill="url(#s98)" shape-rendering="crispEdges"/>
<rect x="415" y="426" width="205" height="4" fill="url(#s99)" shape-rendering="crispEdges"/>
<rect x="415" y="430" width="205" height="4" fill="url(#s100)" shape-rendering="crispEdges"/>
<rect x="415" y="434" width="205" height="4" fill="url(#s101)" shape-rendering="crispEdges"/>
<rect x="415" y="438" width="205" height="4" fill="url(#s102)" shape-rendering="crispEdges"/>
<rect x="415" y="442" width="205" height="4" fill="url(#s103)" shape-rendering="crispEdges"/>
<rect x="415" y="446" width="205" height="4" fill="url(#s104)" shape-rendering="crispEdges"/>
<rect x="415" y="450" width="205" height="4" fill="url(#s105)" shape-rendering="crispEdges"/>
<rect x="415" y="454" width="205" height="4" fill="url(#s106)" shape-rendering="crispEdges"/>
<rect x="415" y="458" width="205" height="4" fill="url(#s107)" shape-rendering="crispEdges"/>
<rect x="415" y="462" width="205" height="4" fill="url(#s108)" shape-rendering="crispEdges"/>
<rect x="415" y="466" width="205" height="4" fill="url(#s109)" shape-rendering="crispEdges"/>
<rect x="415" y="470" width="205" height="4" fill="url(#s110)" shape-rendering="crispEdges"/>
<rect x="415" y="474" width="205" height="4" fill="url(#s111)" shape-rendering="crispEdges"/>
<rect x="415" y="478" width="205" height="4" fill="url(#s112)" shape-rendering="crispEdges"/>
<rect x="415" y="482" width="205" height="4" fill="url(#s113)" shape-rendering="crispEdges"/>
<rect x="415" y="486" width="205" height="4" fill="url(#s114)" shape-rendering="crispEdges"/>
<rect x="415" y="490" width="205" height="4" fill="url(#s115)" shape-rendering="crispEdges"/>
<rect x="415" y="494" width="205" height="4" fill="url(#s116)" shape-rendering="crispEdges"/>
<rect x="415" y="498" width="205" height="4" fill="url(#s117)" shape-rendering="crispEdges"/>
<rect x="415" y="502" width="205" height="4" fill="url(#s118)" shape-rendering="crispEdges"/>
<rect x="415" y="506" width="205" height="4" fill="url(#s119)" shape-rendering="crispEdges"/>
<rect x="415" y="510" width="205" height="4" fill="url(#s120)" shape-rendering="crispEdges"/>
<rect x="415" y="514" width="205" height="4" fill="url(#s121)" shape-rendering="crispEdges"/>
<rect x="415" y="518" width="205" height="4" fill="url(#s122)" shape-rendering="crispEdges"/>
  <path d="M 445.0,494.5 C 449.2,493.7 453.2,493.1 457.5,492.0 C 462.3,490.7 466.9,488.9 472.6,487.0 C 480.2,484.5 490.1,479.9 499.0,478.5 C 507.6,477.2 516.3,477.5 525.0,478.5 C 533.9,479.6 542.8,482.6 551.6,485.0 C 560.4,487.4 569.2,490.8 578.0,493.0 C 586.6,495.1 595.3,496.3 604.0,498.0 " transform="translate(0,-3)" fill="none" stroke="url(#bband)" stroke-width="16" filter="url(#blur3)"/></g>

  <!-- zigzag -->
  <g fill="#c86e86" stroke="none">
  <path fill-opacity="0.13" filter="url(#blur1)" transform="translate(0,10)" d="M 467.4,405.2 L 468.5,403.2 L 469.5,401.2 L 470.5,398.9 L 471.4,396.6 L 472.2,394.0 L 473.0,391.3 L 473.8,388.5 L 474.3,386.0 L 475.3,387.6 L 476.6,389.6 L 478.0,391.4 L 479.5,393.2 L 481.0,394.8 L 482.7,396.3 L 484.4,397.6 L 489.3,401.0 L 491.8,396.0 L 492.6,394.2 L 493.3,392.3 L 494.0,390.2 L 494.7,388.0 L 495.3,385.6 L 495.9,383.1 L 496.3,381.1 L 497.0,382.6 L 498.5,385.6 L 500.2,388.4 L 501.9,391.0 L 503.7,393.5 L 505.6,395.8 L 507.6,398.0 L 509.7,399.9 L 514.5,403.8 L 518.1,399.4 L 519.5,397.3 L 520.9,395.1 L 522.2,392.7 L 523.5,390.2 L 524.6,387.5 L 525.7,384.6 L 526.4,382.5 L 527.1,385.3 L 528.0,388.4 L 528.9,391.2 L 529.8,393.9 L 530.8,396.4 L 531.9,398.7 L 533.0,400.9 L 536.1,406.2 L 541.3,401.8 L 543.3,399.8 L 545.3,397.6 L 547.1,395.2 L 548.9,392.6 L 550.6,389.9 L 552.2,387.0 L 553.7,383.9 L 554.2,382.8 L 554.8,385.6 L 555.4,388.4 L 556.0,391.0 L 556.7,393.4 L 557.5,395.7 L 558.3,397.8 L 559.1,399.8 L 561.2,404.0 L 565.5,402.8 L 567.0,402.3 L 568.5,401.8 L 570.0,401.1 L 571.4,400.5 L 572.7,399.8 L 574.0,399.0 L 575.0,398.3 L 575.1,398.5 L 575.5,399.8 L 576.0,401.0 L 576.4,402.2 L 576.9,403.3 L 577.5,404.4 L 578.1,405.4 L 578.7,406.3 L 579.3,407.1 L 579.5,407.3 L 579.8,407.6 L 580.0,407.8 L 580.3,408.0 L 580.6,408.1 L 580.9,408.2 L 581.2,408.3 L 581.6,408.4 L 581.9,408.4 L 582.2,408.4 L 582.6,408.4 L 582.9,408.3 L 583.2,408.2 L 583.5,408.0 L 583.8,407.9 L 584.1,407.7 L 584.3,407.5 L 584.6,407.2 L 584.8,407.0 L 585.0,406.7 L 585.1,406.4 L 585.2,406.1 L 585.3,405.8 L 585.4,405.4 L 585.4,405.1 L 585.4,404.8 L 585.4,404.4 L 585.3,404.1 L 585.2,403.8 L 585.0,403.5 L 584.9,403.2 L 584.7,402.9 L 584.2,402.3 L 583.8,401.7 L 583.4,401.1 L 583.1,400.3 L 582.7,399.5 L 582.3,398.6 L 581.9,397.6 L 581.6,396.5 L 581.2,395.3 L 580.9,394.1 L 580.6,392.8 L 579.0,384.8 L 573.7,390.5 L 573.0,391.3 L 572.2,392.0 L 571.3,392.6 L 570.4,393.2 L 569.4,393.8 L 568.3,394.4 L 567.2,394.9 L 566.0,395.4 L 564.8,395.9 L 564.6,395.3 L 563.9,393.5 L 563.3,391.4 L 562.6,389.2 L 562.0,386.8 L 561.4,384.2 L 560.8,381.4 L 560.3,378.5 L 559.8,375.4 L 559.3,372.1 L 557.5,358.3 L 555.3,358.1 L 551.1,371.6 L 550.0,374.9 L 548.8,378.1 L 547.5,381.1 L 546.1,383.9 L 544.7,386.5 L 543.2,388.9 L 541.7,391.2 L 540.1,393.2 L 538.4,395.1 L 537.9,395.6 L 537.1,393.7 L 536.2,391.5 L 535.3,389.1 L 534.5,386.4 L 533.7,383.6 L 533.0,380.6 L 532.3,377.4 L 531.6,373.9 L 531.0,370.3 L 528.8,356.2 L 525.9,356.1 L 522.9,369.9 L 522.1,373.3 L 521.2,376.5 L 520.3,379.5 L 519.3,382.3 L 518.3,384.9 L 517.3,387.4 L 516.2,389.6 L 515.0,391.7 L 513.9,393.6 L 513.5,394.1 L 512.4,393.1 L 510.7,391.3 L 509.1,389.3 L 507.5,387.2 L 506.0,384.8 L 504.5,382.3 L 503.1,379.6 L 501.8,376.7 L 500.5,373.7 L 499.4,370.4 L 495.0,357.1 L 493.0,357.3 L 491.2,370.7 L 490.8,373.7 L 490.3,376.5 L 489.8,379.2 L 489.3,381.6 L 488.7,384.0 L 488.2,386.1 L 487.6,388.1 L 486.9,389.9 L 486.7,390.7 L 485.8,389.9 L 484.5,388.6 L 483.3,387.2 L 482.1,385.6 L 481.0,384.0 L 480.0,382.2 L 478.9,380.3 L 478.0,378.3 L 477.1,376.1 L 472.5,364.1 L 471.4,364.2 L 469.1,377.8 L 468.5,381.0 L 467.8,384.0 L 467.2,386.8 L 466.5,389.5 L 465.7,392.0 L 464.9,394.3 L 464.1,396.4 L 463.3,398.3 L 462.5,400.1 L 461.6,401.7 L 460.6,403.2 L 460.5,403.5 L 460.3,403.8 L 460.2,404.1 L 460.2,404.4 L 460.1,404.7 L 460.1,405.1 L 460.1,405.4 L 460.2,405.7 L 460.3,406.1 L 460.4,406.4 L 460.5,406.7 L 460.7,406.9 L 460.9,407.2 L 461.1,407.5 L 461.4,407.7 L 461.7,407.9 L 462.0,408.0 L 462.3,408.2 L 462.6,408.3 L 462.9,408.3 L 463.2,408.4 L 463.6,408.4 L 463.9,408.4 L 464.2,408.3 L 464.6,408.2 L 464.9,408.1 L 465.2,408.0 L 465.4,407.8 L 465.7,407.6 L 466.0,407.4 L 466.2,407.1 L 466.4,406.8 L 467.4,405.2 Z"/>
  <path fill-opacity="0.42" d="M 467.4,405.2 L 468.5,403.2 L 469.5,401.2 L 470.5,398.9 L 471.4,396.6 L 472.2,394.0 L 473.0,391.3 L 473.8,388.5 L 474.3,386.0 L 475.3,387.6 L 476.6,389.6 L 478.0,391.4 L 479.5,393.2 L 481.0,394.8 L 482.7,396.3 L 484.4,397.6 L 489.3,401.0 L 491.8,396.0 L 492.6,394.2 L 493.3,392.3 L 494.0,390.2 L 494.7,388.0 L 495.3,385.6 L 495.9,383.1 L 496.3,381.1 L 497.0,382.6 L 498.5,385.6 L 500.2,388.4 L 501.9,391.0 L 503.7,393.5 L 505.6,395.8 L 507.6,398.0 L 509.7,399.9 L 514.5,403.8 L 518.1,399.4 L 519.5,397.3 L 520.9,395.1 L 522.2,392.7 L 523.5,390.2 L 524.6,387.5 L 525.7,384.6 L 526.4,382.5 L 527.1,385.3 L 528.0,388.4 L 528.9,391.2 L 529.8,393.9 L 530.8,396.4 L 531.9,398.7 L 533.0,400.9 L 536.1,406.2 L 541.3,401.8 L 543.3,399.8 L 545.3,397.6 L 547.1,395.2 L 548.9,392.6 L 550.6,389.9 L 552.2,387.0 L 553.7,383.9 L 554.2,382.8 L 554.8,385.6 L 555.4,388.4 L 556.0,391.0 L 556.7,393.4 L 557.5,395.7 L 558.3,397.8 L 559.1,399.8 L 561.2,404.0 L 565.5,402.8 L 567.0,402.3 L 568.5,401.8 L 570.0,401.1 L 571.4,400.5 L 572.7,399.8 L 574.0,399.0 L 575.0,398.3 L 575.1,398.5 L 575.5,399.8 L 576.0,401.0 L 576.4,402.2 L 576.9,403.3 L 577.5,404.4 L 578.1,405.4 L 578.7,406.3 L 579.3,407.1 L 579.5,407.3 L 579.8,407.6 L 580.0,407.8 L 580.3,408.0 L 580.6,408.1 L 580.9,408.2 L 581.2,408.3 L 581.6,408.4 L 581.9,408.4 L 582.2,408.4 L 582.6,408.4 L 582.9,408.3 L 583.2,408.2 L 583.5,408.0 L 583.8,407.9 L 584.1,407.7 L 584.3,407.5 L 584.6,407.2 L 584.8,407.0 L 585.0,406.7 L 585.1,406.4 L 585.2,406.1 L 585.3,405.8 L 585.4,405.4 L 585.4,405.1 L 585.4,404.8 L 585.4,404.4 L 585.3,404.1 L 585.2,403.8 L 585.0,403.5 L 584.9,403.2 L 584.7,402.9 L 584.2,402.3 L 583.8,401.7 L 583.4,401.1 L 583.1,400.3 L 582.7,399.5 L 582.3,398.6 L 581.9,397.6 L 581.6,396.5 L 581.2,395.3 L 580.9,394.1 L 580.6,392.8 L 579.0,384.8 L 573.7,390.5 L 573.0,391.3 L 572.2,392.0 L 571.3,392.6 L 570.4,393.2 L 569.4,393.8 L 568.3,394.4 L 567.2,394.9 L 566.0,395.4 L 564.8,395.9 L 564.6,395.3 L 563.9,393.5 L 563.3,391.4 L 562.6,389.2 L 562.0,386.8 L 561.4,384.2 L 560.8,381.4 L 560.3,378.5 L 559.8,375.4 L 559.3,372.1 L 557.5,358.3 L 555.3,358.1 L 551.1,371.6 L 550.0,374.9 L 548.8,378.1 L 547.5,381.1 L 546.1,383.9 L 544.7,386.5 L 543.2,388.9 L 541.7,391.2 L 540.1,393.2 L 538.4,395.1 L 537.9,395.6 L 537.1,393.7 L 536.2,391.5 L 535.3,389.1 L 534.5,386.4 L 533.7,383.6 L 533.0,380.6 L 532.3,377.4 L 531.6,373.9 L 531.0,370.3 L 528.8,356.2 L 525.9,356.1 L 522.9,369.9 L 522.1,373.3 L 521.2,376.5 L 520.3,379.5 L 519.3,382.3 L 518.3,384.9 L 517.3,387.4 L 516.2,389.6 L 515.0,391.7 L 513.9,393.6 L 513.5,394.1 L 512.4,393.1 L 510.7,391.3 L 509.1,389.3 L 507.5,387.2 L 506.0,384.8 L 504.5,382.3 L 503.1,379.6 L 501.8,376.7 L 500.5,373.7 L 499.4,370.4 L 495.0,357.1 L 493.0,357.3 L 491.2,370.7 L 490.8,373.7 L 490.3,376.5 L 489.8,379.2 L 489.3,381.6 L 488.7,384.0 L 488.2,386.1 L 487.6,388.1 L 486.9,389.9 L 486.7,390.7 L 485.8,389.9 L 484.5,388.6 L 483.3,387.2 L 482.1,385.6 L 481.0,384.0 L 480.0,382.2 L 478.9,380.3 L 478.0,378.3 L 477.1,376.1 L 472.5,364.1 L 471.4,364.2 L 469.1,377.8 L 468.5,381.0 L 467.8,384.0 L 467.2,386.8 L 466.5,389.5 L 465.7,392.0 L 464.9,394.3 L 464.1,396.4 L 463.3,398.3 L 462.5,400.1 L 461.6,401.7 L 460.6,403.2 L 460.5,403.5 L 460.3,403.8 L 460.2,404.1 L 460.2,404.4 L 460.1,404.7 L 460.1,405.1 L 460.1,405.4 L 460.2,405.7 L 460.3,406.1 L 460.4,406.4 L 460.5,406.7 L 460.7,406.9 L 460.9,407.2 L 461.1,407.5 L 461.4,407.7 L 461.7,407.9 L 462.0,408.0 L 462.3,408.2 L 462.6,408.3 L 462.9,408.3 L 463.2,408.4 L 463.6,408.4 L 463.9,408.4 L 464.2,408.3 L 464.6,408.2 L 464.9,408.1 L 465.2,408.0 L 465.4,407.8 L 465.7,407.6 L 466.0,407.4 L 466.2,407.1 L 466.4,406.8 L 467.4,405.2 Z"/>
  </g>

  <!-- tracts -->
  <path fill="#4b0508" d="M 370.5,227.6 C 374.0,234.6 376.6,241.7 381.0,248.5 C 385.7,255.9 393.7,264.6 398.3,270.0 C 401.2,273.4 403.6,275.0 405.5,278.0 C 407.4,281.1 408.7,284.7 409.6,288.4 C 410.6,292.3 410.7,296.1 411.0,300.7 C 411.4,306.4 411.1,313.7 411.7,320.0 C 412.3,326.0 413.6,331.7 414.3,337.5 C 415.0,343.3 414.5,349.6 416.0,355.0 C 417.5,360.1 421.2,364.2 423.0,369.0 C 424.7,373.6 424.9,378.4 426.6,383.0 C 428.4,387.8 430.9,392.6 433.6,397.0 C 436.2,401.4 439.5,405.3 442.4,409.5 C 445.3,413.6 448.7,418.2 451.0,421.8 C 452.7,424.5 453.7,426.6 455.0,429.0 L 462,420 C 459.8,417.7 457.5,415.8 455.5,413.0 C 453.2,409.6 451.9,404.5 449.4,400.7 C 446.9,396.9 442.5,393.9 440.6,390.0 C 438.8,386.3 438.9,381.9 438.0,378.0 C 437.2,374.4 436.8,371.0 435.4,367.4 C 433.8,363.3 430.2,359.2 428.3,355.0 C 426.5,351.0 424.6,346.9 424.0,342.8 C 423.4,338.8 425.0,334.4 424.8,330.5 C 424.6,326.8 424.1,323.7 423.0,320.0 C 421.7,315.5 418.1,310.7 416.7,305.8 C 415.3,300.9 415.6,295.2 414.7,290.5 C 413.9,286.4 413.3,282.4 411.6,279.0 C 409.9,275.6 407.4,273.6 404.4,270.0 C 399.8,264.4 391.9,255.7 386.6,248.5 C 381.7,241.7 377.9,234.8 373.5,228.0 Z"/>
  <path fill="#4b0508" d="M 458.0,426.0 C 454.7,426.3 451.8,426.3 448.2,427.0 C 443.4,427.9 436.7,429.8 431.8,431.7 C 427.5,433.4 423.6,435.1 420.1,437.5 C 416.7,439.8 414.0,443.1 410.8,445.7 C 407.7,448.2 404.9,451.1 401.4,452.7 C 397.9,454.3 393.4,453.6 389.7,455.0 C 386.0,456.4 382.4,458.5 379.2,461.0 C 375.8,463.6 372.1,467.1 369.9,470.3 C 368.1,472.9 368.0,475.6 366.4,478.4 C 364.4,481.8 360.0,486.3 358.2,489.0 C 357.1,490.6 356.7,491.7 356.0,493.0 L 382,494 C 381.7,492.3 381.4,491.0 381.0,489.0 C 380.5,486.1 379.5,481.6 379.2,478.4 C 379.0,475.8 378.7,473.4 379.2,471.4 C 379.6,469.6 380.3,468.2 381.6,466.8 C 383.6,464.7 387.7,462.4 391.0,461.0 C 394.3,459.7 398.0,460.1 401.4,458.6 C 405.4,456.8 409.4,453.1 413.1,450.4 C 416.4,448.0 419.1,445.5 422.5,443.4 C 426.1,441.2 429.9,439.0 434.0,437.5 C 438.4,435.9 443.7,434.7 448.2,434.0 C 452.3,433.3 456.1,433.3 460.0,433.0 Z"/>
    <path fill="#4b0508" d="M 556.0,310.0 C 558.0,312.3 560.0,314.4 562.0,317.0 C 564.3,320.1 566.6,323.7 569.0,327.5 C 571.8,331.8 575.4,337.0 577.8,341.6 C 580.0,345.8 581.5,349.7 583.0,354.0 C 584.5,358.5 585.5,363.1 586.6,368.0 C 587.8,373.5 589.0,379.8 590.0,385.4 C 591.0,390.7 591.5,396.0 592.7,401.0 C 593.9,405.8 595.7,410.2 597.0,415.0 C 598.3,419.9 599.4,424.3 600.6,430.0 C 602.1,437.3 603.9,447.1 605.0,455.0 C 606.0,462.0 606.4,467.8 607.0,475.0 C 607.7,483.3 608.3,493.0 609.0,502.0 L 625.5,502 C 624.5,493.0 623.6,483.3 622.5,475.0 C 621.6,467.8 620.5,462.0 619.5,455.0 C 618.4,447.1 617.5,437.3 616.4,430.0 C 615.6,424.4 615.1,419.5 613.8,415.0 C 612.7,411.2 611.2,408.2 609.4,404.7 C 607.4,400.7 604.5,396.7 602.4,392.5 C 600.4,388.4 598.7,384.6 597.0,380.0 C 595.1,374.7 593.1,368.5 591.8,362.6 C 590.5,356.8 590.2,351.1 589.2,345.0 C 588.1,338.3 587.0,330.3 585.7,324.0 C 584.6,318.8 583.2,314.7 582.0,310.0 Z"/>

  <!-- openings -->
  <g id="op1" transform="translate(544,275)">
    <path fill="#f5b0ae" d="M 28,3 C 36,2 43,8 45,18 C 46.5,28 43,37 37,40 C 33,42 30,41 28,40 Z"/>
    <path fill="#e6252f" d="M 0.4,12.5 C 1,9 2.5,7 4.2,5.7 C 6,3.5 8,2.5 11,1.5 C 15,0 20,-0.5 23.7,-0.2 C 27,0.5 29.5,2.5 31.3,4 C 34,3.5 37,3.5 39,4 C 39.5,9 39,14 38.1,17.6 C 36.5,22 34.5,25.5 33,28.6 C 32.5,31 32.5,34 32.2,37 C 31,39 29.5,40.5 28,41.3 C 24,42 20,42 17,41.3 C 12,40 8,37.5 5,34.6 C 2.5,31.5 1.2,28.5 0.8,25.2 C 0.3,21 0.1,16.5 0.4,12.5 Z"/>
    <path fill="#ee4a50" fill-opacity="0.5" d="M 6,8 C 12,3 22,1.5 30,5 C 26,9 14,10 6,14 Z"/>
    <path fill="#2c0000" filter="url(#blur1)" d="M 14,19 L 22,18.5 L 22,14 L 28,14.5 L 29,19 L 34,21 L 33,26 L 28,26 L 27,28 L 22,27.5 L 21,24 L 14,23 Z"/>
  </g>
  <use href="#op1" transform="translate(453.3,415.3) scale(0.705) translate(-544,-275)"/>
</g></g>

<!-- arrows -->
<g fill="#0d0d0d" stroke="none">
<path d="M 588.5,309 Q 608.7,301.5 624.3,292.9 L 619,303.9 L 628,314.8 Q 610.2,310.5 588.5,309 Z"/><line x1="619" y1="303.9" x2="656.4" y2="298.6" stroke="#0d0d0d" stroke-width="3.6" stroke-linecap="round"/>
<path d="M 370.7,508.4 Q 367.3,530.1 367.2,547.9 L 360,539 L 346,540 Q 358.6,526.9 370.7,508.4 Z"/><line x1="360" y1="539" x2="345.3" y2="572.5" stroke="#0d0d0d" stroke-width="3.6" stroke-linecap="round"/>
<path d="M 477.9,453.3 Q 487.3,473.4 497.3,488 L 486,486 L 473.8,494.3 Q 477.7,476.0 477.9,453.3 Z"/><line x1="486" y1="486" x2="492.8" y2="521" stroke="#0d0d0d" stroke-width="3.6" stroke-linecap="round"/>
<path d="M 622,510 Q 639.5,523.1 655,531 L 644,535 L 637.7,546 Q 632.4,529.3 622,510 Z"/><line x1="644" y1="535" x2="666.7" y2="562" stroke="#0d0d0d" stroke-width="3.6" stroke-linecap="round"/>
</g>

<!-- labels -->
<text x="475.5" y="165.8" font-size="23" textLength="90.5" lengthAdjust="spacingAndGlyphs">RECTUM</text>
<text x="658.8" y="274.4" font-size="22" textLength="104.6" lengthAdjust="spacingAndGlyphs">Anorectal</text>
<text x="663.4" y="297" font-size="22" textLength="93" lengthAdjust="spacingAndGlyphs">fistulous</text>
<text x="663.4" y="319.7" font-size="22" textLength="91.4" lengthAdjust="spacingAndGlyphs">foramen</text>
<text x="309.6" y="596" font-size="22" textLength="69.9" lengthAdjust="spacingAndGlyphs">Fistula</text>
<text x="470.3" y="548.5" font-size="22" textLength="48.5" lengthAdjust="spacingAndGlyphs">Anal</text>
<text x="461.5" y="571" font-size="22" textLength="68.5" lengthAdjust="spacingAndGlyphs">Fistula</text>
<text x="640" y="587.4" font-size="22" textLength="69.6" lengthAdjust="spacingAndGlyphs">Fistula</text>
</svg>
</body></html>
